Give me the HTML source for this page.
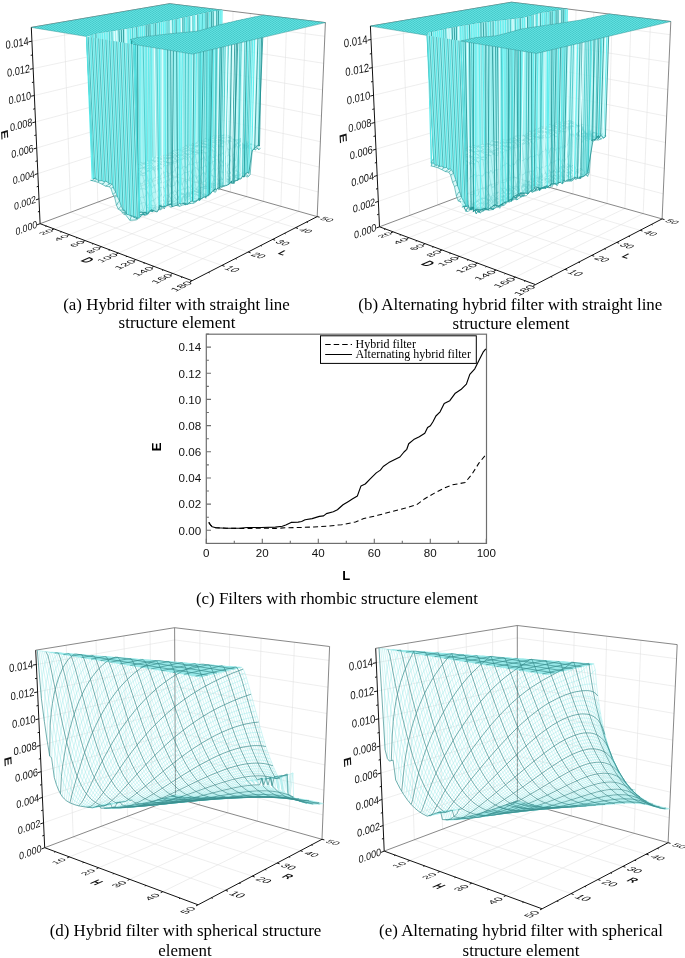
<!DOCTYPE html><html><head><meta charset="utf-8"><style>
html,body{margin:0;padding:0;background:#fff;}
svg{display:block;will-change:transform;}
.grid{fill:none;stroke:#e0e0e0;stroke-width:.55}
.edge{fill:none;stroke:#6a6a6a;stroke-width:.8}
.axis{fill:none;stroke:#111;stroke-width:1}
.tl{font-family:"Liberation Sans",sans-serif;font-size:10px;fill:#111}
.tt{font-family:"Liberation Sans",sans-serif;font-size:10px;font-weight:bold;fill:#111}
.pf{fill:#7fe6e6;fill-opacity:.85}
.ml{fill:none;stroke:#9ae9e9;stroke-width:.45}
.md{fill:none;stroke:#3a8e8e;stroke-width:.7}
.pl{fill:url(#plt);stroke:#3a9a9a;stroke-width:.5}
.wf{fill:#a4f2f2}
.wf2{fill:#a8f3f3;fill-opacity:.7}
.wl0{fill:none;stroke:#5feeee;stroke-width:1.1}
.wl1{fill:none;stroke:#38c2c2;stroke-width:.8}
.wl2{fill:none;stroke:#1c9191;stroke-width:.8}
.wl3{fill:none;stroke:#eaffff;stroke-width:1}
.w0f{fill:#a6f1f1}
.w0a{fill:none;stroke:#27a0a0;stroke-width:.7}
.w0b{fill:none;stroke:#5ae8e8;stroke-width:1}
.vf{fill:#b8f4f4;fill-opacity:.5}
.vl{fill:none;stroke:#229b9b;stroke-width:.6}
.vb{fill:none;stroke:#1f8f8f;stroke-width:.8}
.ct{font-family:"Liberation Sans",sans-serif;font-size:11.6px;fill:#111}
.cb{font-family:"Liberation Sans",sans-serif;font-size:13px;font-weight:bold;fill:#000}
.lg{font-family:"Liberation Serif",serif;font-size:12px;fill:#000}
.cap{font-family:"Liberation Serif",serif;font-size:16.9px;fill:#000}
</style></head><body><svg width="685" height="958" viewBox="0 0 685 958"><defs><pattern id="plt" width="3" height="2" patternUnits="userSpaceOnUse"><rect width="3" height="2" fill="#55d9d9"/><path d="M0 .5h1.5M1.5 1.5h1.5" stroke="#3fc4c4" stroke-width=".7"/><path d="M1.5 .5h1.5M0 1.5h1.5" stroke="#6fe6e6" stroke-width=".5"/></pattern></defs><path class="grid" d="M39 198.8L170.2 153.1M170.2 153.1L318.3 192M37.9 173.6L170.1 131M170.1 131L319.3 167.1M36.7 148L170 108.6M170 108.6L320.4 141.7M35.5 121.9L170 85.9M170 85.9L321.4 116M34.4 95.5L169.9 62.8M169.9 62.8L322.5 89.9M33.1 68.6L169.8 39.4M169.8 39.4L323.7 63.3M31.9 41.2L169.7 15.7M169.7 15.7L324.8 36.3M70.8 212.2L64 21.8M70.8 212.2L222 265.4M97.8 202.1L92.8 16.9M97.8 202.1L248.2 252M123.3 192.5L119.9 12.2M123.3 192.5L272.7 239.4M147.5 183.5L145.5 7.9M147.5 183.5L295.6 227.7M184.1 178.9L184.1 5.5M54.1 228.9L184.1 178.9M199.1 183.1L199.9 7.4M69.4 234.6L199.1 183.1M214.5 187.5L216.2 9.4M85.2 240.6L214.5 187.5M230.4 192L233 11.4M101.5 246.7L230.4 192M246.8 196.6L250.4 13.5M118.4 253L246.8 196.6M263.6 201.4L268.2 15.7M135.8 259.6L263.6 201.4M280.9 206.3L286.7 17.9M153.9 266.4L280.9 206.3M298.8 211.4L305.7 20.3M172.7 273.4L298.8 211.4"/><path class="edge" d="M31.3 27.4L169.6 3.7L325.4 22.6M170.3 175L169.6 3.7M317.2 216.6L325.4 22.6M40.1 223.7L170.3 175L317.2 216.6"/><path class="pl" d="M31.3 27.4L169.6 3.7L222.1 10.1L220.3 10.4L218.5 10.7L216.8 11L215 11.3L213.2 11.6L211.4 11.9L209.6 12.2L207.8 12.5L206 12.9L204.2 13.2L202.6 13.5L201 13.9L199.4 14.2L197.8 14.6L196.2 14.9L194.5 15.3L192.9 15.6L191.3 16L189.6 16.3L188 16.7L186.3 17L184.6 17.4L182.9 17.8L181.3 18.1L179.6 18.5L177.9 18.9L176.1 19.2L174.4 19.6L172.6 20L170.8 20.3L168.9 20.7L167 21.1L165.2 21.4L163.3 21.8L161.4 22.2L159.5 22.5L157.6 22.9L155.7 23.3L153.8 23.7L151.9 24L149.9 24.4L148.1 24.8L146.2 25.2L144.3 25.6L142.4 26L140.5 26.4L138.6 26.8L136.7 27.2L134.7 27.6L132.5 28L130.3 28.3L128 28.7L125.8 29.1L123.5 29.4L121.3 29.8L119 30.2L116.6 30.6L114.2 30.9L111.8 31.3L109.4 31.7L107 32L104.6 32.4L102.2 32.8L100.1 33.2L98 33.6L95.9 34.1L93.7 34.5L92 35L90.4 35.5L88.7 36.1L86.5 36.5Z"/><path class="wf" d="M86.5 36.5L88.7 36.1L90.4 35.5L92 35L93.7 34.5L95.9 34.1L98 33.6L100.1 33.2L102.2 32.8L104.6 32.4L107 32L109.4 31.7L111.8 31.3L114.2 30.9L116.6 30.6L119 30.2L121.3 29.8L123.5 29.4L125.8 29.1L128 28.7L130.3 28.3L132.5 28L134.7 27.6L136.7 27.2L138.6 26.8L140.5 26.4L142.4 26L144.3 25.6L146.2 25.2L148.1 24.8L149.9 24.4L151.9 24L153.8 23.7L155.7 23.3L157.6 22.9L159.5 22.5L161.4 22.2L163.3 21.8L165.2 21.4L167 21.1L168.9 20.7L170.8 20.3L172.6 20L174.4 19.6L176.1 19.2L177.9 18.9L179.6 18.5L181.3 18.1L182.9 17.8L184.6 17.4L186.3 17L188 16.7L189.6 16.3L191.3 16L192.9 15.6L194.5 15.3L196.2 14.9L197.8 14.6L199.4 14.2L201 13.9L202.6 13.5L204.2 13.2L206 12.9L207.8 12.5L209.6 12.2L211.4 11.9L213.2 11.6L215 11.3L216.8 11L218.5 10.7L220.3 10.4L222.1 10.1L220.7 135.4L218.5 134L217.5 135.7L216.1 137.9L215.6 135.3L213.3 137.2L211.7 138.2L211.9 137.7L207.2 140.4L206.2 140.4L202.1 140.2L199.9 141.4L201.5 141L199.5 143L198.6 142.6L196 142.7L197.3 143.7L194.2 143.6L192.9 145L188.7 145.2L189.4 146.7L187.2 146.5L185.3 146.5L183.4 147.5L183.2 149.4L181.9 149.3L178.8 149.8L177.3 151L176.4 152.5L174.6 152.2L173.5 152.7L170 155L167.7 154L164.9 154.6L165.8 156.8L163.1 156.6L160.6 155.7L161 156L156.4 156.1L155.5 159.4L153.5 160.7L152.8 157.7L151 160.1L147.7 161L146.9 161.9L143.6 163L143.5 164.9L140.2 167.5L140 163.3L137.9 163.8L134.8 166.1L134.7 166.4L130.6 167.3L128.5 168.7L124.6 169.3L124.8 169L123.4 169.1L121.1 170.6L118.7 171.3L115.9 172.6L110.6 172.7L109.9 172.9L108.5 173.1L106.6 173.7L103.8 174.3L102.5 175.8L98.5 176.1L98.1 175.6L96.8 179.2L94 178.7L93.8 177.6L92.2 179.1Z"/><path class="wl0" d="M86.5 36.5l5.7 142.6M90.4 35.5l3.7 143.1M93.7 34.5l4.4 141.1M98 33.6l4.5 142.2M100.1 33.2l3.8 141.1M102.2 32.8l4.5 140.9M104.6 32.4l3.9 140.7M107 32l2.9 140.9M128 28.7l2.6 138.6M130.3 28.3l4.4 138.1M134.7 27.6l3.2 136.2M138.6 26.8l1.6 140.7M140.5 26.4l3 138.5M142.4 26l1.2 137.1M144.3 25.6l2.5 136.3M151.9 24l1.6 136.6M157.6 22.9l3.3 133.1M161.4 22.2l1.7 134.5M163.3 21.8l2.5 135M165.2 21.4l-.2 133.2M174.4 19.6l2 132.9M177.9 18.9l1 130.9M179.6 18.5l2.3 130.8M186.3 17l.9 129.4M194.5 15.3l2.8 128.5M199.4 14.2l.1 128.7M201 13.9l.5 127.1M204.2 13.2l-2.1 127M209.6 12.2l2.3 125.5M220.3 10.4l-1.8 123.6M222.1 10.1l-1.4 125.3"/><path class="wl1" d="M92 35l4.8 144.2M109.4 31.7l1.2 141.1M111.8 31.3l4.1 141.3M132.5 28l2.3 138.1M153.8 23.7l1.7 135.7M159.5 22.5l1.1 133.2M167 21.1l.7 132.9M168.9 20.7l1.1 134.3M172.6 20l2 132.2M184.6 17.4l.7 129.1M188 16.7l1.4 130.1M189.6 16.3l-.9 128.9M192.9 15.6l1.3 128M202.6 13.5l-2.6 127.9"/><path class="wl2" d="M95.9 34.1l2.6 142.1M119 30.2l4.5 138.9M121.3 29.8l3.6 139.1M123.5 29.4l1.1 139.9M136.7 27.2l3.4 136.2M146.2 25.2l1.5 135.8M148.1 24.8l2.9 135.3M149.9 24.4l2.9 133.2M155.7 23.3l.7 132.9M176.1 19.2l1.2 131.7M182.9 17.8l.5 129.8M197.8 14.6l.9 128M206 12.9l.2 127.5M207.8 12.5l-.6 127.9M211.4 11.9l.3 126.3M213.2 11.6l.1 125.6M216.8 11l-.6 126.9M218.5 10.7l-1 125"/><path class="wl3" d="M88.7 36.1l5.1 141.5M114.2 30.9l4.5 140.4M116.6 30.6l4.5 140.1M125.8 29.1l2.7 139.6M170.8 20.3l2.8 132.4M181.3 18.1l1.9 131.3M191.3 16l1.7 129M196.2 14.9l-.2 127.8M215 11.3l.7 124"/><path class="vf" d="M90.6 180.3L92.8 180.3L94.3 178.2L95.9 178.1L97.5 175.5L99.5 175.9L101.5 174.7L103.6 174.7L105.6 173.8L107.9 174.3L110.2 172.1L112.5 170.3L114.8 171.9L117.1 171.5L119.4 170.4L121.7 170.1L123.8 169.7L126 168.2L128.2 168L130.3 165.6L132.5 166.4L134.6 165.4L136.7 164.1L138.6 164.7L140.4 162.2L142.2 163.7L144.1 163.1L145.9 162L147.7 161L149.5 161.7L151.3 159.6L153.1 160.6L155 156.8L156.8 157.7L158.6 157.6L160.5 157.2L162.3 156L164.1 155.2L165.9 155.4L167.7 154.6L169.5 153.2L171.3 152.9L173 150.9L174.8 150L176.4 150.5L178.1 149.4L179.7 150.5L181.3 147.9L183 148L184.6 146.8L186.2 145.1L187.8 148.2L189.4 145.1L191 145.8L192.5 143.6L194.1 144.8L195.7 143.4L197.2 142.1L198.8 141.1L200.3 141L201.9 141.2L203.4 140.4L205.1 138.4L206.9 138.7L208.6 139.8L210.4 136.9L212.1 136.7L213.8 135.8L215.5 136.4L217.3 134.7L218.9 136L220.7 133.9L224.5 134L222.9 135.5L221.2 136.2L219.5 137.6L217.8 136.6L216.1 138.4L214.4 138.3L212.7 138.6L210.9 139.9L209.2 140.2L207.5 141L205.9 141.3L204.4 141.2L202.8 143.3L201.2 142.4L199.7 142.9L198.1 145.6L196.5 145.4L194.9 146.9L193.3 145.6L191.6 149.2L190 148.6L188.4 147.1L186.8 148.5L185.1 148.6L183.5 149.6L181.8 152.4L180.1 149.5L178.5 152.6L176.7 153.3L174.9 154.7L173.1 153.3L171.4 155.5L169.6 155.1L167.7 155.8L165.9 158.3L164.1 157.4L162.3 158.2L160.5 158.7L158.6 158.4L156.7 159.2L154.9 161.3L153.1 160.6L151.3 160.8L149.5 162.7L147.6 163.5L145.8 164.9L143.9 163.7L142.1 165.4L140.2 164.5L138.1 166.6L136 166.9L133.9 168.8L131.8 167.7L129.6 168.9L127.5 171.3L125.4 172.1L123.1 170L120.9 172.6L118.7 174.4L116.4 171.1L114.2 173.2L111.9 174.2L109.7 176.6L107.6 175.3L105.6 175.4L103.5 177.2L101.5 177.8L99.8 179.1L98 178L96.4 179.2L94.3 181.2ZM94.3 181.2L96.4 179.2L98 178L99.8 179.1L101.5 177.8L103.5 177.2L105.6 175.4L107.6 175.3L109.7 176.6L111.9 174.2L114.2 173.2L116.4 171.1L118.7 174.4L120.9 172.6L123.1 170L125.4 172.1L127.5 171.3L129.6 168.9L131.8 167.7L133.9 168.8L136 166.9L138.1 166.6L140.2 164.5L142.1 165.4L143.9 163.7L145.8 164.9L147.6 163.5L149.5 162.7L151.3 160.8L153.1 160.6L154.9 161.3L156.7 159.2L158.6 158.4L160.5 158.7L162.3 158.2L164.1 157.4L165.9 158.3L167.7 155.8L169.6 155.1L171.4 155.5L173.1 153.3L174.9 154.7L176.7 153.3L178.5 152.6L180.1 149.5L181.8 152.4L183.5 149.6L185.1 148.6L186.8 148.5L188.4 147.1L190 148.6L191.6 149.2L193.3 145.6L194.9 146.9L196.5 145.4L198.1 145.6L199.7 142.9L201.2 142.4L202.8 143.3L204.4 141.2L205.9 141.3L207.5 141L209.2 140.2L210.9 139.9L212.7 138.6L214.4 138.3L216.1 138.4L217.8 136.6L219.5 137.6L221.2 136.2L222.9 135.5L224.5 134L228.4 137.6L226.8 134.8L225.1 138.7L223.5 137.9L221.8 138.3L220.1 141.1L218.4 139.1L216.7 140.5L215 140.5L213.3 141L211.6 140.8L210 142.3L208.5 144.2L206.9 144.4L205.3 144.4L203.7 143.6L202.1 144.5L200.4 146.2L198.8 144.2L197.2 147L195.5 147L193.9 148.1L192.2 149.5L190.6 150.5L188.9 149.9L187.2 150.9L185.6 151.6L183.9 151.8L182.2 152.8L180.4 155.2L178.6 154.4L176.8 155.9L175 155.2L173.2 156.1L171.4 157.1L169.6 157.8L167.8 158.2L166 158.6L164.1 160L162.3 159.5L160.4 159.2L158.6 161.5L156.7 160.4L154.9 161.5L153.1 163.6L151.2 162.4L149.3 164.8L147.5 165.9L145.6 167.2L143.7 167.6L141.6 167.7L139.6 168.7L137.5 168.2L135.4 167.6L133.3 169.5L131.2 171.1L129.1 172.3L126.9 172.1L124.7 172.2L122.5 172.4L120.4 173.4L118.2 175.9L116 176.5L113.7 177.8L111.7 178.5L109.6 177.9L107.6 177.8L105.5 179.6L103.7 179.7L101.9 180L100.1 179.1L98 182.3ZM98 182.3L100.1 179.1L101.9 180L103.7 179.7L105.5 179.6L107.6 177.8L109.6 177.9L111.7 178.5L113.7 177.8L116 176.5L118.2 175.9L120.4 173.4L122.5 172.4L124.7 172.2L126.9 172.1L129.1 172.3L131.2 171.1L133.3 169.5L135.4 167.6L137.5 168.2L139.6 168.7L141.6 167.7L143.7 167.6L145.6 167.2L147.5 165.9L149.3 164.8L151.2 162.4L153.1 163.6L154.9 161.5L156.7 160.4L158.6 161.5L160.4 159.2L162.3 159.5L164.1 160L166 158.6L167.8 158.2L169.6 157.8L171.4 157.1L173.2 156.1L175 155.2L176.8 155.9L178.6 154.4L180.4 155.2L182.2 152.8L183.9 151.8L185.6 151.6L187.2 150.9L188.9 149.9L190.6 150.5L192.2 149.5L193.9 148.1L195.5 147L197.2 147L198.8 144.2L200.4 146.2L202.1 144.5L203.7 143.6L205.3 144.4L206.9 144.4L208.5 144.2L210 142.3L211.6 140.8L213.3 141L215 140.5L216.7 140.5L218.4 139.1L220.1 141.1L221.8 138.3L223.5 137.9L225.1 138.7L226.8 134.8L228.4 137.6L232.4 137.2L230.7 136.9L229.1 137.7L227.5 137.1L225.8 139.1L224.1 141.8L222.5 140.4L220.8 139.4L219.1 141.9L217.5 142.2L215.8 143.4L214.2 142.5L212.6 143L211 143.8L209.3 146L207.7 145.6L206.1 146.5L204.4 146.9L202.8 146.9L201.1 147.1L199.5 148L197.8 151.1L196.1 151L194.4 151.4L192.7 152.6L191 150.9L189.3 152.6L187.6 154.5L185.9 153.6L184.1 153.6L182.3 155.4L180.5 155.2L178.8 157.6L176.9 156.3L175.1 157.9L173.3 157.6L171.5 158L169.6 158L167.8 160L166 162.5L164.1 161.6L162.2 161.9L160.4 163.8L158.5 164.5L156.7 165.9L154.8 167.4L152.9 167.5L151 165.3L149.1 167.3L147.2 168.9L145.2 166.4L143.2 167.9L141.2 171.8L139.1 170.2L137 170.5L135 173.3L132.9 172.1L130.8 173.3L128.6 173.4L126.5 175.2L124.4 176.6L122.2 177.8L120 175.3L117.9 178.5L115.8 179.9L113.7 178.9L111.6 179L109.6 179.4L107.7 181.6L105.7 180.1L103.9 183.4L101.7 184ZM101.7 184L103.9 183.4L105.7 180.1L107.7 181.6L109.6 179.4L111.6 179L113.7 178.9L115.8 179.9L117.9 178.5L120 175.3L122.2 177.8L124.4 176.6L126.5 175.2L128.6 173.4L130.8 173.3L132.9 172.1L135 173.3L137 170.5L139.1 170.2L141.2 171.8L143.2 167.9L145.2 166.4L147.2 168.9L149.1 167.3L151 165.3L152.9 167.5L154.8 167.4L156.7 165.9L158.5 164.5L160.4 163.8L162.2 161.9L164.1 161.6L166 162.5L167.8 160L169.6 158L171.5 158L173.3 157.6L175.1 157.9L176.9 156.3L178.8 157.6L180.5 155.2L182.3 155.4L184.1 153.6L185.9 153.6L187.6 154.5L189.3 152.6L191 150.9L192.7 152.6L194.4 151.4L196.1 151L197.8 151.1L199.5 148L201.1 147.1L202.8 146.9L204.4 146.9L206.1 146.5L207.7 145.6L209.3 146L211 143.8L212.6 143L214.2 142.5L215.8 143.4L217.5 142.2L219.1 141.9L220.8 139.4L222.5 140.4L224.1 141.8L225.8 139.1L227.5 137.1L229.1 137.7L230.7 136.9L232.4 137.2L236.3 139.8L234.7 140.1L233.1 139.9L231.5 138.8L229.9 140.4L228.2 140.4L226.6 141.2L224.9 142L223.3 142.1L221.6 143.6L220 144.3L218.3 145.3L216.7 144.1L215.1 146.1L213.4 148.1L211.8 145.2L210.1 147.8L208.5 148.3L206.8 146.9L205.1 146.7L203.4 150.3L201.7 150.1L200 152L198.3 152.5L196.6 152.8L194.9 152.3L193.1 152L191.4 153.9L189.6 154.3L187.9 154.9L186.1 156.6L184.3 156.1L182.5 157.5L180.7 159.7L178.9 158.9L177.1 161L175.2 158L173.4 161.4L171.5 163L169.7 162.5L167.8 162.9L165.9 161.7L164.1 163.9L162.2 164.5L160.3 163.7L158.4 165.6L156.5 167.9L154.6 169.3L152.7 168L150.8 167.8L148.8 170.4L146.8 171L144.8 172.8L142.8 173.4L140.8 173L138.7 173.7L136.7 177.3L134.6 174.6L132.5 176.6L130.5 179.1L128.4 177.8L126.2 176.7L124.1 179.1L122 179.3L119.9 178.8L117.9 180.8L115.7 180.1L113.7 181L111.6 181.9L109.6 183.7L107.6 185.2L105.5 186.1ZM105.5 186.1L107.6 185.2L109.6 183.7L111.6 181.9L113.7 181L115.7 180.1L117.9 180.8L119.9 178.8L122 179.3L124.1 179.1L126.2 176.7L128.4 177.8L130.5 179.1L132.5 176.6L134.6 174.6L136.7 177.3L138.7 173.7L140.8 173L142.8 173.4L144.8 172.8L146.8 171L148.8 170.4L150.8 167.8L152.7 168L154.6 169.3L156.5 167.9L158.4 165.6L160.3 163.7L162.2 164.5L164.1 163.9L165.9 161.7L167.8 162.9L169.7 162.5L171.5 163L173.4 161.4L175.2 158L177.1 161L178.9 158.9L180.7 159.7L182.5 157.5L184.3 156.1L186.1 156.6L187.9 154.9L189.6 154.3L191.4 153.9L193.1 152L194.9 152.3L196.6 152.8L198.3 152.5L200 152L201.7 150.1L203.4 150.3L205.1 146.7L206.8 146.9L208.5 148.3L210.1 147.8L211.8 145.2L213.4 148.1L215.1 146.1L216.7 144.1L218.3 145.3L220 144.3L221.6 143.6L223.3 142.1L224.9 142L226.6 141.2L228.2 140.4L229.9 140.4L231.5 138.8L233.1 139.9L234.7 140.1L236.3 139.8L240.3 139.1L238.7 139.4L237.1 141.3L235.5 140.7L233.9 141.9L232.3 141.7L230.7 141L229.1 141.5L227.5 144.8L225.9 142.3L224.2 147.1L222.5 146.3L220.9 146.6L219.2 146.4L217.6 147.8L215.9 149.8L214.2 152L212.5 149.7L210.8 150.3L209.1 150.9L207.4 152.6L205.7 152.9L203.9 152.9L202.2 152.3L200.5 153.8L198.7 153.1L197 154.3L195.2 154.3L193.4 157.1L191.6 159.4L189.9 156.4L188.1 158.4L186.3 159.4L184.5 157.8L182.6 159.6L180.8 159.1L179 162.4L177.1 161.4L175.3 163.5L173.4 162.6L171.6 164.8L169.7 163.7L167.8 165.8L165.9 165.7L164 165.8L162.1 168.8L160.2 168.5L158.2 168.2L156.3 171.7L154.4 170.2L152.4 169.6L150.4 171.4L148.5 170.3L146.5 172.9L144.5 175.9L142.5 175.2L140.5 174.9L138.5 178.1L136.5 176.9L134.5 179.7L132.4 177L130.3 179.3L128.3 181.1L126.2 180.9L124.1 181.5L122 182.2L119.9 183.2L117.8 183.2L115.6 182.8L113.5 182.4L111.4 184.9L109.2 186.8ZM109.2 186.8L111.4 184.9L113.5 182.4L115.6 182.8L117.8 183.2L119.9 183.2L122 182.2L124.1 181.5L126.2 180.9L128.3 181.1L130.3 179.3L132.4 177L134.5 179.7L136.5 176.9L138.5 178.1L140.5 174.9L142.5 175.2L144.5 175.9L146.5 172.9L148.5 170.3L150.4 171.4L152.4 169.6L154.4 170.2L156.3 171.7L158.2 168.2L160.2 168.5L162.1 168.8L164 165.8L165.9 165.7L167.8 165.8L169.7 163.7L171.6 164.8L173.4 162.6L175.3 163.5L177.1 161.4L179 162.4L180.8 159.1L182.6 159.6L184.5 157.8L186.3 159.4L188.1 158.4L189.9 156.4L191.6 159.4L193.4 157.1L195.2 154.3L197 154.3L198.7 153.1L200.5 153.8L202.2 152.3L203.9 152.9L205.7 152.9L207.4 152.6L209.1 150.9L210.8 150.3L212.5 149.7L214.2 152L215.9 149.8L217.6 147.8L219.2 146.4L220.9 146.6L222.5 146.3L224.2 147.1L225.9 142.3L227.5 144.8L229.1 141.5L230.7 141L232.3 141.7L233.9 141.9L235.5 140.7L237.1 141.3L238.7 139.4L240.3 139.1L241.9 144.3L240.4 140.6L238.8 143.7L237.2 142.6L235.5 147.1L233.9 146.8L232.3 149.7L230.7 148.1L229.1 150.3L227.5 148.2L225.8 151.5L224.1 155L222.5 152.7L220.8 156.3L219.2 154.1L217.5 156.9L215.8 154.9L214.1 157.7L212.4 157.2L210.8 155.2L209 155.8L207.3 160.8L205.6 160.1L203.9 156.6L202.1 159.5L200.4 159.3L198.6 162.5L196.9 163.1L195.1 162.2L193.3 163.8L191.5 164.6L189.8 164.1L188 164.9L186.1 168.1L184.3 166.1L182.5 167.7L180.7 168.8L178.8 167.9L177 167.2L175.1 169.1L173.3 172.5L171.4 171.8L169.5 174L167.6 172.4L165.7 171.3L163.8 173.1L161.9 173.1L160 177.2L158.1 177L156.1 177.9L154.2 177.9L152.3 181.2L150.2 178L148.3 181.6L146.3 180L144.3 180.5L142.3 183.9L140.3 183.7L138.3 183L136.2 184.3L134.2 182.8L132.1 184.1L130.1 184.8L128 188.9L126 189.1L123.9 189.8L121.8 189.5L119.6 186.1L117.5 188.4L115.2 184.9L113.1 187L111 188.5ZM111 188.5L113.1 187L115.2 184.9L117.5 188.4L119.6 186.1L121.8 189.5L123.9 189.8L126 189.1L128 188.9L130.1 184.8L132.1 184.1L134.2 182.8L136.2 184.3L138.3 183L140.3 183.7L142.3 183.9L144.3 180.5L146.3 180L148.3 181.6L150.2 178L152.3 181.2L154.2 177.9L156.1 177.9L158.1 177L160 177.2L161.9 173.1L163.8 173.1L165.7 171.3L167.6 172.4L169.5 174L171.4 171.8L173.3 172.5L175.1 169.1L177 167.2L178.8 167.9L180.7 168.8L182.5 167.7L184.3 166.1L186.1 168.1L188 164.9L189.8 164.1L191.5 164.6L193.3 163.8L195.1 162.2L196.9 163.1L198.6 162.5L200.4 159.3L202.1 159.5L203.9 156.6L205.6 160.1L207.3 160.8L209 155.8L210.8 155.2L212.4 157.2L214.1 157.7L215.8 154.9L217.5 156.9L219.2 154.1L220.8 156.3L222.5 152.7L224.1 155L225.8 151.5L227.5 148.2L229.1 150.3L230.7 148.1L232.3 149.7L233.9 146.8L235.5 147.1L237.2 142.6L238.8 143.7L240.4 140.6L241.9 144.3L243.6 143.4L242 143.5L240.5 138.2L238.8 145.2L237.3 142.8L235.7 143.8L233.9 154.7L232.3 155L230.7 156.7L229.1 154.7L227.4 155.9L225.8 156.8L224.1 159.3L222.4 162.5L220.8 159.8L219.1 162.7L217.5 159.2L215.8 159.6L214.1 161.4L212.4 161.8L210.7 163.8L209 162.2L207.2 166.8L205.5 165.4L203.8 166.6L202 168.4L200.3 167.1L198.5 170.7L196.8 168L195 167.5L193.2 169.5L191.4 173L189.6 171.3L187.8 172.2L186 172.6L184.2 172.3L182.4 174.8L180.6 175.4L178.7 174L176.9 177L175 178.1L173.1 176.8L171.3 178.7L169.4 179.6L167.5 181L165.6 180.8L163.7 182.9L161.8 182.4L159.8 182.9L157.9 183.1L156 185.1L154 185.1L152.1 187.9L150 183.6L148.1 186.4L146.1 189.8L144.1 188.6L142.1 189L140.1 188.8L138.1 194.1L136.1 196.3L134 192.8L131.9 194.6L129.9 194.4L127.7 192.8L125.7 198L123.6 196.2L121.4 194.6L119.2 189.5L117.1 189.9L115 193L112.8 194.3ZM112.8 194.3L115 193L117.1 189.9L119.2 189.5L121.4 194.6L123.6 196.2L125.7 198L127.7 192.8L129.9 194.4L131.9 194.6L134 192.8L136.1 196.3L138.1 194.1L140.1 188.8L142.1 189L144.1 188.6L146.1 189.8L148.1 186.4L150 183.6L152.1 187.9L154 185.1L156 185.1L157.9 183.1L159.8 182.9L161.8 182.4L163.7 182.9L165.6 180.8L167.5 181L169.4 179.6L171.3 178.7L173.1 176.8L175 178.1L176.9 177L178.7 174L180.6 175.4L182.4 174.8L184.2 172.3L186 172.6L187.8 172.2L189.6 171.3L191.4 173L193.2 169.5L195 167.5L196.8 168L198.5 170.7L200.3 167.1L202 168.4L203.8 166.6L205.5 165.4L207.2 166.8L209 162.2L210.7 163.8L212.4 161.8L214.1 161.4L215.8 159.6L217.5 159.2L219.1 162.7L220.8 159.8L222.4 162.5L224.1 159.3L225.8 156.8L227.4 155.9L229.1 154.7L230.7 156.7L232.3 155L233.9 154.7L235.7 143.8L237.3 142.8L238.8 145.2L240.5 138.2L242 143.5L243.6 143.4L245.2 144.4L243.7 145.1L242.1 145L240.5 144.9L238.9 146L237.3 147.3L235.5 160.7L233.9 159.5L232.3 162.4L230.7 160L229 164.1L227.3 166.1L225.7 163.1L224.1 166L222.4 165.8L220.8 164.8L219.1 169.4L217.4 168L215.7 170.8L214 168L212.3 170.1L210.6 172.4L208.9 171.7L207.2 169.1L205.4 174.7L203.7 171.8L202 174L200.2 177.1L198.5 175.5L196.7 178.8L194.9 174.9L193.1 176L191.3 179.4L189.5 177.8L187.7 181.3L185.9 181.9L184.1 179.7L182.3 185.1L180.4 182.2L178.6 182.7L176.7 180.2L174.9 185.2L173 185.7L171.1 186.8L169.2 186L167.3 183.7L165.4 189.3L163.5 187.4L161.6 187.4L159.6 187.4L157.7 191.4L155.8 192L153.8 192.2L151.9 193.7L149.9 196.4L147.9 192.5L145.9 194.9L143.9 197.8L141.9 196.8L139.9 197.9L137.8 198.4L135.8 201.3L133.8 202L131.7 203.4L129.6 199.6L127.5 199L125.4 200.1L123.2 196.3L121.1 198.5L118.9 195.8L116.8 196.2L114.6 197.3ZM114.6 197.3L116.8 196.2L118.9 195.8L121.1 198.5L123.2 196.3L125.4 200.1L127.5 199L129.6 199.6L131.7 203.4L133.8 202L135.8 201.3L137.8 198.4L139.9 197.9L141.9 196.8L143.9 197.8L145.9 194.9L147.9 192.5L149.9 196.4L151.9 193.7L153.8 192.2L155.8 192L157.7 191.4L159.6 187.4L161.6 187.4L163.5 187.4L165.4 189.3L167.3 183.7L169.2 186L171.1 186.8L173 185.7L174.9 185.2L176.7 180.2L178.6 182.7L180.4 182.2L182.3 185.1L184.1 179.7L185.9 181.9L187.7 181.3L189.5 177.8L191.3 179.4L193.1 176L194.9 174.9L196.7 178.8L198.5 175.5L200.2 177.1L202 174L203.7 171.8L205.4 174.7L207.2 169.1L208.9 171.7L210.6 172.4L212.3 170.1L214 168L215.7 170.8L217.4 168L219.1 169.4L220.8 164.8L222.4 165.8L224.1 166L225.7 163.1L227.3 166.1L229 164.1L230.7 160L232.3 162.4L233.9 159.5L235.5 160.7L237.3 147.3L238.9 146L240.5 144.9L242.1 145L243.7 145.1L245.2 144.4L247 141L245.3 145.9L243.7 148.7L242.2 144.2L240.6 146L239 145.3L237.1 166.8L235.5 167.3L233.8 168.9L232.2 169.1L230.6 173.3L229 170.8L227.3 171.5L225.7 171.9L224 172.8L222.4 172L220.7 172.1L219.1 170.8L217.3 176.4L215.6 176.8L214 176.6L212.3 175.4L210.6 175.8L208.8 177.8L207.1 177.5L205.4 181.2L203.6 181.5L201.9 182.9L200.1 178.1L198.4 181.9L196.6 182L194.8 182.3L193 183.1L191.2 186.8L189.4 188L187.6 185.6L185.8 189.2L184 188.7L182.1 189.2L180.3 190.9L178.5 190.2L176.6 192.9L174.7 190.4L172.9 193.5L171 192.3L169.1 195.3L167.2 195.5L165.3 194L163.4 197.9L161.4 193.9L159.5 197.7L157.5 197.3L155.6 198.2L153.6 200.9L151.7 200.3L149.7 203L147.7 206L145.7 203.3L143.7 202.6L141.6 203.3L139.6 204.4L137.6 205.6L135.5 205.9L133.5 207.9L131.5 211.4L129.3 208.3L127.2 204.9L125.1 207.3L122.9 200.9L120.7 200.4L118.6 201.7L116.5 205.3ZM116.5 205.3L118.6 201.7L120.7 200.4L122.9 200.9L125.1 207.3L127.2 204.9L129.3 208.3L131.5 211.4L133.5 207.9L135.5 205.9L137.6 205.6L139.6 204.4L141.6 203.3L143.7 202.6L145.7 203.3L147.7 206L149.7 203L151.7 200.3L153.6 200.9L155.6 198.2L157.5 197.3L159.5 197.7L161.4 193.9L163.4 197.9L165.3 194L167.2 195.5L169.1 195.3L171 192.3L172.9 193.5L174.7 190.4L176.6 192.9L178.5 190.2L180.3 190.9L182.1 189.2L184 188.7L185.8 189.2L187.6 185.6L189.4 188L191.2 186.8L193 183.1L194.8 182.3L196.6 182L198.4 181.9L200.1 178.1L201.9 182.9L203.6 181.5L205.4 181.2L207.1 177.5L208.8 177.8L210.6 175.8L212.3 175.4L214 176.6L215.6 176.8L217.3 176.4L219.1 170.8L220.7 172.1L222.4 172L224 172.8L225.7 171.9L227.3 171.5L229 170.8L230.6 173.3L232.2 169.1L233.8 168.9L235.5 167.3L237.1 166.8L239 145.3L240.6 146L242.2 144.2L243.7 148.7L245.3 145.9L247 141L248.7 141.6L247.1 145.4L245.5 146.4L243.9 144.8L242.3 146.1L240.7 149.1L238.7 171.1L237.1 171.6L235.5 170.4L233.9 173.6L232.2 174.5L230.6 172.8L229 174.1L227.4 172.6L225.7 174.1L224 176.5L222.3 179.9L220.7 176.7L219 181.2L217.3 178.7L215.6 179.9L213.9 179.5L212.2 182.4L210.5 185.6L208.8 181.7L207 183.4L205.3 185.7L203.6 186.6L201.8 187.7L200 187.9L198.3 185.7L196.5 189.8L194.7 187.7L192.9 188.5L191.1 189.6L189.3 195.4L187.5 191.7L185.7 196.1L183.9 193.5L182 194.4L180.2 195.3L178.3 197.4L176.4 193.6L174.6 195.5L172.7 196.7L170.8 198.6L168.9 195.7L167 201L165.1 201.5L163.2 199.7L161.2 201L159.3 201.3L157.3 203.5L155.4 205.5L153.4 205.6L151.4 205.3L149.5 206.9L147.5 207.8L145.4 204.1L143.5 211L141.4 209.5L139.4 211.4L137.4 211.7L135.3 215.3L133.3 215.6L131.2 215.9L129.1 213.1L126.8 207.4L124.7 208.1L122.5 204.2L120.4 206.8L118.3 209.3ZM118.3 209.3L120.4 206.8L122.5 204.2L124.7 208.1L126.8 207.4L129.1 213.1L131.2 215.9L133.3 215.6L135.3 215.3L137.4 211.7L139.4 211.4L141.4 209.5L143.5 211L145.4 204.1L147.5 207.8L149.5 206.9L151.4 205.3L153.4 205.6L155.4 205.5L157.3 203.5L159.3 201.3L161.2 201L163.2 199.7L165.1 201.5L167 201L168.9 195.7L170.8 198.6L172.7 196.7L174.6 195.5L176.4 193.6L178.3 197.4L180.2 195.3L182 194.4L183.9 193.5L185.7 196.1L187.5 191.7L189.3 195.4L191.1 189.6L192.9 188.5L194.7 187.7L196.5 189.8L198.3 185.7L200 187.9L201.8 187.7L203.6 186.6L205.3 185.7L207 183.4L208.8 181.7L210.5 185.6L212.2 182.4L213.9 179.5L215.6 179.9L217.3 178.7L219 181.2L220.7 176.7L222.3 179.9L224 176.5L225.7 174.1L227.4 172.6L229 174.1L230.6 172.8L232.2 174.5L233.9 173.6L235.5 170.4L237.1 171.6L238.7 171.1L240.7 149.1L242.3 146.1L243.9 144.8L245.5 146.4L247.1 145.4L248.7 141.6L250.3 144.4L248.7 146L247.2 142.9L245.6 145.8L244 146.5L242.4 147.9L240.4 171.9L238.8 172.8L237.2 172.9L235.5 176L233.9 175.4L232.3 175.2L230.6 179L229 177.5L227.4 175.7L225.7 178L224.1 177.8L222.4 179.7L220.7 179.3L219 181.1L217.3 183.5L215.6 182.6L213.9 183.8L212.2 183.2L210.5 184.5L208.8 183.9L207 187.2L205.3 186.8L203.5 187L201.8 187.2L200 188.3L198.2 190.5L196.4 188.8L194.6 190.9L192.8 191.1L191 193.8L189.2 193.6L187.4 191.9L185.6 195.4L183.7 194L181.9 192.9L180 196.4L178.2 198L176.3 199.9L174.4 197.1L172.5 201.5L170.6 198.3L168.7 201.9L166.8 201.1L164.9 203.1L163 204.5L161 205.6L159.1 204.2L157.1 206.9L155.2 207.2L153.2 208.3L151.2 211.5L149.2 208.7L147.2 210.5L145.2 212.5L143.2 212.3L141.1 211.3L139.1 214.2L137.1 216L134.9 212.2L132.9 215.8L130.7 210.7L128.7 211.8L126.5 210.7L124.4 210.7L122.2 210.1L120.1 210.1ZM120.1 210.1L122.2 210.1L124.4 210.7L126.5 210.7L128.7 211.8L130.7 210.7L132.9 215.8L134.9 212.2L137.1 216L139.1 214.2L141.1 211.3L143.2 212.3L145.2 212.5L147.2 210.5L149.2 208.7L151.2 211.5L153.2 208.3L155.2 207.2L157.1 206.9L159.1 204.2L161 205.6L163 204.5L164.9 203.1L166.8 201.1L168.7 201.9L170.6 198.3L172.5 201.5L174.4 197.1L176.3 199.9L178.2 198L180 196.4L181.9 192.9L183.7 194L185.6 195.4L187.4 191.9L189.2 193.6L191 193.8L192.8 191.1L194.6 190.9L196.4 188.8L198.2 190.5L200 188.3L201.8 187.2L203.5 187L205.3 186.8L207 187.2L208.8 183.9L210.5 184.5L212.2 183.2L213.9 183.8L215.6 182.6L217.3 183.5L219 181.1L220.7 179.3L222.4 179.7L224.1 177.8L225.7 178L227.4 175.7L229 177.5L230.6 179L232.3 175.2L233.9 175.4L235.5 176L237.2 172.9L238.8 172.8L240.4 171.9L242.4 147.9L244 146.5L245.6 145.8L247.2 142.9L248.7 146L250.3 144.4L252 144.1L250.5 144.1L248.9 146.4L247.3 146.1L245.7 148.9L244.2 144.9L242.1 172.4L240.4 174.5L238.8 176.5L237.2 175.3L235.6 175.1L234 177.4L232.3 178.4L230.7 178.9L229.1 178.2L227.4 180.1L225.7 180.5L224.1 179.9L222.4 183.2L220.7 184.3L219 182.6L217.3 184.5L215.6 184.7L213.9 183.2L212.2 186.8L210.4 188.8L208.7 188.9L207 186.6L205.2 185.9L203.5 188.1L201.7 190.1L199.9 190.2L198.1 192.2L196.4 192.8L194.6 193.9L192.8 193.2L191 191L189.1 196.7L187.3 195.7L185.5 201.1L183.6 195.7L181.8 200.9L179.9 194.6L178 197.5L176.2 200.6L174.3 201L172.4 203.1L170.5 200.7L168.6 201.8L166.6 204.9L164.7 207.1L162.8 203.1L160.8 209.2L158.9 207.7L156.9 206.6L154.9 206.7L153 210.5L150.9 207.1L148.9 210.7L146.9 211.5L144.9 214.4L142.9 212.9L140.9 215.5L138.8 217.5L136.8 217.1L134.7 216.8L132.5 213.9L130.5 216.1L128.2 207.9L126.2 213.7L124.1 214.8L121.9 212ZM121.9 212L124.1 214.8L126.2 213.7L128.2 207.9L130.5 216.1L132.5 213.9L134.7 216.8L136.8 217.1L138.8 217.5L140.9 215.5L142.9 212.9L144.9 214.4L146.9 211.5L148.9 210.7L150.9 207.1L153 210.5L154.9 206.7L156.9 206.6L158.9 207.7L160.8 209.2L162.8 203.1L164.7 207.1L166.6 204.9L168.6 201.8L170.5 200.7L172.4 203.1L174.3 201L176.2 200.6L178 197.5L179.9 194.6L181.8 200.9L183.6 195.7L185.5 201.1L187.3 195.7L189.1 196.7L191 191L192.8 193.2L194.6 193.9L196.4 192.8L198.1 192.2L199.9 190.2L201.7 190.1L203.5 188.1L205.2 185.9L207 186.6L208.7 188.9L210.4 188.8L212.2 186.8L213.9 183.2L215.6 184.7L217.3 184.5L219 182.6L220.7 184.3L222.4 183.2L224.1 179.9L225.7 180.5L227.4 180.1L229.1 178.2L230.7 178.9L232.3 178.4L234 177.4L235.6 175.1L237.2 175.3L238.8 176.5L240.4 174.5L242.1 172.4L244.2 144.9L245.7 148.9L247.3 146.1L248.9 146.4L250.5 144.1L252 144.1L253.8 144.1L252.2 144.6L250.6 143.7L249 148.5L247.4 147.3L245.8 148.9L243.8 172.3L242.2 172.9L240.6 173.4L238.9 179.1L237.3 178.3L235.7 175.9L234 179.4L232.4 179.7L230.8 176.1L229.1 179.9L227.5 179L225.8 178.8L224.1 181.2L222.4 184.7L220.8 178.9L219 183.7L217.3 184.2L215.6 185L213.9 185.6L212.2 184.6L210.4 188L208.7 186.4L206.9 188.7L205.2 188.4L203.4 189.1L201.6 192.4L199.9 192.7L198.1 192.3L196.3 191.6L194.5 191.1L192.7 191.3L190.9 193.9L189 192.4L187.2 196.1L185.3 197.9L183.5 196L181.6 197.9L179.8 200.7L177.9 199.3L176 203.3L174.1 205L172.2 202.9L170.3 203.6L168.4 203.8L166.4 205.1L164.5 206L162.6 206.2L160.6 206.3L158.7 210.1L156.7 210.6L154.7 207L152.7 211.7L150.7 210.8L148.7 211.4L146.7 214.8L144.6 215.3L142.6 214.3L140.6 216.8L138.5 214.6L136.4 213.7L134.3 214.9L132.2 213.7L130.1 214.5L127.9 214.1L125.8 213.1L123.6 212.3ZM123.6 212.3L125.8 213.1L127.9 214.1L130.1 214.5L132.2 213.7L134.3 214.9L136.4 213.7L138.5 214.6L140.6 216.8L142.6 214.3L144.6 215.3L146.7 214.8L148.7 211.4L150.7 210.8L152.7 211.7L154.7 207L156.7 210.6L158.7 210.1L160.6 206.3L162.6 206.2L164.5 206L166.4 205.1L168.4 203.8L170.3 203.6L172.2 202.9L174.1 205L176 203.3L177.9 199.3L179.8 200.7L181.6 197.9L183.5 196L185.3 197.9L187.2 196.1L189 192.4L190.9 193.9L192.7 191.3L194.5 191.1L196.3 191.6L198.1 192.3L199.9 192.7L201.6 192.4L203.4 189.1L205.2 188.4L206.9 188.7L208.7 186.4L210.4 188L212.2 184.6L213.9 185.6L215.6 185L217.3 184.2L219 183.7L220.8 178.9L222.4 184.7L224.1 181.2L225.8 178.8L227.5 179L229.1 179.9L230.8 176.1L232.4 179.7L234 179.4L235.7 175.9L237.3 178.3L238.9 179.1L240.6 173.4L242.2 172.9L243.8 172.3L245.8 148.9L247.4 147.3L249 148.5L250.6 143.7L252.2 144.6L253.8 144.1L257.2 145.6L255.6 145.7L253.9 147.9L252.3 148.6L250.7 147.2L249.1 145.4L247 171.9L245.4 174.2L243.8 173.2L242.2 176.5L240.6 175.6L239 174.5L237.4 179.6L235.8 177L234.1 178.9L232.5 180.4L230.8 182.8L229.2 179.8L227.6 182.6L226 181L224.4 185.6L222.8 182.8L221.2 184.9L219.5 185L217.9 186.9L216.3 186.5L214.6 184.9L212.9 188.2L211.3 187.1L209.7 187.8L208.1 192.2L206.5 195.3L204.9 193.7L203.3 195L201.7 196.9L200.1 192.2L198.5 196.1L196.8 194.5L195.1 196.2L193.5 198L191.8 197.7L189.9 198.5L187.6 200L185.3 204.8L183 201.8L180.7 201.4L178.4 201.8L176 203.7L173.6 203.8L171.2 204.6L168.8 204.3L166.5 202.4L164.3 209L162 206.2L159.7 206.1L157.4 207.5L155.1 208.7L152.8 211.2L150.5 211.4L148.2 213.4L145.8 211.2L143.5 214.1L141.3 214.4L139.4 215L137.4 215.7L135.4 216.4L133.6 215L133.2 213.3L132.7 212.2L132.3 212L131.8 214.6L129.9 220.4ZM129.9 220.4L131.8 214.6L132.3 212L132.7 212.2L133.2 213.3L133.6 215L135.4 216.4L137.4 215.7L139.4 215L141.3 214.4L143.5 214.1L145.8 211.2L148.2 213.4L150.5 211.4L152.8 211.2L155.1 208.7L157.4 207.5L159.7 206.1L162 206.2L164.3 209L166.5 202.4L168.8 204.3L171.2 204.6L173.6 203.8L176 203.7L178.4 201.8L180.7 201.4L183 201.8L185.3 204.8L187.6 200L189.9 198.5L191.8 197.7L193.5 198L195.1 196.2L196.8 194.5L198.5 196.1L200.1 192.2L201.7 196.9L203.3 195L204.9 193.7L206.5 195.3L208.1 192.2L209.7 187.8L211.3 187.1L212.9 188.2L214.6 184.9L216.3 186.5L217.9 186.9L219.5 185L221.2 184.9L222.8 182.8L224.4 185.6L226 181L227.6 182.6L229.2 179.8L230.8 182.8L232.5 180.4L234.1 178.9L235.8 177L237.4 179.6L239 174.5L240.6 175.6L242.2 176.5L243.8 173.2L245.4 174.2L247 171.9L249.1 145.4L250.7 147.2L252.3 148.6L253.9 147.9L255.6 145.7L257.2 145.6L260.6 147.9L258.9 149.8L257.3 147.9L255.6 149.9L254 148.5L252.3 150.9L250.2 174.9L248.6 176.3L247 177.1L245.5 175.8L243.9 177L242.4 176.3L240.7 178.1L239.1 178.8L237.5 180L235.9 180.1L234.3 182.4L232.7 182.8L231.2 183.2L229.7 182.7L228.1 183.9L226.6 184.8L225 185.9L223.5 186.4L221.9 187.3L220.4 188.3L218.8 189.6L217.2 188.3L215.6 192.2L214.2 191.9L212.9 188.8L211.5 192.9L210.1 194.3L208.6 195.8L207.3 194.3L205.8 198.2L204.4 194.4L202.8 197.9L201.3 198.3L199.8 200.4L198.3 198.5L196.4 201.5L193.7 203.3L190.9 203.4L188.2 202.8L185.5 204.3L182.7 205.1L179.8 206.3L177 205.6L174.1 203.9L171.2 207.5L168.5 205.2L166 205.6L163.4 207.3L160.8 209.7L158.2 209.4L155.6 210.4L153 210.8L150.3 210.1L147.7 214.1L145.1 214.4L142.4 214.8L140.1 214.5L138.2 214.4L136.3 215.4L134.5 216.1L133 213.9L134.2 217.8L135.4 212.6L136.7 215.4L138 218.8L136.1 220Z"/><path class="vl" d="M90.6 180.3l2.1 0l1.6-2.2l1.5-0l1.7-2.7l2 .4l2-1.2l2 .1l2-.9l2.4 .5l2.3-2.2l2.2-1.8l2.4 1.5l2.3-.3l2.3-1.1l2.2-.3l2.2-.4l2.2-1.5l2.1-.2l2.2-2.5l2.1 .9l2.1-1l2.1-1.3l1.9 .6l1.8-2.5l1.9 1.4l1.8-.5l1.8-1.1l1.9-1l1.8 .6l1.7-2l1.9 .9l1.8-3.7l1.9 .8l1.8-.1l1.8-.4l1.8-1.1l1.9-.8l1.8 .1l1.8-.7l1.7-1.4l1.8-.3l1.8-2.1l1.7-.8l1.7 .5l1.6-1.1l1.7 1.1l1.6-2.6l1.6 0l1.6-1.1l1.6-1.7l1.6 3.1l1.6-3.1l1.6 .7l1.6-2.3l1.6 1.2l1.5-1.4l1.6-1.2l1.5-1.1l1.6-.1l1.5 .3l1.6-.9l1.7-1.9l1.7 .3l1.8 1.1l1.7-3l1.8-.1l1.7-1l1.7 .6l1.7-1.6l1.7 1.2l1.7-2M94.3 181.2l2.1-2l1.6-1.3l1.8 1.2l1.7-1.3l2.1-.6l2-1.8l2-.1l2.1 1.3l2.2-2.4l2.3-1l2.2-2.1l2.3 3.3l2.2-1.8l2.2-2.6l2.3 2.1l2.1-.8l2.1-2.5l2.2-1.1l2.1 1.1l2.1-2l2.1-.2l2.1-2.1l1.9 .9l1.8-1.7l1.9 1.2l1.8-1.4l1.9-.8l1.8-2l1.8-.1l1.8 .7l1.9-2.1l1.8-.8l1.9 .3l1.8-.6l1.8-.7l1.9 .9l1.8-2.6l1.8-.6l1.8 .4l1.7-2.2l1.8 1.4l1.8-1.4l1.8-.7l1.6-3.1l1.7 2.9l1.7-2.8l1.6-1l1.7-.1l1.6-1.4l1.6 1.5l1.6 .6l1.7-3.6l1.6 1.3l1.6-1.5l1.6 .2l1.6-2.7l1.5-.5l1.6 .9l1.6-2.1l1.5 .1l1.6-.3l1.7-.8l1.7-.3l1.8-1.3l1.7-.3l1.7 .1l1.7-1.8l1.7 .9l1.7-1.3l1.7-.7l1.7-1.5M98 182.3l2.1-3.2l1.8 .8l1.8-.2l1.9-.1l2-1.8l2.1 .1l2 .6l2.1-.8l2.2-1.3l2.2-.5l2.2-2.6l2.2-.9l2.2-.2l2.2-.1l2.1 .1l2.1-1.1l2.1-1.6l2.1-2l2.1 .6l2.1 .6l2.1-1l2-.1l1.9-.4l1.9-1.3l1.8-1.1l1.9-2.4l1.9 1.1l1.8-2l1.8-1.1l1.9 1.1l1.8-2.3l1.9 .3l1.8 .5l1.9-1.4l1.8-.4l1.8-.4l1.8-.7l1.9-1l1.8-.9l1.7 .7l1.8-1.6l1.8 .9l1.8-2.4l1.7-1l1.7-.2l1.6-.8l1.7-.9l1.7 .6l1.7-1l1.6-1.4l1.7-1.1l1.6-.1l1.6-2.7l1.7 2l1.6-1.7l1.6-.9l1.6 .8l1.6 0l1.6-.2l1.6-1.9l1.5-1.5l1.7 .2l1.7-.5l1.7-0l1.7-1.5l1.7 2l1.7-2.8l1.7-.3l1.6 .8l1.7-3.9l1.6 2.8M101.7 184l2.1-.6l1.9-3.4l1.9 1.6l1.9-2.2l2.1-.4l2.1-.2l2.1 1.1l2-1.5l2.2-3.1l2.2 2.4l2.1-1.2l2.2-1.4l2.1-1.7l2.1-.1l2.2-1.2l2.1 1.2l2-2.8l2.1-.3l2 1.6l2-4l2.1-1.4l2 2.5l1.9-1.6l1.9-2.1l1.9 2.3l1.9-.2l1.9-1.4l1.8-1.4l1.9-.7l1.8-1.9l1.9-.3l1.9 .8l1.8-2.5l1.8-1.9l1.9-0l1.8-.5l1.8 .4l1.8-1.7l1.8 1.4l1.8-2.4l1.8 .2l1.8-1.9l1.8 .1l1.7 .9l1.7-1.9l1.7-1.7l1.7 1.7l1.7-1.2l1.7-.5l1.7 .1l1.7-3l1.6-1l1.7-.1l1.6-.1l1.7-.3l1.6-.9l1.6 .3l1.6-2.1l1.7-.8l1.6-.5l1.6 .8l1.6-1.1l1.7-.4l1.7-2.4l1.7 1l1.6 1.4l1.7-2.8l1.7-1.9l1.6 .5l1.6-.7l1.6 .2M105.5 186.1l2.1-1l2-1.4l2-1.8l2.1-.9l2.1-.9l2.1 .7l2-2l2.1 .5l2.2-.2l2-2.4l2.2 1.1l2.1 1.2l2.1-2.4l2-2l2.1 2.7l2-3.6l2.1-.8l2 .5l2-.7l2-1.7l2-.6l2-2.6l1.9 .2l2 1.3l1.9-1.4l1.8-2.3l1.9-1.9l1.9 .8l1.9-.6l1.9-2.2l1.8 1.2l1.9-.4l1.9 .5l1.8-1.6l1.8-3.4l1.9 3l1.8-2.1l1.8 .8l1.8-2.2l1.8-1.5l1.8 .5l1.8-1.6l1.8-.6l1.7-.4l1.8-1.9l1.7 .3l1.7 .5l1.7-.3l1.7-.5l1.7-1.9l1.7 .2l1.7-3.7l1.7 .3l1.7 1.4l1.6-.5l1.7-2.6l1.6 2.9l1.7-2l1.6-2l1.7 1.2l1.6-1l1.6-.7l1.7-1.6l1.7-0l1.6-.9l1.6-.7l1.7-0l1.6-1.6l1.6 1.1l1.6 .1l1.6-.2M109.2 186.8l2.1-1.9l2.1-2.5l2.2 .3l2.1 .4l2.2 .1l2.1-1l2.1-.7l2-.6l2.1 .2l2.1-1.8l2-2.4l2.1 2.7l2-2.8l2.1 1.3l2-3.2l2 .3l2 .6l1.9-3l2-2.5l2 1.1l2-1.8l1.9 .6l2 1.4l1.9-3.4l1.9 .2l2 .4l1.8-3l1.9-.2l1.9 .2l1.9-2.1l1.9 1.1l1.9-2.3l1.8 1l1.9-2.2l1.8 1l1.9-3.3l1.8 .6l1.8-1.8l1.8 1.6l1.8-1l1.8-2l1.8 3l1.8-2.4l1.8-2.7l1.7-.1l1.8-1.1l1.7 .6l1.8-1.5l1.7 .7l1.7-0l1.7-.3l1.8-1.8l1.7-.6l1.7-.5l1.6 2.2l1.7-2.1l1.7-2l1.7-1.4l1.6 .2l1.7-.3l1.6 .8l1.7-4.8l1.6 2.4l1.7-3.3l1.6-.4l1.6 .6l1.6 .3l1.6-1.3l1.6 .7l1.6-2l1.6-.3M111 188.5l2.1-1.5l2.1-2.2l2.3 3.6l2.1-2.3l2.2 3.4l2.1 .3l2.1-.7l2-.2l2.1-4.1l2-.7l2.1-1.3l2 1.4l2.1-1.2l2 .7l2 .2l2-3.5l2-.4l2 1.6l1.9-3.6l2.1 3.2l1.9-3.4l1.9 .1l2-.9l1.9 .2l1.9-4.1l1.9-.1l1.9-1.7l1.9 1l1.9 1.7l1.9-2.2l1.9 .6l1.8-3.3l1.9-2l1.8 .8l1.9 .8l1.8-1l1.8-1.6l1.8 2l1.9-3.3l1.8-.7l1.7 .5l1.8-.8l1.8-1.6l1.8 .9l1.7-.7l1.8-3.2l1.7 .3l1.8-3l1.7 3.6l1.7 .6l1.7-4.9l1.8-.7l1.6 2.1l1.7 .5l1.7-2.9l1.7 2.1l1.7-2.8l1.6 2.2l1.7-3.6l1.6 2.3l1.7-3.5l1.7-3.4l1.6 2.2l1.6-2.2l1.6 1.6l1.6-3l1.6 .4l1.7-4.5l1.6 1.1l1.6-3.1l1.5 3.6M112.8 194.3l2.1-1.3l2.1-3.1l2.2-.5l2.2 5.1l2.1 1.6l2.2 1.9l2-5.3l2.1 1.7l2.1 .2l2-1.8l2.1 3.5l2-2.2l2-5.3l2 .1l2.1-.3l2 1.2l1.9-3.4l2-2.8l2 4.3l2-2.8l1.9-0l1.9-2.1l2-.1l1.9-.5l1.9 .5l1.9-2.2l1.9 .3l1.9-1.5l1.9-.8l1.9-1.9l1.9 1.3l1.8-1.1l1.9-3l1.8 1.4l1.8-.6l1.9-2.5l1.8 .2l1.8-.4l1.8-.8l1.8 1.6l1.8-3.4l1.8-2l1.7 .5l1.8 2.7l1.8-3.6l1.7 1.2l1.7-1.7l1.8-1.2l1.7 1.4l1.7-4.6l1.7 1.5l1.7-2l1.7-.4l1.7-1.7l1.7-.4l1.7 3.5l1.7-3l1.6 2.8l1.7-3.3l1.6-2.4l1.7-.9l1.6-1.2l1.6 1.9l1.6-1.7l1.7-.2l1.7-10.9l1.6-1.1l1.6 2.4l1.7-6.9l1.5 5.2l1.5-0M114.6 197.3l2.1-1.1l2.2-.4l2.2 2.8l2.1-2.3l2.2 3.8l2-1.1l2.1 .6l2.2 3.8l2-1.3l2.1-.8l2-2.9l2-.5l2-1.1l2.1 1l2-2.8l1.9-2.5l2.1 3.9l1.9-2.7l2-1.5l1.9-.1l2-.7l1.9-4l1.9 .1l2-.1l1.9 2l1.9-5.7l1.9 2.3l1.9 .8l1.9-1.1l1.8-.5l1.9-4.9l1.9 2.4l1.8-.5l1.8 2.9l1.9-5.4l1.8 2.2l1.8-.6l1.8-3.5l1.8 1.7l1.8-3.5l1.8-1.1l1.7 3.9l1.8-3.3l1.8 1.6l1.7-3.1l1.8-2.2l1.7 3l1.8-5.7l1.7 2.7l1.7 .7l1.7-2.4l1.7-2.1l1.7 2.8l1.7-2.8l1.6 1.5l1.7-4.7l1.7 1l1.6 .3l1.7-2.9l1.6 2.9l1.7-2l1.6-4.1l1.6 2.4l1.7-2.9l1.6 1.2l1.8-13.4l1.6-1.3l1.6-1.1l1.6 .2l1.5 0l1.6-.6M116.5 205.3l2.1-3.6l2.1-1.3l2.2 .5l2.2 6.4l2.1-2.5l2.1 3.5l2.2 3l2-3.4l2-2l2.1-.3l2-1.2l2-1.1l2-.8l2.1 .8l2 2.7l2-3l1.9-2.7l2 .6l2-2.7l1.9-1l2 .5l1.9-3.8l1.9 4l1.9-3.9l2 1.5l1.9-.2l1.8-3l1.9 1.2l1.9-3.1l1.9 2.5l1.8-2.7l1.9 .7l1.8-1.7l1.9-.5l1.8 .5l1.8-3.6l1.8 2.3l1.8-1.1l1.8-3.7l1.8-.9l1.8-.2l1.7-.1l1.8-3.8l1.7 4.8l1.8-1.4l1.7-.3l1.8-3.7l1.7 .3l1.7-2l1.7-.4l1.7 1.2l1.7 .2l1.7-.4l1.7-5.6l1.7 1.2l1.7-0l1.6 .8l1.7-.9l1.6-.5l1.6-.6l1.6 2.5l1.7-4.2l1.6-.2l1.6-1.6l1.6-.6l2-21.5l1.6 .8l1.6-1.8l1.5 4.5l1.6-2.8l1.7-4.9M118.3 209.3l2.1-2.5l2.1-2.5l2.2 3.9l2.1-.8l2.2 5.7l2.2 2.9l2-.4l2.1-.2l2-3.6l2.1-.4l2-1.9l2 1.5l2-6.8l2 3.6l2-.9l2-1.6l2 .4l2-.2l1.9-2l1.9-2.1l2-.4l1.9-1.2l2 1.7l1.9-.4l1.9-5.4l1.9 3l1.9-2l1.8-1.2l1.9-1.8l1.9 3.8l1.8-2.2l1.9-.8l1.8-1l1.8 2.7l1.9-4.5l1.8 3.8l1.8-5.9l1.8-1.1l1.8-.8l1.8 2.2l1.8-4.2l1.7 2.2l1.8-.1l1.7-1.1l1.8-1l1.7-2.3l1.7-1.7l1.7 3.9l1.8-3.1l1.7-3l1.7 .4l1.7-1.1l1.6 2.4l1.8-4.5l1.6 3.3l1.7-3.4l1.7-2.5l1.6-1.5l1.6 1.5l1.7-1.2l1.6 1.6l1.6-.8l1.7-3.2l1.6 1.1l1.6-.4l1.9-22l1.7-3l1.6-1.4l1.5 1.6l1.6-1l1.7-3.8M120.1 210.1l2.2-0l2.1 .6l2.1-0l2.2 1.1l2.1-1.1l2.1 5l2.1-3.6l2.1 3.9l2-1.9l2-2.8l2.1 1l2 .2l2-2l2-1.8l2 2.8l2-3.2l2-1.1l1.9-.3l2-2.7l2 1.4l1.9-1.1l1.9-1.5l1.9-1.9l2 .8l1.8-3.6l2 3.2l1.8-4.4l1.9 2.8l1.9-1.9l1.8-1.6l1.9-3.5l1.8 1.1l1.9 1.4l1.8-3.5l1.8 1.7l1.8 .2l1.9-2.7l1.8-.2l1.7-2.1l1.8 1.7l1.8-2.2l1.8-1.1l1.7-.2l1.8-.2l1.7 .4l1.8-3.3l1.7 .5l1.7-1.2l1.7 .6l1.7-1.2l1.7 .9l1.7-2.4l1.7-1.8l1.7 .4l1.7-1.9l1.6 .2l1.7-2.3l1.6 1.7l1.6 1.6l1.7-3.8l1.6 .2l1.6 .6l1.7-3.1l1.6-.1l1.6-.9l2-24l1.6-1.4l1.6-.7l1.6-3l1.6 3.2l1.5-1.6M121.9 212l2.2 2.8l2.1-1.1l2-5.8l2.3 8.2l2.1-2.2l2.1 2.9l2.1 .2l2.1 .5l2-2l2-2.6l2.1 1.5l2-2.9l2-.8l2-3.7l2 3.4l1.9-3.7l2-.2l2 1.2l2 1.5l1.9-6.1l2 4l1.9-2.2l1.9-3.1l1.9-1.1l1.9 2.4l1.9-2.1l1.9-.4l1.9-3.1l1.8-2.9l1.9 6.3l1.9-5.2l1.8 5.4l1.8-5.5l1.9 1.1l1.8-5.7l1.8 2.2l1.8 .7l1.8-1.1l1.8-.6l1.8-2l1.7-.1l1.8-2.1l1.8-2.1l1.7 .7l1.7 2.3l1.8-.1l1.7-2.1l1.7-3.5l1.7 1.5l1.7-.2l1.8-1.9l1.6 1.7l1.7-1.1l1.7-3.3l1.7 .6l1.6-.4l1.7-1.9l1.6 .7l1.7-.5l1.6-1l1.7-2.3l1.6 .2l1.5 1.2l1.7-2l1.6-2.1l2.1-27.5l1.5 4l1.6-2.8l1.6 .3l1.6-2.3l1.6 0M123.6 212.3l2.2 .8l2.1 1l2.2 .4l2.1-.8l2.1 1.2l2.1-1.2l2 .9l2.1 2.2l2.1-2.5l2 1l2.1-.5l2-3.4l2-.6l2 .9l1.9-4.7l2.1 3.6l1.9-.5l2-3.8l1.9-.1l2-.2l1.9-.9l2-1.3l1.9-.2l1.9-.7l1.9 2.1l1.9-1.7l1.9-4l1.9 1.4l1.8-2.8l1.9-1.9l1.8 1.9l1.9-1.8l1.8-3.7l1.8 1.5l1.9-2.6l1.8-.2l1.8 .5l1.8 .7l1.7 .4l1.8-.3l1.8-3.3l1.8-.7l1.7 .3l1.8-2.3l1.7 1.6l1.8-3.4l1.7 1l1.7-.6l1.7-.8l1.7-.5l1.8-4.8l1.6 5.8l1.7-3.5l1.7-2.4l1.6 .2l1.7 .9l1.7-3.8l1.6 3.6l1.6-.3l1.7-3.5l1.6 2.4l1.6 .8l1.7-5.7l1.6-.5l1.6-.6l2-23.3l1.6-1.7l1.6 1.2l1.6-4.8l1.6 .9l1.5-.5M129.9 220.4l1.9-5.7l.4-2.7l.5 .2l.5 1.1l.4 1.8l1.8 1.4l2-.8l2-.6l1.9-.7l2.2-.3l2.3-2.9l2.4 2.2l2.3-2l2.3-.2l2.3-2.5l2.3-1.2l2.3-1.3l2.3 0l2.3 2.8l2.2-6.6l2.3 1.9l2.4 .3l2.4-.8l2.4-.1l2.4-1.9l2.3-.4l2.3 .5l2.3 3l2.3-4.9l2.3-1.4l1.9-.9l1.7 .3l1.6-1.8l1.7-1.7l1.7 1.7l1.6-4l1.6 4.8l1.6-2l1.6-1.3l1.6 1.7l1.6-3.1l1.6-4.4l1.6-.8l1.6 1.1l1.7-3.3l1.6 1.6l1.7 .5l1.6-1.9l1.7-.2l1.6-2.1l1.6 2.8l1.6-4.6l1.6 1.6l1.6-2.8l1.6 3.1l1.7-2.5l1.6-1.4l1.7-2l1.5 2.6l1.7-5.1l1.6 1.1l1.6 .9l1.6-3.3l1.6 1l1.6-2.2l2.1-26.6l1.6 1.8l1.6 1.4l1.6-.7l1.7-2.2l1.6-.1M136.1 220l1.9-1.1l-1.3-3.5l-1.3-2.7l-1.2 5.1l-1.3-3.9l1.5 2.2l1.9-.7l1.9-.9l1.8-0l2.4 .3l2.7-.4l2.6-.2l2.6-4.1l2.6 .8l2.7-.5l2.6-1l2.6 .3l2.5-2.4l2.6-1.7l2.6-.4l2.7 2.3l2.9-3.6l2.8 1.7l2.9 .7l2.8-1.2l2.9-.7l2.7-1.5l2.7 .5l2.7-0l2.7-1.8l2-3l1.5 1.8l1.5-2.1l1.5-.4l1.5-3.5l1.5 3.8l1.4-3.9l1.4 1.6l1.4-1.6l1.4-1.3l1.4-4.2l1.4 3.1l1.4 .3l1.6-3.9l1.5 1.4l1.6-1.4l1.6-1l1.6-.9l1.5-.4l1.6-1.2l1.5-.9l1.5-1.2l1.5 .5l1.5-.4l1.6-.4l1.7-2.3l1.6-.1l1.6-1.2l1.6-.7l1.6-1.8l1.6 .8l1.6-1.2l1.5 1.2l1.6-.8l1.5-1.4l2.1-23.9l1.8-2.5l1.6 1.4l1.7-1.9l1.6 1.8l1.6-1.9M90.6 180.3l3.7 .9l3.6 1.1l3.8 1.7l3.7 2.1l3.8 .7l1.8 1.7l1.8 5.8l1.8 2.9l1.9 8.1l1.8 3.9l1.7 .9l1.8 1.9l1.8 .3l6.3 8l6.2-.4M94.3 178.2l3.7-.2l3.9 2l3.8 .1l3.9 3.7l3.9-1.4l1.8 2.5l1.8 5l1.8 5.9l1.8 4.6l1.8 3.9l1.9 6.5l1.8 3l1.7 .3l4.4-2.1l4.4 3.4M97.5 175.5l4 2.3l4 1.9l4.1-.3l4.1 1.6l4.1 2.2l1.8 2.9l1.9 8.5l1.7 1.7l1.9 11.1l1.8-0l1.8 4.4l1.8 4.3l1.7-2.3l1-.5l1.1 4.5M101.5 174.7l4 .8l4.1 2.4l4.1 1l4.1 1.9l4.2 1.5l1.8 7.6l1.9 8.1l1.7 1l1.9 9.3l1.9 7.7l1.7-.2l1.7 1l1.7-3l-.9 2.7l-1-.4M105.6 173.8l4.1 2.8l4.1 1.1l4.1 .7l4.1 .9l4.2 1.6l1.9 8l1.8 5.5l1.8 8.9l1.8 4.6l1.9 7.4l1.7 .6l1.8 1.6l1.7-.7l-1.2-1.8l-1.2-.6M110.2 172.1l4 1.1l4 2.7l4 1.8l4-1l4.1 2.6l1.8 4.8l1.9 8.7l1.8 8.5l1.8 4.3l1.8 5.8l1.7-.1l1.8 1.6l1.7 2.4l-1.1-1.2l-1.1 .7M114.8 171.9l3.9 2.6l3.8-2.1l4 2.8l4 3.9l3.9 .6l1.8 4.6l1.9 9.8l1.7 3.8l1.8 5.4l1.8 7.7l1.8 1.5l1.7-1l1.7-0l-.4 2l-.5 .7M119.4 170.4l3.7-.5l3.8 2.2l3.9 1.2l3.8 1.3l3.9 3.5l1.8 5.6l1.8 5.2l1.8 8.9l1.8 5.5l1.8 4.4l1.7 1l1.7-1.7l1.8 4.6l.1-.4l.2-.4M123.8 169.7l3.7 1.6l3.7-.2l3.7 2.2l3.8 .4l3.8 1.5l1.7 5.3l1.9 9.3l1.7 2.7l1.8 10.5l1.8 2.2l1.7 3.1l1.8-1.6l1.7 3.9l.8-3.1l.7 1.8M128.2 168l3.6-.3l3.6-.1l3.7 2.6l3.7 3.2l3.7-.5l1.8 8.7l1.8 2l1.8 10.1l1.8 7.2l1.7 4.6l1.8 1.4l1.7 .8l1.7-1.4l1.4-.1l1.4 1.1M132.5 166.4l3.5 .5l3.6 1.8l3.6-.8l3.6 3.1l3.7 .4l1.8 9.8l1.7 3.9l1.8 6.9l1.8 5.2l1.7 4.1l1.8 4.3l1.7-2.5l1.7 2.9l2-3.6l2.1 2.8M136.7 164.1l3.5 .4l3.5 3.1l3.5 1.3l3.6-1.1l3.6 2.4l1.7 7.7l1.8 5.1l1.7 4.3l1.8 6.6l1.8 5.8l1.7 3.3l1.8 1.8l1.7-1l2.8 .8l2.9-.7M140.4 162.2l3.5 1.4l3.6 2.2l3.5-.6l3.7 4.1l3.6-1.1l1.7 9l1.8 5.2l1.7 5l1.8 6.5l1.7 7.1l1.8 .9l1.7-1.3l1.7 2.3l3.8 .8l3.8 2.6M144.1 163.1l3.5 .4l3.6-1.1l3.6 4.9l3.7-1.8l3.6 3.3l1.8 4.2l1.7 7.7l1.7 2.9l1.8 11.7l1.7 3.3l1.8 2.9l1.7-.5l1.7 2.3l4.8-2l4.7 3M147.7 161l3.6-.3l3.6 .8l3.7 3l3.6-0l3.7 1.1l1.7 6.7l1.8 7.2l1.7 7.3l1.8 6.7l1.7 2l1.7 4.4l1.7-2.4l1.8 3.2l5.5 4.1l5.7-1.5M151.3 159.6l3.6 1.7l3.7 .2l3.7 .4l3.6-.2l3.8 2l1.7 8.1l1.7 5l1.8 8.4l1.7 7.7l1.7 4.5l1.7-1l1.8 4.5l1.7-4.9l6.4 2.5l6.5 3M155 156.8l3.6 1.6l3.7 1.1l3.7 3l3.7 0l3.8 .1l1.7 6.5l1.7 7.9l1.7 5.6l1.7 8.3l1.8 3.5l1.7-.4l1.7 7l1.7-5l6.3 2l6.4 2.4M158.6 157.6l3.6 .6l3.7 .5l3.7-.7l3.7 3.4l3.8-0l1.7 6.6l1.7 7.5l1.7 9.6l1.7 3.7l1.7 7.4l1.8-4.3l1.7 4.9l1.7-2.9l6 .6l6 3.4M162.3 156l3.7 2.3l3.6-.5l3.7-.2l3.8 3.4l3.7-2l1.7 8.7l1.7 4.6l1.7 9.6l1.7 3.7l1.7 9.8l1.7-1.6l1.8-.6l1.7-2.1l5.7 1.1l5.6 6M165.9 155.4l3.7-.3l3.6 1.1l3.8 .1l3.7 3.4l3.8-1.9l1.6 10.3l1.7 4.1l1.7 5.6l1.7 9l1.7 1.7l1.7 2.5l1.8 1.8l1.7-.5l5.2 2.7l5.3 .9M169.5 153.2l3.7 0l3.7 2.6l3.7-.6l3.7 .8l3.8 2.4l1.7 5.7l1.7 8.8l1.7 3.1l1.6 6.2l1.7 7.6l1.7 .7l1.8-.3l1.7 2.2l4.8 2.9l5-2.4M173 150.9l3.7 2.4l3.7 2l3.7-1.7l3.8 1.4l3.7 4.4l1.7 4.4l1.7 3.7l1.7 11.4l1.6 3l1.7 6l1.7-.7l1.8 .9l1.7 .4l4.5-.6l4.5 4.1M176.4 150.5l3.7-1l3.7 2.3l3.8 2.7l3.8-.6l3.8 .4l1.6 8.8l1.7 7.6l1.7 6.4l1.6 5.8l1.7 3.7l1.7 .2l1.7-.2l1.8-.2l4.2 1.8l4.3 .1M179.7 150.5l3.7-.9l3.8 1.2l3.8 .1l3.9 1.4l3.8 .8l1.7 6.1l1.6 9.1l1.7 3.5l1.6 9.4l1.7 2.2l1.7 .5l1.7 4.9l1.8-4.2l4 1.9l4.1 1.8M183 148l3.8 .6l3.8 2l3.9 .8l3.8 1.2l4-.3l1.6 4.3l1.7 8.9l1.6 3.6l1.7 8.8l1.6 7.7l1.7-2.4l1.8 0l1.7 1.8l3.9 .1l3.9 1.4M186.2 145.1l3.8 3.5l3.9-.5l3.9 3l3.9-1l4 2.8l1.6 7.9l1.7 1.4l1.6 10.2l1.7 3l1.7 4.1l1.6 3.1l1.7 1.9l1.7-.8l3.8-.9l3.8 2M189.4 145.1l3.9 .5l3.9 1.3l4 .1l3.9-.4l4 4.2l1.7 4.3l1.6 6.6l1.7 6.3l1.6 8.8l1.6 1.9l1.7 2.3l1.7 3.3l1.7 .3l3.7-3.7l3.6 1.8M192.5 143.6l3.9 1.9l4 .7l4 .7l4 1.4l4.1 1.5l1.6 8l1.6 1.9l1.7 8.3l1.6 2.8l1.7 5.9l1.6 3l1.7 .3l1.8-1.1l3.4 .9l3.4 3M195.7 143.4l4-.5l4 .8l4 2l4.1-.4l4.1 4.6l1.6 7l1.6 5.9l1.7 2l1.6 7.2l1.6 4.6l1.7 1.4l1.7 2.1l1.7-.2l3.4 .5l3.5-.3M198.8 141.1l4 2.3l4.1 1.1l4.1-.7l4.1 2.3l4.1 .3l1.6 10l1.6 6.1l1.7 3.6l1.6 5.8l1.7 .7l1.6 4.9l1.7 1.5l1.7 .8l3.4-2.8l3.4 1.8M201.9 141.2l4.1 .1l4.1 1l4.1 .2l4.2 2.8l4.2 1l1.5 8.7l1.7 1.8l1.6 9.3l1.6 4.7l1.7 2l1.6 2.4l1.7 2.2l1.7-1.5l3.4-1.5l3.3 1.9M205.1 138.4l4.1 1.8l4.1 .8l4.1 1.1l4.2 1.5l4.2-1.3l1.6 5.8l1.6 6.6l1.7 5.3l1.5 9l1.6 4.6l1.7 2.4l1.7-.8l1.6 3.8l3.4-2.5l3.3-.7M208.6 139.8l4.1-1.2l4 1.9l4.1-1.1l4.1 2.6l4.2-.5l1.6 6.6l1.6 6.9l1.6 4.5l1.6 7.8l1.6 4.3l1.7 1.2l1.6 1.7l1.8-1.5l3.2 1.2l3.2 2.1M212.1 136.7l4 1.7l4 2.6l4 .8l4.1-1.4l4.1 1.2l1.6 5.1l1.8-2.9l1.6 3.4l1.7-2l1.7 3.9l1.7-1.2l1.8-3l1.6 4l3.3-3.6l3.2 5.6M215.5 136.4l3.9 1.2l4 .3l4-.8l4.1 1.7l4 1.9l1.7 2l1.6 2.5l1.7-.3l1.7-.7l1.7 .6l1.7 1l1.7 .3l1.6 2.4l3.4 .1l3.3 1.3M218.9 136l3.9-.5l4-.7l3.9 2.1l3.9 3.2l4.1-.7l1.6 1.2l1.7 2.9l1.6 1.6l1.7 .8l1.7-.5l1.7 .7l1.7-2l1.7 .5l3.4 1.1l3.4 4.1"/><path class="wf2" d="M133.5 44.3L135.5 43.8L134.2 42.7L132.8 41.7L131.5 40.6L130.2 39.6L131.8 39.1L133.7 38.6L135.7 38.1L137.6 37.6L140.2 37.2L143 36.9L145.8 36.6L148.5 36.2L151.3 35.9L154.1 35.6L156.8 35.3L159.6 34.9L162.3 34.6L165 34.3L167.7 34L170.6 33.7L173.6 33.4L176.6 33.1L179.6 32.8L182.6 32.6L185.6 32.3L188.5 32L191.3 31.7L194.2 31.5L197 31.2L199.1 30.8L200.7 30.3L202.3 29.9L203.9 29.4L205.4 29L207 28.5L208.5 28.1L210 27.6L211.4 27.2L212.9 26.7L214.4 26.3L215.8 25.9L217.3 25.4L218.9 25L220.6 24.6L222.2 24.2L223.9 23.8L225.5 23.4L227.1 23L228.8 22.6L230.4 22.3L232 21.9L233.6 21.5L235.2 21.1L236.8 20.7L238.5 20.4L240.2 20L241.9 19.6L243.6 19.3L245.2 18.9L246.9 18.6L248.5 18.2L250.2 17.9L251.8 17.5L253.4 17.1L255.1 16.8L256.9 16.5L258.6 16.1L260.3 15.8L262 15.5L263.7 15.2L258.3 146L259.5 146L258.6 144.9L254.7 148.4L252.7 149.8L252 150.8L248.8 173.3L247.2 172.4L245.7 173.9L244.5 174.8L244.2 176.7L242.6 176.2L240.9 179L237.9 179L238.1 180.3L233.2 181.5L234.2 183.3L231.8 183.1L231.6 180.9L229 184.3L225.7 185.9L225.4 185.3L224.3 185.8L223.1 185.8L220.6 186.5L219.5 188.1L218 188.1L216.8 189.2L213.9 190.4L215.4 188.5L210.2 193.5L209.4 194L208.9 194.7L208.3 194.6L207.4 196.1L205.9 196.3L203.2 197.6L200.6 199.2L199.3 200.2L199.2 198.1L199 199.5L193.5 202.3L192.4 200.8L190.6 201.6L187.4 204.4L184.9 203.2L180.4 204.3L179.7 203.1L177.8 205L172 206.7L171.5 203.8L168 205.1L165.6 206.4L162.4 206.5L159.4 205.4L159.1 208.2L157.1 212.1L151.1 209.7L149.4 211.4L146.6 214.2L146.5 212.6L139.5 212.2L137.9 213.9L136.2 216.6L135.4 216.9L133.3 216.7L133 214L135.1 212.7L134.8 215L136.4 217.3L139.1 217.1L135.9 218.8Z"/><path class="wl0" d="M134.2 42.7l2.3 174.6M132.8 41.7l2 173.4M130.2 39.6l2.8 174.4M133.7 38.6l1.6 178.3M135.7 38.1l.5 178.5M140.2 37.2l-.7 175M145.8 36.6l.9 177.6M148.5 36.2l.9 175.2M151.3 35.9l-.3 173.8M159.6 34.9l-.1 170.5M165 34.3l.6 172.1M179.6 32.8l.1 170.2M182.6 32.6l-2.2 171.7M191.3 31.7l-.8 169.9M197 31.2l-3.6 171.1M202.3 29.9l-3 170.3M208.5 28.1l-1.1 168M214.4 26.3l-4.1 167.2M248.5 18.2l-4 156.6M253.4 17.1l-4.7 156.2M255.1 16.8l-3.1 134"/><path class="wl1" d="M133.5 44.3l2.4 174.5M135.5 43.8l3.6 173.3M143 36.9l3.5 175.7M156.8 35.3l2.3 172.9M185.6 32.3l-.7 170.9M188.5 32l-1.1 172.4M199.1 30.8l-0 168.7M200.7 30.3l-1.5 167.7M205.4 29l-2.3 168.6M207 28.5l-1.1 167.8M210 27.6l-1.7 166.9M211.4 27.2l-2.5 167.6M215.8 25.9l-.4 162.7M217.3 25.4l-3.4 164.9M223.9 23.8l-3.3 162.6M225.5 23.4l-2.4 162.4M228.8 22.6l-3.3 162.6M240.2 20l-2.1 160.3M241.9 19.6l-4 159.3M245.2 18.9l-2.6 157.3M250.2 17.9l-4.4 156.1M251.8 17.5l-4.6 154.9M260.3 15.8l-1.7 129.1"/><path class="wl2" d="M131.5 40.6l3.6 172.1M131.8 39.1l1.5 177.6M137.6 37.6l.3 176.3M167.7 34l.3 171.2M170.6 33.7l.9 170.1M173.6 33.4l-1.6 173.3M176.6 33.1l1.1 171.8M194.2 31.5l-1.7 169.4M203.9 29.4l-3.3 169.8M212.9 26.7l-3.5 167.2M220.6 24.6l-2.6 163.5M222.2 24.2l-2.7 163.9M232 21.9l-2.9 162.4M235.2 21.1l-3.4 162M236.8 20.7l-2.7 162.6M238.5 20.4l-5.4 161.1M246.9 18.6l-2.7 158.1M258.6 16.1l-3.9 132.2M262 15.5l-2.5 130.5M263.7 15.2l-5.4 130.8"/><path class="wl3" d="M154.1 35.6l3.1 176.5M162.3 34.6l.1 171.9M218.9 25l-2.2 164.2M227.1 23l-2.9 162.8M230.4 22.3l-4.6 163.6M233.6 21.5l-2 159.4M243.6 19.3l-2.6 159.7M256.9 16.5l-4.1 133.3"/><path class="vb" d="M135.9 218.8l3.2-1.7l-2.7 .1l-1.6-2.2l.2-2.3l-2.1 1.3l.4 2.7l2.1 .1l.7-.2l1.8-2.7l1.6-1.7l6.9 .3l.2 1.6l2.8-2.7l1.6-1.7l6.1 2.3l2-3.9l.3-2.7l2.9 1l3.3-.1l2.4-1.2l3.4-1.4l.6 3l5.7-1.8l2-1.8l.7 1.1l4.5-1.1l2.5 1.2l3.2-2.7l1.8-.8l1 1.4l5.6-2.7l.1-1.5l.1 2.2l1.4-1l2.6-1.7l2.7-1.2l1.5-.2l.9-1.6l.6 .2l.5-.7l.8-.5l5.2-5l-1.6 1.8l2.9-1.1l1.3-1.1l1.5-0l1.1-1.7l2.5-.6l1.2-0l1.1-.5l.3 .5l3.3-1.5l2.6-3.4l.1 2.2l2.5 .2l-1.1-1.9l4.9-1.2l-.1-1.3l3 .1l1.7-2.9l1.5 .6l.4-1.9l1.2-.9l1.5-1.6l1.6 1l3.2-22.5l.7-1l2-1.4l3.9-3.5l.9 1.1l-1.2-0"/><path class="w0f" d="M86.5 36.5L86.5 36.5L88.2 36.8L90 37.1L91.7 37.4L93.4 37.7L95.2 38L97 38.2L98.7 38.5L100.5 38.8L102.3 39.1L104.1 39.4L105.9 39.7L107.6 40L109.5 40.3L111.3 40.6L113.1 40.9L114.9 41.2L116.7 41.5L118.6 41.8L120.4 42.1L122.3 42.4L124.1 42.7L126 43L127.9 43.4L129.7 43.7L131.6 44L133.5 44.3L133.5 44.3L139.1 217.6L139.1 218.1L137.3 217.7L135.5 216.7L133.7 216.7L132 215.7L130.2 215.4L128.4 214.7L126.7 214.3L124.8 210.2L123.1 209.9L121.3 206.4L119.5 201L117.7 197.3L115.8 192.5L114.1 189.2L112.2 184.1L110.5 183.8L108.8 183.4L107.1 181.6L105.4 181.2L103.7 181.6L102 180.6L100.3 180.7L98.7 180.9L97 179.4L95.3 178L93.6 178.6L93.7 179Z"/><path class="w0a" d="M86.5 36.5l7.2 142.5M88.2 36.8l7 141.2M91.7 37.4l7 143.6M95.2 38l6.8 142.6M98.7 38.5l6.6 142.7M102.3 39.1l6.5 144.3M105.9 39.7l6.4 144.3M109.5 40.3l6.4 152.2M113.1 40.9l6.4 160.1M116.7 41.5l6.4 168.3M120.4 42.1l6.2 172.2M124.1 42.7l6.1 172.6M127.9 43.4l5.9 173.3M131.6 44l5.7 173.7M133.5 44.3l5.6 173.3"/><path class="w0b" d="M86.5 36.5l7.1 142.1M90 37.1l7 142.4M93.4 37.7l6.9 143M97 38.2l6.7 143.4M100.5 38.8l6.6 142.8M104.1 39.4l6.5 144.4M107.6 40l6.4 149.2M111.3 40.6l6.4 156.7M114.9 41.2l6.4 165.1M118.6 41.8l6.3 168.4M122.3 42.4l6.1 172.2M126 43l6 172.6M129.7 43.7l5.8 173M133.5 44.3l5.6 173.8"/><path class="vl" d="M93.7 179l-0-.4l1.6-.6l1.7 1.5l1.7 1.5l1.7-.3l1.6-.1l1.7 1.1l1.7-.5l1.7 .4l1.8 1.9l1.7 .4l1.7 .2l1.8 5.1l1.8 3.3l1.8 4.8l1.8 3.7l1.8 5.4l1.8 3.5l1.8 .3l1.8 4.1l1.8 .4l1.7 .7l1.8 .3l1.8 1l1.8 0l1.8 1.1l1.8 .4l-.1-.6"/><path class="pl" d="M133.5 44.3L135.5 43.8L134.2 42.7L132.8 41.7L131.5 40.6L130.2 39.6L131.8 39.1L133.7 38.6L135.7 38.1L137.6 37.6L140.2 37.2L143 36.9L145.8 36.6L148.5 36.2L151.3 35.9L154.1 35.6L156.8 35.3L159.6 34.9L162.3 34.6L165 34.3L167.7 34L170.6 33.7L173.6 33.4L176.6 33.1L179.6 32.8L182.6 32.6L185.6 32.3L188.5 32L191.3 31.7L194.2 31.5L197 31.2L199.1 30.8L200.7 30.3L202.3 29.9L203.9 29.4L205.4 29L207 28.5L208.5 28.1L210 27.6L211.4 27.2L212.9 26.7L214.4 26.3L215.8 25.9L217.3 25.4L218.9 25L220.6 24.6L222.2 24.2L223.9 23.8L225.5 23.4L227.1 23L228.8 22.6L230.4 22.3L232 21.9L233.6 21.5L235.2 21.1L236.8 20.7L238.5 20.4L240.2 20L241.9 19.6L243.6 19.3L245.2 18.9L246.9 18.6L248.5 18.2L250.2 17.9L251.8 17.5L253.4 17.1L255.1 16.8L256.9 16.5L258.6 16.1L260.3 15.8L262 15.5L263.7 15.2L325.4 22.6L192.7 54.1Z"/><path class="axis" d="M31.3 27.4L40.1 223.7L192.1 280.7L317.2 216.6M40.1 223.7L37 224.8M39 198.8L35.9 199.9M37.9 173.6L34.7 174.6M36.7 148L33.5 148.9M35.5 121.9L32.3 122.8M34.4 95.5L31.1 96.2M33.1 68.6L29.8 69.3M31.9 41.2L28.6 41.8M39.6 211.3L37.9 211.9M38.4 186.3L36.7 186.8M37.3 160.8L35.5 161.4M36.1 135L34.4 135.5M35 108.7L33.2 109.2M33.8 82.1L31.9 82.5M32.5 55L30.7 55.3M54.1 228.9L52 229.7M69.4 234.6L67.3 235.5M85.2 240.6L83.1 241.4M101.5 246.7L99.4 247.6M118.4 253L116.3 254M135.8 259.6L133.8 260.6M153.9 266.4L151.9 267.4M172.7 273.4L170.6 274.5M192.1 280.7L190 281.8M46.6 226.1L45.5 226.5M61.7 231.7L60.5 232.2M77.2 237.6L76.1 238M93.3 243.6L92.1 244.1M109.9 249.9L108.7 250.3M127 256.3L125.9 256.8M144.8 263L143.7 263.5M163.2 269.9L162.1 270.4M182.3 277.1L181.2 277.6M222 265.4L224.5 266.3M248.2 252L250.6 252.8M272.7 239.4L275.1 240.2M295.6 227.7L298 228.4M317.2 216.6L319.6 217.2M208.3 272.4L209.6 272.9M235.3 258.6L236.7 259M260.6 245.6L261.9 246M284.3 233.4L285.6 233.8M306.6 222L307.9 222.4"/><text class="tl" text-anchor="end" transform="matrix(0.865 -0.324 0.047 1.026 37.16 224.77)" y="2.6">0.000</text><text class="tl" text-anchor="end" transform="matrix(0.873 -0.304 0.048 1.042 36.01 199.86)" y="2.6">0.002</text><text class="tl" text-anchor="end" transform="matrix(0.881 -0.284 0.049 1.058 34.85 174.56)" y="2.6">0.004</text><text class="tl" text-anchor="end" transform="matrix(0.889 -0.263 0.050 1.075 33.67 148.86)" y="2.6">0.006</text><text class="tl" text-anchor="end" transform="matrix(0.898 -0.241 0.050 1.093 32.46 122.74)" y="2.6">0.008</text><text class="tl" text-anchor="end" transform="matrix(0.906 -0.218 0.051 1.110 31.24 96.20)" y="2.6">0.010</text><text class="tl" text-anchor="end" transform="matrix(0.914 -0.195 0.052 1.128 30.00 69.23)" y="2.6">0.012</text><text class="tl" text-anchor="end" transform="matrix(0.923 -0.171 0.053 1.147 28.74 41.82)" y="2.6">0.014</text><text class="tl" text-anchor="end" transform="matrix(1.073 -0.413 0.677 0.255 52.02 229.70)" y="3.5">20</text><text class="tl" text-anchor="end" transform="matrix(1.073 -0.426 0.699 0.264 67.30 235.47)" y="3.5">40</text><text class="tl" text-anchor="end" transform="matrix(1.073 -0.440 0.722 0.273 83.10 241.43)" y="3.5">60</text><text class="tl" text-anchor="end" transform="matrix(1.072 -0.455 0.747 0.282 99.42 247.59)" y="3.5">80</text><text class="tl" text-anchor="end" transform="matrix(1.070 -0.470 0.773 0.292 116.30 253.96)" y="3.5">100</text><text class="tl" text-anchor="end" transform="matrix(1.067 -0.486 0.800 0.302 133.77 260.55)" y="3.5">120</text><text class="tl" text-anchor="end" transform="matrix(1.064 -0.503 0.828 0.313 151.86 267.38)" y="3.5">140</text><text class="tl" text-anchor="end" transform="matrix(1.060 -0.521 0.859 0.324 170.60 274.45)" y="3.5">160</text><text class="tl" text-anchor="end" transform="matrix(1.054 -0.540 0.891 0.336 190.04 281.78)" y="3.5">180</text><text class="tl" text-anchor="start" transform="matrix(0.988 0.347 -0.945 0.490 226.93 267.12)" y="3.5">10</text><text class="tl" text-anchor="start" transform="matrix(0.978 0.324 -0.884 0.458 253.04 253.59)" y="3.5">20</text><text class="tl" text-anchor="start" transform="matrix(0.967 0.303 -0.828 0.429 277.47 240.94)" y="3.5">30</text><text class="tl" text-anchor="start" transform="matrix(0.955 0.284 -0.777 0.402 300.39 229.07)" y="3.5">40</text><text class="tl" text-anchor="start" transform="matrix(0.943 0.267 -0.731 0.379 321.92 217.92)" y="3.5">50</text><path class="grid" d="M378.3 201.4L512 154.5M512 154.5L663.2 193.8M377.2 175.5L512 131.9M512 131.9L664.3 168.4M376 149.2L511.9 108.9M511.9 108.9L665.5 142.5M374.8 122.5L511.8 85.6M511.8 85.6L666.6 116.2M373.5 95.3L511.7 62M511.7 62L667.8 89.5M372.3 67.6L511.7 38.1M511.7 38.1L669 62.3M371 39.5L511.6 13.7M511.6 13.7L670.2 34.7M409.8 215.4L402.9 20.6M409.8 215.4L564.9 269.3M437.6 204.9L432.6 15.6M437.6 204.9L591.7 255.4M463.9 195L460.5 10.8M463.9 195L616.7 242.4M488.7 185.7L486.8 6.4M488.7 185.7L640.1 230.3M525.5 180.6L525.6 3.9M393.1 231.9L525.5 180.6M540.9 184.9L541.9 5.8M408.9 237.7L540.9 184.9M556.7 189.4L558.7 7.9M425.2 243.7L556.7 189.4M573 193.9L576 10M442.1 250L573 193.9M589.8 198.6L593.8 12.2M459.5 256.4L589.8 198.6M607.1 203.5L612.2 14.4M477.5 263.1L607.1 203.5M624.9 208.5L631.1 16.7M496.1 270L624.9 208.5M643.2 213.6L650.6 19.1M515.5 277.1L643.2 213.6"/><path class="edge" d="M370.4 26.1L511.5 2.2L670.8 21.5M512.1 176.9L511.5 2.2M662.1 218.9L670.8 21.5M379.5 226.8L512.1 176.9L662.1 218.9"/><path class="pl" d="M370.4 26.1L511.5 2.2L567.3 8.9L565.5 9.2L563.8 9.5L561.9 9.8L559.9 10.1L558 10.4L556.1 10.7L554.1 11L552.2 11.3L550.2 11.6L548.3 11.9L546.3 12.2L544.3 12.5L542.3 12.8L540.3 13.2L538.9 13.5L537.5 13.9L536.1 14.3L534.7 14.7L533.3 15.1L531.8 15.5L530.4 15.9L529 16.3L527.5 16.7L526.1 17.1L524.6 17.5L522.6 17.9L520.2 18.1L517.8 18.4L515.3 18.7L512.9 19L510.4 19.3L507.9 19.6L505.5 19.9L503 20.2L500.5 20.4L498 20.7L495.5 21L493.1 21.3L490.6 21.7L488.2 22L485.8 22.3L483.3 22.6L480.9 22.9L478.4 23.2L476 23.6L473.8 23.9L471.6 24.3L469.4 24.7L467.2 25L464.9 25.4L462.7 25.8L460.6 26.2L458.5 26.6L456.4 27L454.3 27.4L452.1 27.8L450 28.2L447.8 28.6L445.6 29L443.6 29.4L441.6 29.9L439.6 30.3L437.6 30.8L435.6 31.2L433.6 31.7L431.5 32.1L429.5 32.6L427.8 33.1L427.8 33.9L427.9 34.7L427.1 35.4Z"/><path class="wf" d="M427.1 35.4L427.9 34.7L427.8 33.9L427.8 33.1L429.5 32.6L431.5 32.1L433.6 31.7L435.6 31.2L437.6 30.8L439.6 30.3L441.6 29.9L443.6 29.4L445.6 29L447.8 28.6L450 28.2L452.1 27.8L454.3 27.4L456.4 27L458.5 26.6L460.6 26.2L462.7 25.8L464.9 25.4L467.2 25L469.4 24.7L471.6 24.3L473.8 23.9L476 23.6L478.4 23.2L480.9 22.9L483.3 22.6L485.8 22.3L488.2 22L490.6 21.7L493.1 21.3L495.5 21L498 20.7L500.5 20.4L503 20.2L505.5 19.9L507.9 19.6L510.4 19.3L512.9 19L515.3 18.7L517.8 18.4L520.2 18.1L522.6 17.9L524.6 17.5L526.1 17.1L527.5 16.7L529 16.3L530.4 15.9L531.8 15.5L533.3 15.1L534.7 14.7L536.1 14.3L537.5 13.9L538.9 13.5L540.3 13.2L542.3 12.8L544.3 12.5L546.3 12.2L548.3 11.9L550.2 11.6L552.2 11.3L554.1 11L556.1 10.7L558 10.4L559.9 10.1L561.9 9.8L563.8 9.5L565.5 9.2L567.3 8.9L565.8 121.6L563.6 120.2L562.7 121.9L561.1 124.1L560.5 121.5L558.1 123.3L556.3 124.3L556.4 123.7L551.5 126.5L550.4 126.4L546 126.1L543.5 127.2L544.8 126.7L542.4 128.6L541.1 128.1L538.6 128.2L540.2 129.4L537.3 129.2L536.3 130.7L532.2 130.9L533.2 132.5L531.2 132.3L529.5 132.4L527.8 133.4L527.8 135.3L526.8 135.3L523.4 135.7L521.2 136.7L519.6 138.1L517.2 137.5L515.6 138L511.3 140.1L508.5 138.9L505.1 139.4L505.4 141.5L502.1 141.1L499 139.9L498.8 140.1L493.7 140.1L492.3 143.2L489.8 144.4L488.7 141.2L486.3 143.5L482.3 144.3L481 145L477.2 146L476.9 147.8L473.2 150.3L472.8 146L470.4 146.4L467.3 148.7L467.2 149L463.2 149.9L461.2 151.3L457.4 151.9L457.8 151.6L456.6 151.7L454.4 153.4L452.2 154L449.6 155.4L444.5 155.5L444.3 155.9L443.3 156.2L441.9 156.9L439.1 157.5L437.9 159.2L433.9 159.7L433.6 159.4L432.4 163.3L431.2 163.3L432.7 162.7L432.5 164.7Z"/><path class="wl0" d="M427.1 35.4l5.4 129.2M427.8 33.9l3.4 129.4M429.5 32.6l4.2 126.8M433.6 31.7l4.3 127.5M435.6 31.2l3.5 126.3M437.6 30.8l4.3 126.1M439.6 30.3l3.7 125.9M441.6 29.9l2.7 126M460.6 26.2l2.6 123.7M462.7 25.8l4.5 123.2M467.2 25l3.2 121.3M471.6 24.3l1.6 126M473.8 23.9l3.1 123.9M476 23.6l1.2 122.4M478.4 23.2l2.6 121.8M488.2 22l1.6 122.4M495.5 21l3.3 119M500.5 20.4l1.7 120.6M503 20.2l2.4 121.3M505.5 19.9l-.4 119.5M517.8 18.4l1.8 119.6M522.6 17.9l.7 117.8M524.6 17.5l2.2 117.8M530.4 15.9l.7 116.4M537.5 13.9l2.8 115.4M542.3 12.8l.1 115.8M544.3 12.5l.5 114.2M548.3 11.9l-2.2 114.1M554.1 11l2.3 112.7M565.5 9.2l-1.9 111M567.3 8.9l-1.4 112.7"/><path class="wl1" d="M427.8 33.1l4.6 130.2M443.6 29.4l1 126.1M445.6 29l4 126.4M464.9 25.4l2.3 123.3M490.6 21.7l1.7 121.6M498 20.7l1 119.2M507.9 19.6l.6 119.3M510.4 19.3l.9 120.8M515.3 18.7l1.8 118.8M529 16.3l.5 116M531.8 15.5l1.3 117M533.3 15.1l-1.1 115.8M536.1 14.3l1.2 114.9M546.3 12.2l-2.8 115"/><path class="wl2" d="M431.5 32.1l2.3 127.6M452.1 27.8l4.4 123.9M454.3 27.4l3.5 124.2M456.4 27l1 125M469.4 24.7l3.4 121.3M480.9 22.9l1.5 121.4M483.3 22.6l3 120.9M485.8 22.3l2.9 118.9M493.1 21.3l.7 118.7M520.2 18.1l1 118.6M527.5 16.7l.3 116.7M540.3 13.2l.8 115M550.2 11.6l.1 114.8M552.2 11.3l-.7 115.1M556.1 10.7l.2 113.6M558 10.4l.1 112.9M561.9 9.8l-.7 114.3M563.8 9.5l-1.1 112.4"/><path class="wl3" d="M427.9 34.7l4.8 128M447.8 28.6l4.4 125.5M450 28.2l4.4 125.2M458.5 26.6l2.7 124.7M512.9 19l2.7 119M526.1 17.1l1.8 118.2M534.7 14.7l1.6 116M538.9 13.5l-.2 114.7M559.9 10.1l.6 111.3"/><path class="vf" d="M430.8 165.9L431.6 165.5L431.5 162.9L431.4 162.2L433 159.3L435 159.4L436.9 158L438.9 157.9L440.8 157L442.7 157.4L444.6 155.1L446.5 153.1L448.5 154.7L450.6 154.3L452.7 153.1L454.7 152.8L456.8 152.4L458.8 150.8L460.9 150.6L462.9 148.1L464.9 148.9L467 148L469.2 146.7L471.3 147.4L473.5 145L475.6 146.5L477.7 146.1L480 145.1L482.4 144.3L484.7 145.1L487.1 143.2L489.4 144.3L491.8 140.6L494.1 141.6L496.4 141.7L498.8 141.5L501.2 140.5L503.7 139.8L506.1 140.2L508.4 139.6L510.8 138.3L513.2 138.2L515.6 136.2L517.9 135.5L520.3 136.2L522.6 135.3L524.6 136.5L526 133.9L527.4 133.8L528.7 132.6L530.1 130.8L531.5 134.1L532.9 130.8L534.2 131.5L535.6 129.2L536.9 130.4L538.3 128.9L539.7 127.6L541.6 126.7L543.6 126.7L545.5 127.1L547.4 126.3L549.3 124.4L551.2 124.8L553 125.9L554.9 122.9L556.8 122.8L558.7 121.9L560.5 122.6L562.4 121L564.1 122.3L565.8 120.2L569.1 120L567.4 121.6L565.8 122.2L563.9 123.6L562.2 122.5L560.3 124.4L558.5 124.2L556.7 124.5L554.8 125.8L553 126L551.1 126.7L549.2 127L547.4 126.8L545.5 128.9L543.6 127.9L542.1 128.3L540.7 131.2L539.3 131L537.9 132.5L536.4 131.2L535 134.9L533.5 134.3L532.1 132.7L530.6 134.2L529.2 134.3L527.7 135.4L525.8 138.1L523.5 135L521.3 138L519 138.6L516.8 139.9L514.5 138.3L512.2 140.4L509.9 139.8L507.6 140.4L505.3 142.8L503 141.8L500.7 142.4L498.5 142.8L496.2 142.4L494 143.1L491.7 145.1L489.4 144.3L487.1 144.2L484.9 146.1L482.7 146.8L480.6 148.1L478.5 146.7L476.4 148.4L474.2 147.4L472.1 149.6L470 149.7L468 151.7L466 150.6L463.9 151.8L461.9 154.3L459.9 155.1L457.7 152.9L455.7 155.6L453.7 157.6L451.6 154.2L449.7 156.4L447.7 157.5L445.8 160L443.8 158.7L441.8 158.9L439.8 160.9L437.8 161.8L436.1 163.4L435.7 162.7L435.4 164.3L434.4 166.7ZM434.4 166.7L435.4 164.3L435.7 162.7L436.1 163.4L437.8 161.8L439.8 160.9L441.8 158.9L443.8 158.7L445.8 160L447.7 157.5L449.7 156.4L451.6 154.2L453.7 157.6L455.7 155.6L457.7 152.9L459.9 155.1L461.9 154.3L463.9 151.8L466 150.6L468 151.7L470 149.7L472.1 149.6L474.2 147.4L476.4 148.4L478.5 146.7L480.6 148.1L482.7 146.8L484.9 146.1L487.1 144.2L489.4 144.3L491.7 145.1L494 143.1L496.2 142.4L498.5 142.8L500.7 142.4L503 141.8L505.3 142.8L507.6 140.4L509.9 139.8L512.2 140.4L514.5 138.3L516.8 139.9L519 138.6L521.3 138L523.5 135L525.8 138.1L527.7 135.4L529.2 134.3L530.6 134.2L532.1 132.7L533.5 134.3L535 134.9L536.4 131.2L537.9 132.5L539.3 131L540.7 131.2L542.1 128.3L543.6 127.9L545.5 128.9L547.4 126.8L549.2 127L551.1 126.7L553 126L554.8 125.8L556.7 124.5L558.5 124.2L560.3 124.4L562.2 122.5L563.9 123.6L565.8 122.2L567.4 121.6L569.1 120L572.5 123.5L570.9 120.6L569.1 124.6L567.4 123.7L565.6 124.1L563.8 126.9L562.1 124.8L560.3 126.2L558.5 126.2L556.7 126.7L554.9 126.4L553 127.8L551.2 129.7L549.4 129.9L547.5 129.8L546 129L544.5 129.9L543 131.6L541.5 129.6L540 132.4L538.5 132.4L537 133.6L535.4 135L533.9 136L532.4 135.4L530.8 136.4L528.9 137.1L526.8 137.2L524.7 138.1L522.5 140.4L520.4 139.4L518.2 140.9L516 140L513.8 140.9L511.7 141.8L509.5 142.4L507.3 142.6L505.1 142.9L502.9 144.2L500.7 143.6L498.6 143.2L496.4 145.4L494.2 144.2L492 145.2L489.8 147.2L487.6 145.9L485.6 148.3L483.5 149.3L481.5 150.6L479.4 150.9L477.3 151L475.2 152L473.2 151.4L471.1 150.7L469.1 152.8L467.1 154.3L465 155.6L462.9 155.4L460.8 155.5L458.8 155.7L456.7 156.7L454.8 159.4L452.8 160L450.8 161.3L448.8 162.1L446.8 161.6L444.7 161.7L442.7 163.9L440.9 164.2L440.1 164.9L439.2 164.3L438 167.8ZM438 167.8L439.2 164.3L440.1 164.9L440.9 164.2L442.7 163.9L444.7 161.7L446.8 161.6L448.8 162.1L450.8 161.3L452.8 160L454.8 159.4L456.7 156.7L458.8 155.7L460.8 155.5L462.9 155.4L465 155.6L467.1 154.3L469.1 152.8L471.1 150.7L473.2 151.4L475.2 152L477.3 151L479.4 150.9L481.5 150.6L483.5 149.3L485.6 148.3L487.6 145.9L489.8 147.2L492 145.2L494.2 144.2L496.4 145.4L498.6 143.2L500.7 143.6L502.9 144.2L505.1 142.9L507.3 142.6L509.5 142.4L511.7 141.8L513.8 140.9L516 140L518.2 140.9L520.4 139.4L522.5 140.4L524.7 138.1L526.8 137.2L528.9 137.1L530.8 136.4L532.4 135.4L533.9 136L535.4 135L537 133.6L538.5 132.4L540 132.4L541.5 129.6L543 131.6L544.5 129.9L546 129L547.5 129.8L549.4 129.9L551.2 129.7L553 127.8L554.9 126.4L556.7 126.7L558.5 126.2L560.3 126.2L562.1 124.8L563.8 126.9L565.6 124.1L567.4 123.7L569.1 124.6L570.9 120.6L572.5 123.5L575.9 122.9L574.2 122.6L572.6 123.3L570.9 122.7L569.1 124.7L567.4 127.5L565.7 126L563.9 124.9L562.2 127.4L560.4 127.7L558.6 128.8L556.9 127.9L555.1 128.4L553.3 129.1L551.5 131.3L549.9 130.9L548.4 131.8L546.8 132.1L545.2 132.2L543.6 132.3L542 133.3L540.4 136.4L538.8 136.3L537.2 136.7L535.6 138L534 136.2L532.1 137.9L530.1 139.7L528.1 138.7L526 138.6L524 140.4L521.9 140.1L519.9 142.4L517.8 141L515.7 142.6L513.6 142.1L511.5 142.5L509.4 142.4L507.4 144.3L505.3 146.8L503.2 145.8L501.1 146.1L499 147.9L496.9 148.5L494.8 149.9L492.7 151.3L490.7 151.4L488.6 149L486.6 151L484.5 152.6L482.4 150L480.4 151.4L478.4 155.5L476.3 153.8L474.3 154.1L472.3 157L470.2 155.7L468.2 156.9L466.1 157L464 158.8L462 160.2L460 161.5L457.9 158.9L455.9 162.2L453.8 163.7L451.8 162.7L449.7 163.1L447.6 163.8L445.7 166.3L444.4 165.1L443.2 168.7L441.6 169.5ZM441.6 169.5L443.2 168.7L444.4 165.1L445.7 166.3L447.6 163.8L449.7 163.1L451.8 162.7L453.8 163.7L455.9 162.2L457.9 158.9L460 161.5L462 160.2L464 158.8L466.1 157L468.2 156.9L470.2 155.7L472.3 157L474.3 154.1L476.3 153.8L478.4 155.5L480.4 151.4L482.4 150L484.5 152.6L486.6 151L488.6 149L490.7 151.4L492.7 151.3L494.8 149.9L496.9 148.5L499 147.9L501.1 146.1L503.2 145.8L505.3 146.8L507.4 144.3L509.4 142.4L511.5 142.5L513.6 142.1L515.7 142.6L517.8 141L519.9 142.4L521.9 140.1L524 140.4L526 138.6L528.1 138.7L530.1 139.7L532.1 137.9L534 136.2L535.6 138L537.2 136.7L538.8 136.3L540.4 136.4L542 133.3L543.6 132.3L545.2 132.2L546.8 132.1L548.4 131.8L549.9 130.9L551.5 131.3L553.3 129.1L555.1 128.4L556.9 127.9L558.6 128.8L560.4 127.7L562.2 127.4L563.9 124.9L565.7 126L567.4 127.5L569.1 124.7L570.9 122.7L572.6 123.3L574.2 122.6L575.9 122.9L579.3 125.4L577.6 125.6L576 125.5L574.4 124.2L572.7 125.8L571 125.8L569.3 126.6L567.6 127.4L565.9 127.4L564.2 129L562.5 129.7L560.7 130.7L559 129.4L557.2 131.3L555.5 133.3L553.9 130.3L552.2 133L550.6 133.5L548.9 132L547.3 131.7L545.6 135.4L543.9 135.2L542.2 137.2L540.5 137.6L538.8 137.9L537.1 137.4L535.3 137L533.4 138.9L531.5 139.2L529.5 139.8L527.6 141.4L525.7 140.9L523.7 142.2L521.8 144.4L519.8 143.6L517.8 145.7L515.8 142.5L513.8 146L511.9 147.5L509.9 147L507.9 147.3L505.8 146L503.8 148.2L501.8 148.8L499.8 147.8L497.8 149.7L495.8 152.1L493.8 153.5L491.8 152.1L489.7 151.8L487.7 154.4L485.7 155L483.7 156.8L481.6 157.4L479.6 156.9L477.6 157.6L475.5 161.3L473.4 158.5L471.4 160.5L469.3 163.1L467.2 161.8L465.1 160.6L463.1 163L461 163.3L458.9 162.6L456.8 164.8L454.7 164.4L452.6 165.6L450.5 166.9L448.8 169L447.1 170.5L445.2 171.5ZM445.2 171.5L447.1 170.5L448.8 169L450.5 166.9L452.6 165.6L454.7 164.4L456.8 164.8L458.9 162.6L461 163.3L463.1 163L465.1 160.6L467.2 161.8L469.3 163.1L471.4 160.5L473.4 158.5L475.5 161.3L477.6 157.6L479.6 156.9L481.6 157.4L483.7 156.8L485.7 155L487.7 154.4L489.7 151.8L491.8 152.1L493.8 153.5L495.8 152.1L497.8 149.7L499.8 147.8L501.8 148.8L503.8 148.2L505.8 146L507.9 147.3L509.9 147L511.9 147.5L513.8 146L515.8 142.5L517.8 145.7L519.8 143.6L521.8 144.4L523.7 142.2L525.7 140.9L527.6 141.4L529.5 139.8L531.5 139.2L533.4 138.9L535.3 137L537.1 137.4L538.8 137.9L540.5 137.6L542.2 137.2L543.9 135.2L545.6 135.4L547.3 131.7L548.9 132L550.6 133.5L552.2 133L553.9 130.3L555.5 133.3L557.2 131.3L559 129.4L560.7 130.7L562.5 129.7L564.2 129L565.9 127.4L567.6 127.4L569.3 126.6L571 125.8L572.7 125.8L574.4 124.2L576 125.5L577.6 125.6L579.3 125.4L582.7 124.4L581.1 124.7L579.5 126.7L577.9 125.9L576.2 127.2L574.6 126.9L573 126.2L571.3 126.7L569.6 130L568 127.5L566.3 132.4L564.6 131.5L562.9 131.8L561.2 131.5L559.5 132.9L557.8 135L556.1 137.1L554.4 134.8L552.6 135.3L550.9 135.9L549.1 137.7L547.4 137.9L545.6 137.9L543.9 137.2L542.1 138.7L540.3 138L538.5 139.1L536.7 139.1L534.9 141.9L533.1 144.3L531.3 141.2L529.4 143.2L527.6 144.2L525.7 142.5L523.9 144.3L522 143.7L520.1 147L518.3 146L516.4 148.2L514.5 147.2L512.6 149.4L510.6 148.2L508.7 150.4L506.8 150.2L504.8 150.3L502.9 153.4L500.9 152.9L499 152.6L497 156.2L495 154.6L493 153.9L491 155.8L489 154.6L486.9 157.2L484.9 160.3L482.9 159.5L480.8 159.2L478.8 162.4L476.7 161.1L474.6 163.9L472.5 161.1L470.4 163.5L468.3 165.3L466.2 165L464 165.6L461.9 166.5L459.8 167.8L457.6 168L455.4 167.9L453.2 167.7L451 170.2L448.8 172.2ZM448.8 172.2L451 170.2L453.2 167.7L455.4 167.9L457.6 168L459.8 167.8L461.9 166.5L464 165.6L466.2 165L468.3 165.3L470.4 163.5L472.5 161.1L474.6 163.9L476.7 161.1L478.8 162.4L480.8 159.2L482.9 159.5L484.9 160.3L486.9 157.2L489 154.6L491 155.8L493 153.9L495 154.6L497 156.2L499 152.6L500.9 152.9L502.9 153.4L504.8 150.3L506.8 150.2L508.7 150.4L510.6 148.2L512.6 149.4L514.5 147.2L516.4 148.2L518.3 146L520.1 147L522 143.7L523.9 144.3L525.7 142.5L527.6 144.2L529.4 143.2L531.3 141.2L533.1 144.3L534.9 141.9L536.7 139.1L538.5 139.1L540.3 138L542.1 138.7L543.9 137.2L545.6 137.9L547.4 137.9L549.1 137.7L550.9 135.9L552.6 135.3L554.4 134.8L556.1 137.1L557.8 135L559.5 132.9L561.2 131.5L562.9 131.8L564.6 131.5L566.3 132.4L568 127.5L569.6 130L571.3 126.7L573 126.2L574.6 126.9L576.2 127.2L577.9 125.9L579.5 126.7L581.1 124.7L582.7 124.4L584.3 132.8L582.7 129L581.1 132.2L579.5 131L577.8 135.6L576.2 135.2L574.5 135.4L572.9 133.8L571.3 136L569.6 133.7L567.8 143.8L566.1 147.4L564.5 145L562.8 148.7L561.1 146.4L559.4 149.3L557.7 147.2L556 150.1L554.2 149.5L552.5 147.4L550.8 148.1L549 153.1L547.3 152.4L545.5 148.7L543.8 151.8L542 151.5L540.2 154.7L538.4 155.4L536.6 154.4L534.8 156L533 156.9L531.2 156.3L529.3 157.1L527.5 160.4L525.6 158.3L523.8 159.9L521.9 161L520 160.1L518.2 159.3L516.3 161.3L514.4 164.7L512.5 164L510.5 166.3L508.6 164.5L506.7 163.4L504.7 165.2L502.8 165.2L500.8 169.4L498.9 169.2L496.9 170.1L494.9 170L492.9 173.4L490.9 170.2L488.9 173.8L486.8 172.2L484.8 172.6L482.8 176.1L480.7 175.8L478.6 175.1L476.6 176.4L474.5 174.8L472.4 176.2L470.3 176.9L468.2 181.1L466.1 181.2L464 182.5L461.8 180.9L459.5 176.1L457.3 177.2L455 172L452.9 173.6L450.7 175.1ZM450.7 175.1L452.9 173.6L455 172L457.3 177.2L459.5 176.1L461.8 180.9L464 182.5L466.1 181.2L468.2 181.1L470.3 176.9L472.4 176.2L474.5 174.8L476.6 176.4L478.6 175.1L480.7 175.8L482.8 176.1L484.8 172.6L486.8 172.2L488.9 173.8L490.9 170.2L492.9 173.4L494.9 170L496.9 170.1L498.9 169.2L500.8 169.4L502.8 165.2L504.7 165.2L506.7 163.4L508.6 164.5L510.5 166.3L512.5 164L514.4 164.7L516.3 161.3L518.2 159.3L520 160.1L521.9 161L523.8 159.9L525.6 158.3L527.5 160.4L529.3 157.1L531.2 156.3L533 156.9L534.8 156L536.6 154.4L538.4 155.4L540.2 154.7L542 151.5L543.8 151.8L545.5 148.7L547.3 152.4L549 153.1L550.8 148.1L552.5 147.4L554.2 149.5L556 150.1L557.7 147.2L559.4 149.3L561.1 146.4L562.8 148.7L564.5 145L566.1 147.4L567.8 143.8L569.6 133.7L571.3 136L572.9 133.8L574.5 135.4L576.2 135.2L577.8 135.6L579.5 131L581.1 132.2L582.7 129L584.3 132.8L586 131.9L584.4 131.9L582.9 126.5L581.2 133.6L579.6 131.1L578 132.2L576.3 134.6L574.7 134.9L573 136.6L571.4 134.5L569.4 155.3L567.7 156.2L566 158.7L564.3 162L562.7 159.2L561 162.3L559.3 158.7L557.6 159.1L555.9 160.8L554.1 161.2L552.4 163.3L550.7 161.7L548.9 166.4L547.2 164.9L545.4 166.2L543.6 168L541.9 166.7L540.1 170.4L538.3 167.6L536.5 167L534.7 169.1L532.9 172.6L531 170.9L529.2 171.8L527.4 172.2L525.5 171.9L523.7 174.5L521.8 175.1L519.9 173.7L518 176.7L516.2 177.9L514.3 176.5L512.3 178.5L510.4 179.3L508.5 180.8L506.6 180.6L504.6 182.8L502.7 182.3L500.7 182.7L498.7 182.9L496.8 185L494.8 185L492.8 187.8L490.8 183.4L488.8 186.3L486.8 189.8L484.7 188.5L482.7 188.9L480.6 188.7L478.6 194.1L476.5 196.4L474.4 192.8L472.3 194.6L470.2 194.4L468.1 192.7L466 198.9L463.8 194.3L461.5 189.8L459.2 181.8L457 178.8L454.8 180.9L452.6 182.3ZM452.6 182.3L454.8 180.9L457 178.8L459.2 181.8L461.5 189.8L463.8 194.3L466 198.9L468.1 192.7L470.2 194.4L472.3 194.6L474.4 192.8L476.5 196.4L478.6 194.1L480.6 188.7L482.7 188.9L484.7 188.5L486.8 189.8L488.8 186.3L490.8 183.4L492.8 187.8L494.8 185L496.8 185L498.7 182.9L500.7 182.7L502.7 182.3L504.6 182.8L506.6 180.6L508.5 180.8L510.4 179.3L512.3 178.5L514.3 176.5L516.2 177.9L518 176.7L519.9 173.7L521.8 175.1L523.7 174.5L525.5 171.9L527.4 172.2L529.2 171.8L531 170.9L532.9 172.6L534.7 169.1L536.5 167L538.3 167.6L540.1 170.4L541.9 166.7L543.6 168L545.4 166.2L547.2 164.9L548.9 166.4L550.7 161.7L552.4 163.3L554.1 161.2L555.9 160.8L557.6 159.1L559.3 158.7L561 162.3L562.7 159.2L564.3 162L566 158.7L567.7 156.2L569.4 155.3L571.4 134.5L573 136.6L574.7 134.9L576.3 134.6L578 132.2L579.6 131.1L581.2 133.6L582.9 126.5L584.4 131.9L586 131.9L587.7 132.9L586.1 133.6L584.5 133.5L582.9 133.3L581.3 134.4L579.6 135.7L578 134.9L576.4 133.6L574.7 136.5L573.1 134L571 164.5L569.3 166.5L567.7 163.5L566 166.5L564.3 166.2L562.7 165.2L560.9 170L559.2 168.4L557.5 171.3L555.8 168.5L554.1 170.6L552.3 173L550.6 172.3L548.9 169.6L547.1 175.3L545.3 172.4L543.6 174.6L541.8 177.8L540 176.1L538.2 179.5L536.4 175.5L534.6 176.6L532.8 180.1L530.9 178.4L529.1 182L527.3 182.6L525.4 180.3L523.6 185.9L521.7 182.9L519.8 183.4L517.9 180.9L516 186L514.1 186.5L512.2 187.7L510.3 186.8L508.4 184.4L506.4 190.2L504.5 188.3L502.5 188.3L500.6 188.2L498.6 192.3L496.6 193L494.6 193.1L492.6 194.6L490.6 197.4L488.6 193.5L486.6 195.9L484.5 198.9L482.5 197.8L480.4 199L478.4 199.4L476.3 202.4L474.2 203.2L472.1 204.5L470 200.7L467.8 201.2L465.7 199.7L463.4 193L461.2 192.6L458.9 186.2L456.7 185.4L454.5 186.5ZM454.5 186.5L456.7 185.4L458.9 186.2L461.2 192.6L463.4 193L465.7 199.7L467.8 201.2L470 200.7L472.1 204.5L474.2 203.2L476.3 202.4L478.4 199.4L480.4 199L482.5 197.8L484.5 198.9L486.6 195.9L488.6 193.5L490.6 197.4L492.6 194.6L494.6 193.1L496.6 193L498.6 192.3L500.6 188.2L502.5 188.3L504.5 188.3L506.4 190.2L508.4 184.4L510.3 186.8L512.2 187.7L514.1 186.5L516 186L517.9 180.9L519.8 183.4L521.7 182.9L523.6 185.9L525.4 180.3L527.3 182.6L529.1 182L530.9 178.4L532.8 180.1L534.6 176.6L536.4 175.5L538.2 179.5L540 176.1L541.8 177.8L543.6 174.6L545.3 172.4L547.1 175.3L548.9 169.6L550.6 172.3L552.3 173L554.1 170.6L555.8 168.5L557.5 171.3L559.2 168.4L560.9 170L562.7 165.2L564.3 166.2L566 166.5L567.7 163.5L569.3 166.5L571 164.5L573.1 134L574.7 136.5L576.4 133.6L578 134.9L579.6 135.7L581.3 134.4L582.9 133.3L584.5 133.5L586.1 133.6L587.7 132.9L589.5 129.4L587.9 134.4L586.2 137.3L584.7 132.6L583 134.4L581.4 133.6L579.8 135.2L578.1 135.7L576.5 137.3L574.8 137.4L572.7 168.8L571.1 166.1L569.4 166.8L567.7 167.2L566 168.1L564.4 167.3L562.7 167.4L561 166L559.2 171.8L557.5 172.2L555.8 171.9L554.1 170.7L552.4 171.2L550.6 173.2L548.8 172.9L547.1 176.6L545.3 176.9L543.5 178.4L541.8 173.4L540 177.2L538.2 177.4L536.3 177.6L534.5 178.4L532.7 182.2L530.9 183.4L529 181L527.2 184.6L525.3 184.1L523.4 184.6L521.6 186.4L519.7 185.6L517.8 188.4L515.9 185.7L514 189L512.1 187.7L510.1 190.7L508.2 191L506.3 189.4L504.3 193.4L502.3 189.3L500.4 193.2L498.4 192.7L496.4 193.6L494.4 196.4L492.4 195.8L490.4 198.5L488.4 201.5L486.3 198.8L484.3 198L482.2 198.7L480.1 199.9L478.1 201.1L476 201.4L473.9 203.4L471.8 206.9L469.7 205.3L467.5 200.7L465.3 202.2L463 194.4L460.8 191.9L458.6 192.2L456.5 195.9ZM456.5 195.9L458.6 192.2L460.8 191.9L463 194.4L465.3 202.2L467.5 200.7L469.7 205.3L471.8 206.9L473.9 203.4L476 201.4L478.1 201.1L480.1 199.9L482.2 198.7L484.3 198L486.3 198.8L488.4 201.5L490.4 198.5L492.4 195.8L494.4 196.4L496.4 193.6L498.4 192.7L500.4 193.2L502.3 189.3L504.3 193.4L506.3 189.4L508.2 191L510.1 190.7L512.1 187.7L514 189L515.9 185.7L517.8 188.4L519.7 185.6L521.6 186.4L523.4 184.6L525.3 184.1L527.2 184.6L529 181L530.9 183.4L532.7 182.2L534.5 178.4L536.3 177.6L538.2 177.4L540 177.2L541.8 173.4L543.5 178.4L545.3 176.9L547.1 176.6L548.8 172.9L550.6 173.2L552.4 171.2L554.1 170.7L555.8 171.9L557.5 172.2L559.2 171.8L561 166L562.7 167.4L564.4 167.3L566 168.1L567.7 167.2L569.4 166.8L571.1 166.1L572.7 168.8L574.8 137.4L576.5 137.3L578.1 135.7L579.8 135.2L581.4 133.6L583 134.4L584.7 132.6L586.2 137.3L587.9 134.4L589.5 129.4L591.3 130L589.6 133.8L588 134.9L586.4 133.2L584.8 134.5L583.1 137.6L581.5 136.1L579.9 136.5L578.3 135.2L576.6 138.5L574.4 167L572.8 165.3L571.1 166.6L569.5 165L567.8 166.5L566.1 169L564.4 172.5L562.7 169.2L561 173.8L559.3 171.2L557.6 172.4L555.8 171.9L554.1 175L552.3 178.2L550.6 174.1L548.8 175.9L547 178.2L545.3 179.1L543.5 180.2L541.7 180.4L539.9 178.1L538.1 182.3L536.3 180.1L534.5 180.9L532.6 182L530.8 188L528.9 184.1L527.1 188.7L525.2 185.9L523.3 186.9L521.5 187.7L519.6 189.9L517.7 186L515.8 187.9L513.8 189.1L511.9 191.1L510 188L508 193.5L506.1 193.9L504.1 192.1L502.1 193.4L500.2 193.7L498.2 195.9L496.2 197.9L494.2 198L492.2 197.6L490.1 199.3L488.1 200.2L486 196.4L484 203.4L481.9 201.9L479.9 203.8L477.8 204.1L475.7 207.8L473.6 208.1L471.5 209.9L469.3 207L467.1 201L464.9 201.7L462.7 196.7L460.5 198.6L458.4 201.1ZM458.4 201.1L460.5 198.6L462.7 196.7L464.9 201.7L467.1 201L469.3 207L471.5 209.9L473.6 208.1L475.7 207.8L477.8 204.1L479.9 203.8L481.9 201.9L484 203.4L486 196.4L488.1 200.2L490.1 199.3L492.2 197.6L494.2 198L496.2 197.9L498.2 195.9L500.2 193.7L502.1 193.4L504.1 192.1L506.1 193.9L508 193.5L510 188L511.9 191.1L513.8 189.1L515.8 187.9L517.7 186L519.6 189.9L521.5 187.7L523.3 186.9L525.2 185.9L527.1 188.7L528.9 184.1L530.8 188L532.6 182L534.5 180.9L536.3 180.1L538.1 182.3L539.9 178.1L541.7 180.4L543.5 180.2L545.3 179.1L547 178.2L548.8 175.9L550.6 174.1L552.3 178.2L554.1 175L555.8 171.9L557.6 172.4L559.3 171.2L561 173.8L562.7 169.2L564.4 172.5L566.1 169L567.8 166.5L569.5 165L571.1 166.6L572.8 165.3L574.4 167L576.6 138.5L578.3 135.2L579.9 136.5L581.5 136.1L583.1 137.6L584.8 134.5L586.4 133.2L588 134.9L589.6 133.8L591.3 130L593 132.9L591.3 134.5L589.8 131.2L588.2 134.2L586.5 134.8L584.9 136.3L583.3 135.6L581.6 136.5L580 136.5L578.3 139.7L576.2 167.4L574.5 167.2L572.8 171.1L571.2 169.5L569.5 167.6L567.8 170L566.2 169.8L564.4 171.7L562.7 171.3L561 173L559.3 175.5L557.6 174.5L555.8 175.8L554.1 175.1L552.3 176.4L550.6 175.8L548.8 179.1L547 178.7L545.3 179L543.5 179.1L541.7 180.2L539.8 182.4L538 180.7L536.2 182.8L534.4 183L532.5 185.7L530.7 185.5L528.8 183.7L527 187.3L525.1 185.9L523.2 184.7L521.3 188.2L519.4 189.9L517.5 191.8L515.6 188.9L513.7 193.4L511.8 190.1L509.8 193.8L507.9 192.9L505.9 194.9L503.9 196.4L502 197.5L500 196L498 198.8L496 199.1L494 200.1L492 203.4L489.9 200.5L487.9 202.3L485.8 204.3L483.7 204.1L481.7 203.1L479.6 206L477.5 207.8L475.3 203.9L473.3 208.9L471.1 203.7L468.9 204.8L466.8 203.7L464.6 202.8L462.4 201.5L460.2 201.5ZM460.2 201.5L462.4 201.5L464.6 202.8L466.8 203.7L468.9 204.8L471.1 203.7L473.3 208.9L475.3 203.9L477.5 207.8L479.6 206L481.7 203.1L483.7 204.1L485.8 204.3L487.9 202.3L489.9 200.5L492 203.4L494 200.1L496 199.1L498 198.8L500 196L502 197.5L503.9 196.4L505.9 194.9L507.9 192.9L509.8 193.8L511.8 190.1L513.7 193.4L515.6 188.9L517.5 191.8L519.4 189.9L521.3 188.2L523.2 184.7L525.1 185.9L527 187.3L528.8 183.7L530.7 185.5L532.5 185.7L534.4 183L536.2 182.8L538 180.7L539.8 182.4L541.7 180.2L543.5 179.1L545.3 179L547 178.7L548.8 179.1L550.6 175.8L552.3 176.4L554.1 175.1L555.8 175.8L557.6 174.5L559.3 175.5L561 173L562.7 171.3L564.4 171.7L566.2 169.8L567.8 170L569.5 167.6L571.2 169.5L572.8 171.1L574.5 167.2L576.2 167.4L578.3 139.7L580 136.5L581.6 136.5L583.3 135.6L584.9 136.3L586.5 134.8L588.2 134.2L589.8 131.2L591.3 134.5L593 132.9L594.7 132.5L593.1 132.5L591.5 134.8L589.9 134.4L588.2 137.4L586.7 133.2L585 135.7L583.4 137.8L581.7 139.8L580.1 138.4L577.9 167.4L576.2 169.7L574.6 170.7L572.9 171.2L571.3 170.4L569.6 172.3L567.9 172.8L566.2 172.1L564.4 175.5L562.7 176.6L561 174.8L559.3 176.8L557.6 176.9L555.9 175.4L554.1 179L552.3 181.1L550.5 181.2L548.8 178.7L547 178.1L545.2 180.2L543.4 182.3L541.6 182.4L539.8 184.4L538 185L536.1 186.1L534.3 185.4L532.5 183.1L530.6 188.9L528.8 187.8L526.9 193.4L525 187.8L523.1 193.2L521.2 186.6L519.3 189.6L517.4 192.8L515.5 193.2L513.6 195.3L511.6 192.8L509.7 193.9L507.7 197L505.7 199.3L503.7 195.2L501.8 201.4L499.8 199.9L497.8 198.6L495.7 198.8L493.7 202.6L491.7 199.1L489.7 202.8L487.6 203.2L485.6 207.4L483.5 204.5L481.4 208.2L479.4 211L477.2 209.7L475.1 210.7L472.9 206.8L470.8 209.5L468.5 201.1L466.4 206.5L464.3 207L462 204.1ZM462 204.1L464.3 207L466.4 206.5L468.5 201.1L470.8 209.5L472.9 206.8L475.1 210.7L477.2 209.7L479.4 211L481.4 208.2L483.5 204.5L485.6 207.4L487.6 203.2L489.7 202.8L491.7 199.1L493.7 202.6L495.7 198.8L497.8 198.6L499.8 199.9L501.8 201.4L503.7 195.2L505.7 199.3L507.7 197L509.7 193.9L511.6 192.8L513.6 195.3L515.5 193.2L517.4 192.8L519.3 189.6L521.2 186.6L523.1 193.2L525 187.8L526.9 193.4L528.8 187.8L530.6 188.9L532.5 183.1L534.3 185.4L536.1 186.1L538 185L539.8 184.4L541.6 182.4L543.4 182.3L545.2 180.2L547 178.1L548.8 178.7L550.5 181.2L552.3 181.1L554.1 179L555.9 175.4L557.6 176.9L559.3 176.8L561 174.8L562.7 176.6L564.4 175.5L566.2 172.1L567.9 172.8L569.6 172.3L571.3 170.4L572.9 171.2L574.6 170.7L576.2 169.7L577.9 167.4L580.1 138.4L581.7 139.8L583.4 137.8L585 135.7L586.7 133.2L588.2 137.4L589.9 134.4L591.5 134.8L593.1 132.5L594.7 132.5L596.5 132.5L594.9 133L593.3 132L591.6 136.9L590 135.7L588.4 137.3L586.8 136L585.2 136.5L583.5 136.9L581.8 142.7L579.6 171.7L578 169.2L576.3 172.8L574.6 173.1L573 169.3L571.3 173.2L569.6 172.3L568 172.1L566.2 174.5L564.5 178.1L562.8 172.2L561.1 177L559.3 177.5L557.6 178.3L555.8 178.9L554.1 177.8L552.3 181.3L550.6 179.7L548.8 182.1L547 181.7L545.2 182.4L543.4 185.8L541.6 186L539.8 185.6L537.9 184.9L536.1 184.3L534.3 184.5L532.4 187.2L530.5 185.6L528.7 189.3L526.8 191.2L524.9 189.2L523 191.2L521.1 194L519.2 192.6L517.3 196.6L515.3 198.4L513.4 196.2L511.5 196.9L509.5 197.1L507.5 198.4L505.6 199.3L503.6 199.5L501.6 199.5L499.6 203.5L497.6 203.9L495.5 200.2L493.5 205.7L491.5 203.7L489.4 204.2L487.4 209.2L485.3 209.5L483.2 207.4L481.1 210.1L479 207.8L476.9 207.9L474.8 209.1L472.6 208L470.4 208L468.2 207L466.1 206.2L463.9 206ZM463.9 206L466.1 206.2L468.2 207L470.4 208L472.6 208L474.8 209.1L476.9 207.9L479 207.8L481.1 210.1L483.2 207.4L485.3 209.5L487.4 209.2L489.4 204.2L491.5 203.7L493.5 205.7L495.5 200.2L497.6 203.9L499.6 203.5L501.6 199.5L503.6 199.5L505.6 199.3L507.5 198.4L509.5 197.1L511.5 196.9L513.4 196.2L515.3 198.4L517.3 196.6L519.2 192.6L521.1 194L523 191.2L524.9 189.2L526.8 191.2L528.7 189.3L530.5 185.6L532.4 187.2L534.3 184.5L536.1 184.3L537.9 184.9L539.8 185.6L541.6 186L543.4 185.8L545.2 182.4L547 181.7L548.8 182.1L550.6 179.7L552.3 181.3L554.1 177.8L555.8 178.9L557.6 178.3L559.3 177.5L561.1 177L562.8 172.2L564.5 178.1L566.2 174.5L568 172.1L569.6 172.3L571.3 173.2L573 169.3L574.6 173.1L576.3 172.8L578 169.2L579.6 171.7L581.8 142.7L583.5 136.9L585.2 136.5L586.8 136L588.4 137.3L590 135.7L591.6 136.9L593.3 132L594.9 133L596.5 132.5L598.2 133.6L596.7 133.7L595 135.9L593.4 136.6L591.8 135.1L590.3 133.2L588.6 135.7L586.9 138L585.3 136.8L583.6 140.2L581.4 169.5L579.8 168.2L578 173.5L576.4 170.8L574.7 172.8L573.1 174.2L571.3 176.7L569.7 173.6L568 176.4L566.3 174.7L564.5 179.4L562.8 176.5L561.1 178.6L559.4 178.7L557.6 180.6L555.9 180.1L554.1 178.4L552.3 181.8L550.6 180.6L548.8 181.3L547 185.7L545.1 188.8L543.3 187L541.5 188.3L539.7 190.2L537.9 185.3L536 189.2L534.2 187.5L532.3 189.5L530.5 190.9L528.6 190.9L526.7 191.7L524.8 193L522.9 196.4L521 194.9L519.1 194.9L517.1 195.6L515.2 197.2L513.3 197.6L511.3 198.6L509.3 198.3L507.3 196.4L505.4 203.2L503.4 200.3L501.4 200.2L499.4 200.7L497.3 202.2L495.3 205.8L493.3 205.7L491.3 208.5L489.1 204.3L487.1 208.5L485 208.7L482.9 209.4L480.8 210L478.7 211.9L476.6 210.6L474.4 208.8L472.2 207.4L470 206.1L467.9 207.3L465.8 211.3ZM465.8 211.3L467.9 207.3L470 206.1L472.2 207.4L474.4 208.8L476.6 210.6L478.7 211.9L480.8 210L482.9 209.4L485 208.7L487.1 208.5L489.1 204.3L491.3 208.5L493.3 205.7L495.3 205.8L497.3 202.2L499.4 200.7L501.4 200.2L503.4 200.3L505.4 203.2L507.3 196.4L509.3 198.3L511.3 198.6L513.3 197.6L515.2 197.2L517.1 195.6L519.1 194.9L521 194.9L522.9 196.4L524.8 193L526.7 191.7L528.6 190.9L530.5 190.9L532.3 189.5L534.2 187.5L536 189.2L537.9 185.3L539.7 190.2L541.5 188.3L543.3 187L545.1 188.8L547 185.7L548.8 181.3L550.6 180.6L552.3 181.8L554.1 178.4L555.9 180.1L557.6 180.6L559.4 178.7L561.1 178.6L562.8 176.5L564.5 179.4L566.3 174.7L568 176.4L569.7 173.6L571.3 176.7L573.1 174.2L574.7 172.8L576.4 170.8L578 173.5L579.8 168.2L581.4 169.5L583.6 140.2L585.3 136.8L586.9 138L588.6 135.7L590.3 133.2L591.8 135.1L593.4 136.6L595 135.9L596.7 133.7L598.2 133.6L600 136.2L598.3 138.9L596.8 135.5L595.1 138.3L593.6 135.7L591.9 139.3L590.3 138.4L588.6 140.3L587 141.1L585.4 138.5L583.2 170.7L581.5 169L579.9 171.5L578.2 172.2L576.5 173.8L574.8 173.4L573.1 176.8L571.4 177L569.7 177.1L568.1 175.8L566.3 177.2L564.6 178.1L562.9 179.5L561.1 179.8L559.4 180.7L557.6 181.7L555.9 183.4L554.1 180.6L552.3 186.6L550.5 185.5L548.8 179.7L546.9 185.8L545.1 187.4L543.3 188.4L541.5 186.7L539.6 190.6L537.8 186.6L536 190L534.1 190.4L532.2 192.3L530.4 190.3L528.5 193.4L526.6 195.5L524.7 195.7L522.8 195.4L520.9 197.2L518.9 198.3L517 199.8L515.1 199.3L513.1 197.9L511.1 201.8L509.2 199.7L507.2 200.3L505.2 202.2L503.2 204.8L501.2 204.6L499.2 205.9L497.1 206.1L495.1 204.5L493.1 209.5L491 209.8L488.9 210.2L486.8 209.9L484.7 209.8L482.6 210.8L480.6 212.7L478.4 210.9L476.3 213.8L474 207.4L471.9 208.5L469.8 210.4L467.6 211.5ZM467.6 211.5L469.8 210.4L471.9 208.5L474 207.4L476.3 213.8L478.4 210.9L480.6 212.7L482.6 210.8L484.7 209.8L486.8 209.9L488.9 210.2L491 209.8L493.1 209.5L495.1 204.5L497.1 206.1L499.2 205.9L501.2 204.6L503.2 204.8L505.2 202.2L507.2 200.3L509.2 199.7L511.1 201.8L513.1 197.9L515.1 199.3L517 199.8L518.9 198.3L520.9 197.2L522.8 195.4L524.7 195.7L526.6 195.5L528.5 193.4L530.4 190.3L532.2 192.3L534.1 190.4L536 190L537.8 186.6L539.6 190.6L541.5 186.7L543.3 188.4L545.1 187.4L546.9 185.8L548.8 179.7L550.5 185.5L552.3 186.6L554.1 180.6L555.9 183.4L557.6 181.7L559.4 180.7L561.1 179.8L562.9 179.5L564.6 178.1L566.3 177.2L568.1 175.8L569.7 177.1L571.4 177L573.1 176.8L574.8 173.4L576.5 173.8L578.2 172.2L579.9 171.5L581.5 169L583.2 170.7L585.4 138.5L587 141.1L588.6 140.3L590.3 138.4L591.9 139.3L593.6 135.7L595.1 138.3L596.8 135.5L598.3 138.9L600 136.2L603.1 133.2L601.5 134.6L600 133L598.3 136.5L596.7 138.1L595 139.9L593.5 136.5L591.9 134.7L590.2 136.4L588.5 138.4L586.2 171.7L584.6 172.2L582.9 175.1L581.3 173.9L579.6 176.3L577.9 177.1L576.2 179.7L574.5 178.6L572.7 175.5L570.8 180.4L568.9 180.8L567 181L565.2 181.3L563.3 180L561.4 180.4L559.5 182.4L557.5 182.8L555.6 183.9L553.6 184.2L551.7 182.8L549.7 187.9L547.7 187.5L545.7 187.4L543.7 187.3L541.7 189L539.7 189.1L537.7 190.4L535.7 190.9L533.7 191.7L531.6 189.6L529.6 191.8L527.5 192.6L525.5 192.4L523.4 193.2L521.6 196.8L519.8 195.4L518.1 197.3L516.3 197L514.5 199.2L512.8 200.2L511 198.9L509.2 200.5L507.3 201.2L505.5 201.8L503.6 201.2L501.7 204.3L499.8 208.2L497.9 205.4L496 206.8L493.4 209.5L490.8 208.7L488.2 207.2L485.7 208.6L483.1 211.2L480.5 211.1L478.3 212L476.2 209.7L474.2 208.4L472.1 208.5L470 209.7L467.9 208.5L465.7 209.5ZM465.7 209.5L467.9 208.5L470 209.7L472.1 208.5L474.2 208.4L476.2 209.7L478.3 212L480.5 211.1L483.1 211.2L485.7 208.6L488.2 207.2L490.8 208.7L493.4 209.5L496 206.8L497.9 205.4L499.8 208.2L501.7 204.3L503.6 201.2L505.5 201.8L507.3 201.2L509.2 200.5L511 198.9L512.8 200.2L514.5 199.2L516.3 197L518.1 197.3L519.8 195.4L521.6 196.8L523.4 193.2L525.5 192.4L527.5 192.6L529.6 191.8L531.6 189.6L533.7 191.7L535.7 190.9L537.7 190.4L539.7 189.1L541.7 189L543.7 187.3L545.7 187.4L547.7 187.5L549.7 187.9L551.7 182.8L553.6 184.2L555.6 183.9L557.5 182.8L559.5 182.4L561.4 180.4L563.3 180L565.2 181.3L567 181L568.9 180.8L570.8 180.4L572.7 175.5L574.5 178.6L576.2 179.7L577.9 177.1L579.6 176.3L581.3 173.9L582.9 175.1L584.6 172.2L586.2 171.7L588.5 138.4L590.2 136.4L591.9 134.7L593.5 136.5L595 139.9L596.7 138.1L598.3 136.5L600 133L601.5 134.6L603.1 133.2L606.2 135.9L604.6 136L603 137.1L601.4 139L599.8 139.4L598.2 140L596.6 138.3L594.9 140.4L593.3 140.8L591.7 139.8L589.3 172.8L587.6 176.4L586 174.4L584.4 175.6L582.7 176.9L581 176.8L579.3 178.5L577.7 177.7L575.7 175.7L573.6 179.5L571.6 181.2L569.5 181L567.5 179.5L565.5 180.6L563.4 182.8L561.3 181.6L559.2 182.2L557.1 185.5L555 183.3L552.8 184L550.7 185.1L548.5 185.5L546.3 188L544.2 187.6L542 187.9L539.8 188.7L537.6 189.5L535.4 189.6L533.2 191.2L531 189.6L528.8 192.4L526.6 190.7L524.3 192.6L522.1 193.9L520.4 192.5L518.8 195.8L517.2 195.4L515.6 197.8L514 196.8L512.4 197.2L510.8 200.6L509.2 202.2L507.5 201.5L505.7 203.8L504 205.4L502.2 205.5L500.5 206L498.7 207L496.8 207.3L493.8 208.5L490.7 208.4L487.6 208.4L484.5 208.6L481.4 207.2L478.3 208L476.1 210.1L474.1 207.7L472.1 207L470.1 207.5L468 205.3L466 206L463.9 207.9Z"/><path class="vl" d="M430.8 165.9l.7-.4l-.1-2.6l-0-.7l1.5-2.9l2 .1l2-1.4l1.9-.1l2-.9l1.9 .4l1.9-2.3l1.8-2l2.1 1.6l2.1-.4l2-1.2l2.1-.3l2-.4l2.1-1.6l2-.2l2-2.5l2.1 .8l2.1-.9l2.1-1.3l2.2 .7l2.1-2.4l2.2 1.5l2.1-.4l2.2-1l2.4-.8l2.4 .8l2.3-1.9l2.4 1.1l2.3-3.7l2.4 1l2.3 .1l2.4-.2l2.4-1l2.4-.7l2.4 .4l2.4-.6l2.4-1.3l2.4-.1l2.3-2l2.4-.7l2.3 .7l2.4-.9l1.9 1.2l1.4-2.6l1.4-.1l1.4-1.2l1.4-1.8l1.4 3.3l1.3-3.3l1.4 .7l1.4-2.3l1.3 1.2l1.3-1.5l1.5-1.3l1.9-.9l1.9 0l1.9 .4l1.9-.8l1.9-1.9l1.9 .4l1.9 1.1l1.9-3l1.9-.1l1.8-.9l1.9 .7l1.8-1.6l1.7 1.3l1.7-2.1M434.4 166.7l1-2.4l.3-1.6l.5 .7l1.7-1.6l2-.9l1.9-2l2-.3l2 1.4l1.9-2.6l2-1l1.9-2.3l2.1 3.4l2-1.9l2.1-2.7l2.1 2.2l2-.8l2-2.6l2.1-1.2l2 1.2l2-2l2.1-.2l2.1-2.1l2.2 1l2.1-1.7l2.1 1.4l2.1-1.4l2.2-.7l2.3-1.8l2.2 0l2.3 .9l2.3-2.1l2.2-.6l2.3 .4l2.2-.4l2.3-.6l2.4 1l2.3-2.5l2.3-.5l2.2 .6l2.3-2.2l2.3 1.7l2.2-1.3l2.3-.6l2.2-3l2.3 3.1l1.9-2.8l1.5-1l1.4-.1l1.5-1.5l1.5 1.5l1.4 .7l1.5-3.8l1.4 1.4l1.4-1.6l1.4 .2l1.5-2.8l1.4-.5l1.9 1.1l1.9-2.2l1.9 .3l1.8-.3l1.9-.7l1.8-.3l1.9-1.3l1.8-.2l1.8 .1l1.9-1.8l1.8 1.1l1.8-1.4l1.7-.7l1.7-1.5M438 167.8l1.2-3.5l.9 .6l.8-.7l1.9-.3l2-2.2l2-.1l2.1 .5l2-.7l2-1.4l2-.6l1.9-2.7l2-1l2.1-.2l2.1-.1l2.1 .2l2-1.2l2-1.6l2.1-2l2 .6l2 .6l2.1-1l2.1-.1l2.1-.3l2.1-1.3l2-1l2.1-2.4l2.1 1.3l2.2-2l2.2-1l2.2 1.2l2.2-2.1l2.2 .3l2.2 .6l2.1-1.2l2.2-.3l2.2-.3l2.2-.6l2.2-.9l2.2-.9l2.1 .9l2.2-1.5l2.2 1l2.1-2.3l2.1-.9l2.2-.1l1.9-.7l1.5-1l1.5 .7l1.6-1.1l1.5-1.4l1.6-1.2l1.5-0l1.5-2.8l1.5 2l1.5-1.7l1.5-.9l1.5 .8l1.8 .1l1.9-.2l1.8-1.8l1.8-1.5l1.8 .3l1.8-.5l1.8 .1l1.8-1.5l1.8 2.1l1.8-2.8l1.7-.3l1.8 .8l1.7-4l1.6 2.9M441.6 169.5l1.6-.8l1.2-3.6l1.3 1.2l1.9-2.5l2.1-.7l2.1-.3l2.1 .9l2-1.5l2-3.2l2.1 2.5l2-1.2l2-1.5l2.1-1.8l2.1-0l2-1.3l2.1 1.3l2-2.9l2.1-.3l2 1.7l2-4.1l2.1-1.4l2.1 2.6l2-1.5l2-2.1l2.1 2.4l2-.1l2.1-1.4l2.1-1.4l2.1-.6l2.1-1.8l2.1-.3l2.1 1l2.1-2.5l2.1-1.9l2.1 .1l2.1-.4l2 .5l2.1-1.6l2.1 1.4l2.1-2.3l2 .3l2.1-1.8l2 .1l2 1l2-1.8l1.9-1.7l1.6 1.8l1.6-1.2l1.7-.5l1.6 .1l1.6-3.1l1.6-1l1.6-.1l1.5-0l1.6-.4l1.6-.9l1.5 .4l1.9-2.2l1.7-.7l1.8-.4l1.8 .9l1.8-1.2l1.7-.3l1.8-2.5l1.7 1.1l1.7 1.5l1.8-2.8l1.7-2l1.7 .7l1.7-.8l1.6 .3M445.2 171.5l1.9-1l1.7-1.6l1.7-2.1l2-1.2l2.2-1.2l2.1 .4l2.1-2.2l2.1 .6l2.1-.2l2-2.5l2.1 1.2l2.1 1.3l2.1-2.5l2-2l2.1 2.8l2-3.7l2.1-.7l2 .5l2.1-.7l2-1.8l2-.6l2-2.6l2 .3l2.1 1.4l2-1.4l2-2.3l2-1.9l2 .9l2-.5l2-2.3l2.1 1.4l2-.4l1.9 .6l2-1.6l2-3.4l2 3.1l2-2.1l1.9 .9l2-2.2l2-1.4l1.9 .6l1.9-1.6l2-.6l1.9-.3l1.9-1.9l1.8 .4l1.7 .4l1.7-.2l1.7-.5l1.7-1.9l1.7 .2l1.7-3.7l1.6 .3l1.7 1.4l1.6-.5l1.7-2.6l1.6 3l1.7-2l1.8-2l1.7 1.3l1.7-1l1.8-.7l1.7-1.5l1.7-.1l1.7-.8l1.7-.7l1.7-0l1.7-1.6l1.6 1.2l1.6 .2l1.6-.2M448.8 172.2l2.2-2l2.1-2.5l2.2 .2l2.2 .1l2.2-.2l2.2-1.3l2.1-.9l2.1-.6l2.2 .3l2.1-1.8l2-2.4l2.2 2.8l2-2.8l2.1 1.3l2.1-3.2l2 .3l2.1 .7l2-3l2-2.6l2 1.2l2-1.9l2.1 .7l2 1.5l1.9-3.5l2 .3l2 .5l1.9-3.1l1.9-.1l2 .2l1.9-2.2l1.9 1.2l1.9-2.3l1.9 1.1l1.9-2.2l1.9 1l1.9-3.3l1.8 .6l1.9-1.8l1.9 1.7l1.8-1l1.8-2l1.8 3.1l1.9-2.4l1.8-2.8l1.8-0l1.8-1.2l1.8 .8l1.7-1.6l1.8 .8l1.8 0l1.7-.3l1.8-1.7l1.7-.6l1.7-.5l1.7 2.3l1.8-2.1l1.7-2.1l1.7-1.4l1.7 .3l1.7-.3l1.6 .8l1.7-4.9l1.7 2.6l1.7-3.4l1.6-.4l1.6 .7l1.7 .3l1.6-1.3l1.6 .7l1.7-1.9l1.6-.3M450.7 175.1l2.2-1.5l2.2-1.7l2.3 5.3l2.1-1.1l2.3 4.7l2.2 1.7l2.1-1.3l2.1-.1l2.1-4.3l2.1-.6l2.1-1.4l2.1 1.5l2.1-1.2l2 .7l2.1 .3l2-3.5l2.1-.5l2 1.7l2-3.7l2 3.3l2-3.4l2 .1l2-.9l2 .2l1.9-4.2l2-0l1.9-1.8l1.9 1.1l2 1.7l1.9-2.2l1.9 .7l1.9-3.5l1.9-1.9l1.9 .8l1.8 .9l1.9-1.1l1.9-1.6l1.8 2.1l1.8-3.4l1.9-.7l1.8 .6l1.8-.9l1.8-1.6l1.8 1l1.8-.7l1.8-3.2l1.8 .2l1.8-3l1.7 3.7l1.7 .7l1.8-5.1l1.8-.6l1.7 2.1l1.7 .6l1.7-3l1.7 2.2l1.7-2.9l1.7 2.3l1.7-3.7l1.6 2.4l1.8-3.6l1.8-10.1l1.6 2.3l1.7-2.3l1.6 1.7l1.6-.2l1.6 .4l1.7-4.6l1.6 1.2l1.7-3.2l1.5 3.8M452.6 182.3l2.2-1.3l2.1-2.1l2.3 2.9l2.3 8.1l2.3 4.4l2.2 4.7l2-6.2l2.2 1.7l2.1 .2l2.1-1.9l2.1 3.6l2.1-2.2l2-5.4l2 .1l2.1-.3l2 1.2l2-3.5l2-2.8l2.1 4.4l2-2.9l2 0l1.9-2.1l2-.1l2-.5l1.9 .5l2-2.2l1.9 .3l1.9-1.6l1.9-.8l1.9-1.9l1.9 1.3l1.9-1.1l1.9-3.1l1.9 1.5l1.8-.7l1.9-2.5l1.9 .2l1.8-.4l1.8-.9l1.8 1.7l1.9-3.4l1.8-2.1l1.8 .5l1.7 2.8l1.8-3.7l1.8 1.3l1.8-1.8l1.8-1.2l1.7 1.4l1.8-4.7l1.7 1.6l1.7-2l1.8-.4l1.7-1.8l1.7-.4l1.6 3.6l1.8-3.1l1.6 2.8l1.7-3.3l1.7-2.4l1.7-1l1.9-20.8l1.7 2.1l1.6-1.7l1.7-.2l1.7-2.5l1.6-1l1.6 2.5l1.7-7.1l1.5 5.4l1.6-0M454.5 186.5l2.2-1.1l2.2 .8l2.3 6.4l2.2 .4l2.3 6.7l2.1 1.6l2.2-.6l2.1 3.8l2.1-1.3l2.1-.8l2.1-2.9l2-.5l2.1-1.2l2.1 1.1l2-2.9l2-2.5l2 3.9l2-2.7l2-1.6l2-.1l2-.6l2-4.2l1.9 .1l2-0l2 2l1.9-5.9l1.9 2.5l1.9 .8l1.9-1.2l1.9-.4l1.9-5.1l1.9 2.4l1.9-.5l1.9 3l1.8-5.5l1.9 2.2l1.8-.6l1.9-3.6l1.8 1.8l1.8-3.5l1.8-1.2l1.8 4l1.8-3.3l1.8 1.6l1.8-3.2l1.8-2.2l1.7 3l1.8-5.8l1.7 2.7l1.7 .7l1.8-2.3l1.7-2.2l1.7 2.8l1.7-2.8l1.7 1.5l1.8-4.8l1.6 1l1.7 .3l1.7-2.9l1.6 3l1.7-2.1l2.1-30.5l1.6 2.6l1.7-3l1.6 1.3l1.7 .8l1.6-1.3l1.6-1.1l1.6 .2l1.6 .1l1.6-.6M456.5 195.9l2.1-3.7l2.2-.3l2.2 2.5l2.4 7.7l2.1-1.4l2.2 4.6l2.2 1.6l2-3.5l2.1-2.1l2.1-.3l2.1-1.1l2-1.2l2.1-.7l2 .8l2.1 2.7l2-3l2-2.8l2 .7l2-2.8l2-1l2 .6l2-3.9l1.9 4.1l2-4l1.9 1.6l2-.3l1.9-3l1.9 1.3l1.9-3.3l1.9 2.7l1.9-2.8l1.9 .8l1.9-1.8l1.8-.5l1.9 .5l1.8-3.6l1.9 2.4l1.8-1.2l1.9-3.8l1.8-.8l1.8-.2l1.8-.2l1.8-3.8l1.7 4.9l1.8-1.4l1.8-.3l1.8-3.8l1.7 .3l1.8-2l1.7-.4l1.7 1.2l1.7 .3l1.8-.4l1.7-5.8l1.7 1.4l1.7-.1l1.7 .8l1.6-.9l1.7-.4l1.7-.7l1.6 2.6l2.1-31.3l1.7-.1l1.7-1.6l1.6-.5l1.7-1.6l1.6 .8l1.6-1.9l1.5 4.8l1.7-2.9l1.7-5M458.4 201.1l2.2-2.5l2.1-1.9l2.3 5l2.1-.7l2.3 5.9l2.2 3l2.1-1.9l2.1-.2l2-3.7l2.1-.3l2.1-2l2.1 1.6l1.9-7l2.1 3.8l2.1-.9l2-1.7l2 .4l2-.1l2-2l2-2.2l2-.4l2-1.2l1.9 1.8l2-.4l1.9-5.5l2 3l1.9-1.9l1.9-1.2l1.9-1.9l1.9 3.9l1.9-2.2l1.9-.8l1.8-1l1.9 2.8l1.9-4.6l1.8 3.9l1.9-6l1.8-1.1l1.8-.8l1.8 2.2l1.8-4.2l1.8 2.2l1.8-.1l1.8-1.1l1.8-.9l1.8-2.4l1.7-1.7l1.7 4l1.8-3.2l1.8-3l1.7 .5l1.7-1.2l1.7 2.5l1.7-4.6l1.7 3.4l1.7-3.5l1.7-2.5l1.7-1.5l1.7 1.5l1.6-1.2l1.7 1.7l2.1-28.6l1.7-3.2l1.6 1.3l1.6-.4l1.6 1.5l1.7-3.1l1.7-1.4l1.5 1.7l1.6-1l1.7-3.9M460.2 201.5l2.2 0l2.2 1.3l2.2 .9l2.2 1.1l2.1-1.1l2.2 5.2l2.1-5.1l2.2 4l2-1.8l2.1-2.9l2.1 1l2.1 .2l2-2l2-1.8l2.1 2.9l2-3.3l2-1l2-.3l2-2.8l2 1.5l2-1.2l1.9-1.4l2-2l2 .9l1.9-3.7l1.9 3.3l1.9-4.5l2 2.9l1.9-1.9l1.9-1.7l1.9-3.5l1.8 1.2l1.9 1.4l1.9-3.6l1.8 1.8l1.9 .2l1.8-2.7l1.8-.2l1.9-2.1l1.8 1.7l1.8-2.2l1.8-1.1l1.8-.2l1.8-.2l1.7 .4l1.8-3.3l1.8 .6l1.7-1.3l1.8 .7l1.7-1.3l1.7 1l1.7-2.5l1.8-1.7l1.7 .4l1.7-1.9l1.7 .2l1.7-2.4l1.6 1.9l1.6 1.6l1.8-4l1.6 .3l2.1-27.7l1.7-3.2l1.7-0l1.6-.9l1.6 .7l1.7-1.5l1.6-.6l1.7-3l1.5 3.3l1.6-1.6M462 204.1l2.2 2.9l2.2-.5l2.1-5.4l2.3 8.5l2.1-2.8l2.2 3.9l2.1-1l2.1 1.3l2.1-2.7l2-3.8l2.2 3l2-4.3l2-.4l2.1-3.7l2 3.5l2-3.8l2-.2l2.1 1.3l2 1.5l1.9-6.2l2 4.1l2-2.3l1.9-3.1l2-1.1l1.9 2.5l2-2.1l1.9-.4l1.9-3.2l1.9-3l1.9 6.6l1.9-5.4l1.9 5.6l1.8-5.6l1.9 1.2l1.9-5.9l1.8 2.3l1.8 .7l1.9-1.1l1.8-.6l1.8-2l1.8-.1l1.8-2.1l1.8-2.1l1.8 .6l1.7 2.5l1.8-.1l1.8-2.1l1.7-3.6l1.8 1.5l1.7-.1l1.7-2l1.7 1.8l1.7-1.1l1.8-3.3l1.7 .6l1.6-.4l1.7-1.9l1.7 .7l1.7-.5l1.6-1l1.7-2.3l2.2-29l1.6 1.4l1.7-2l1.6-2.1l1.7-2.5l1.5 4.2l1.7-3l1.6 .4l1.6-2.3l1.6 0M463.9 206l2.2 .2l2.2 .8l2.2 1l2.1 0l2.2 1l2.1-1.2l2.1 0l2.2 2.3l2-2.7l2.2 2.1l2-.3l2.1-5l2-.5l2.1 2l2-5.5l2 3.7l2-.5l2-3.9l2-0l2-.2l2-.9l1.9-1.3l2-.2l1.9-.7l2 2.1l1.9-1.7l1.9-4l1.9 1.4l2-2.9l1.8-1.9l1.9 1.9l1.9-1.8l1.9-3.7l1.8 1.5l1.9-2.6l1.8-.2l1.9 .5l1.8 .7l1.8 .5l1.8-.3l1.8-3.3l1.8-.7l1.8 .3l1.8-2.3l1.8 1.6l1.7-3.5l1.8 1.1l1.7-.6l1.8-.8l1.7-.5l1.8-4.9l1.6 6l1.8-3.6l1.7-2.4l1.7 .2l1.6 .9l1.8-3.9l1.6 3.8l1.6-.3l1.8-3.6l1.5 2.5l2.2-29l1.8-5.8l1.6-.4l1.6-.5l1.6 1.3l1.7-1.6l1.6 1.2l1.7-4.9l1.5 .9l1.6-.5M465.8 211.3l2.1-4l2.2-1.2l2.2 1.3l2.2 1.4l2.1 1.8l2.2 1.3l2.1-1.9l2.1-.6l2.1-.7l2-.2l2.1-4.1l2.1 4.1l2-2.8l2.1 .1l2-3.6l2-1.5l2-.5l2 .1l2 2.9l2-6.8l2 1.9l1.9 .3l2-1l1.9-.4l2-1.6l1.9-.6l1.9-.1l1.9 1.6l1.9-3.5l1.9-1.3l1.9-.8l1.9-0l1.9-1.4l1.8-2l1.9 1.7l1.8-3.9l1.8 4.9l1.9-1.9l1.8-1.3l1.8 1.8l1.8-3.1l1.8-4.4l1.8-.7l1.8 1.2l1.8-3.4l1.7 1.7l1.7 .5l1.8-1.9l1.7-.1l1.8-2.1l1.7 2.9l1.7-4.7l1.7 1.7l1.7-2.8l1.7 3.1l1.7-2.4l1.7-1.5l1.7-2l1.6 2.7l1.7-5.2l1.6 1.2l2.2-29.3l1.7-3.4l1.7 1.2l1.6-2.3l1.7-2.5l1.6 1.9l1.5 1.5l1.7-.7l1.6-2.2l1.6-.1M467.6 211.5l2.2-1l2.1-2l2.2-1.1l2.2 6.4l2.1-2.9l2.2 1.8l2.1-1.9l2.1-1l2.1 .1l2.1 .3l2-.4l2.1-.3l2-5l2.1 1.7l2-.3l2-1.3l2 .2l2-2.6l2-1.9l2-.6l2 2.1l1.9-3.9l2 1.5l1.9 .4l2-1.5l1.9-1.1l1.9-1.8l1.9 .4l1.9-.3l1.9-2.1l1.9-3l1.9 2l1.8-2l1.9-.4l1.9-3.4l1.8 4l1.8-3.9l1.8 1.8l1.8-1.1l1.9-1.6l1.8-6.1l1.7 5.8l1.8 1.1l1.8-5.9l1.8 2.8l1.7-1.7l1.8-1.1l1.8-.9l1.7-.3l1.7-1.4l1.7-.9l1.8-1.4l1.7 1.4l1.6-.2l1.7-.2l1.8-3.3l1.6 .3l1.7-1.6l1.7-.7l1.7-2.4l1.6 1.6l2.2-32.1l1.6 2.5l1.7-.8l1.6-1.8l1.6 .8l1.7-3.6l1.6 2.6l1.6-2.8l1.5 3.4l1.7-2.7M465.7 209.5l2.1-1l2.2 1.3l2-1.3l2.1-.1l2.1 1.3l2.1 2.3l2.1-.9l2.7 .1l2.5-2.6l2.6-1.4l2.6 1.6l2.6 .7l2.5-2.6l2-1.5l1.9 2.9l1.9-4l1.9-3.1l1.8 .6l1.9-.6l1.9-.7l1.7-1.6l1.8 1.3l1.8-1l1.8-2.2l1.7 .3l1.8-1.9l1.7 1.4l1.9-3.6l2-.8l2.1 .2l2-.8l2.1-2.2l2 2.2l2.1-.9l2-.5l2-1.3l2-.1l2-1.7l2 .1l2 .1l2 .5l2-5.2l1.9 1.5l2-.4l1.9-1.1l1.9-.4l2-2l1.9-.3l1.8 1.2l1.9-.2l1.9-.3l1.9-.3l1.9-5l1.8 3.1l1.6 1.1l1.8-2.6l1.6-.8l1.7-2.4l1.7 1.2l1.7-2.9l1.6-.4l2.3-33.4l1.7-2l1.7-1.7l1.5 1.8l1.6 3.4l1.6-1.8l1.7-1.6l1.6-3.5l1.6 1.6l1.6-1.4M463.9 207.9l2.1-1.9l2-.7l2.1 2.2l2-.4l2 .6l2 2.4l2.2-2.1l3.1-.8l3.1 1.4l3.1-.2l3.1 .1l3.1 0l3.1-1.1l1.8-.3l1.8-1.1l1.8-.4l1.7-.2l1.8-1.6l1.7-2.3l1.7 .7l1.6-1.5l1.6-3.4l1.6-.5l1.6 1l1.6-2.3l1.6 .4l1.6-3.4l1.7 1.5l2.2-1.3l2.3-2l2.2 1.8l2.2-2.9l2.2 1.7l2.2-1.7l2.2-0l2.2-.8l2.2-.8l2.2-.4l2.1 .5l2.2-2.5l2.2-.4l2.1-1.2l2.2-.6l2.1 2.2l2.2-3.4l2.1-.6l2 1.3l2.1-2.3l2-1l2.1 1.4l2 .2l2-1.6l2.1-3.8l2 1.9l1.6 .8l1.7-1.6l1.7 0l1.7-1.3l1.6-1.1l1.6 1.9l1.7-3.6l2.4-33l1.6 1l1.6-.4l1.7-2.1l1.6 1.8l1.6-.6l1.6-.5l1.6-1.8l1.6-1.2l1.6-.1M430.8 165.9l3.5 .8l3.6 1.1l3.6 1.7l3.7 2l3.6 .7l1.8 2.9l2 7.2l1.8 4.2l2 9.4l1.9 5.2l1.8 .4l1.9 2.6l1.8 1.9l1.9 5.3l1.8 .2l-1.8-2l-1.9-1.6M431.5 162.9l4.2-.1l4.4 2.1l4.3 .2l4.4 3.9l4.4-1.2l1.9 4.2l1.9 6.9l1.9 7.3l1.9 5.7l1.9 4.9l1.9 6.1l1.9 3.6l1.8 .6l1.8-.9l1.8 2.3l-1.9 1.3l-2-4.5M433 159.3l4.8 2.5l4.9 2.1l4.9-.1l5 1.8l5 2.5l1.9 8.1l2.1 13.7l1.8 3.1l1.9 9.2l1.8-1.1l1.9 3.7l1.8 4.8l1.8-1.5l1.8 .7l1.9 5l-2.1-5.3l-2.1-1.4M436.9 158l4.9 .9l5 2.7l4.9 1.2l5.1 2.1l5.1 1.6l2.1 16l2 16.5l1.8 2.3l1.9 4l1.8 4.6l1.8-.9l1.8 1.7l1.8-2.8l1.8 4l1.8 .8l-2.2-.7l-2.2-1.9M440.8 157l5 3l5 1.3l5.1 .9l5.1 1.1l5.2 1.7l2 16.1l2 13.3l1.9 10.1l1.8-1.1l1.8 4.4l1.8-0l1.9 3.2l1.7-.9l1.8-.7l1.8 .4l-1.6 1.4l-1.7-4.1M444.6 155.1l5.1 1.3l5.1 3l5.1 2.1l5.2-.9l5.3 2.9l2 12.7l2 16.6l1.9 9.6l1.7-1.3l1.9 2.7l1.7-.7l1.8 1.4l1.9 5l1.8-1l1.8 1.7l-.7-3l-.6 1.2M448.5 154.7l5.1 2.9l5.1-1.9l5.3 3.1l5.3 4.3l5.3 .9l2 12.4l2 17.8l1.8 4.8l1.8-.3l1.8 4.8l1.8 .9l1.8-1.2l1.8 1l1.8 4.3l1.9 1l.3-0l.4-1M452.7 153.1l5.1-.2l5.2 2.5l5.2 1.5l5.3 1.6l5.3 3.9l2 13.4l1.9 13.1l1.9 9.9l1.8-0l1.7 1.3l1.8 .4l1.8-1.5l1.9 6.6l1.8 .2l1.8 .3l.8-.7l.8 1.6M456.8 152.4l5.1 1.9l5.2 .1l5.2 2.6l5.3 .7l5.3 1.8l1.9 13.1l2 17.2l1.8 3.7l1.8 5l1.8-.8l1.8 2.4l1.8-1.3l1.8 5.2l1.8-3.3l1.8 3.9l.5-.3l.6 1.3M460.9 150.6l5.1-0l5.1 .2l5.3 3l5.3 3.6l5.3-.2l1.9 16.6l1.9 9.7l1.9 11.2l1.8 1.7l1.7 1.5l1.8 .9l1.8 1.1l1.8-.4l1.8 .8l1.8 1.9l.3-.4l.3 2M464.9 148.9l5.1 .8l5.2 2.2l5.2-.5l5.3 3.5l5.3 .8l1.9 17.7l1.9 11.5l1.8 8l1.8-.3l1.8 1.1l1.8 3.7l1.7-2.3l1.9 4.2l1.7-2.9l1.9 3.2l-0 .8l0 1.7M469.2 146.7l5.1 .7l5.1 3.5l5.2 1.7l5.1-.8l5.3 2.8l1.9 15.5l1.9 12.8l1.8 5.3l1.7 1.1l1.8 2.8l1.8 2.8l1.8 2.1l1.8 .1l1.8 1.5l1.8-.7l-.3 2.3l-.3-3M473.5 145l5 1.8l5.1 2.5l5.1-.3l5.1 4.5l5.2-.8l1.9 16.8l1.8 12.8l1.8 6l1.8 1.1l1.8 4.1l1.8 .3l1.7-1l1.8 3.4l1.8 1l1.9 2.6l-.7-2.8l-.7 .8M477.7 146.1l4.9 .6l5-.8l5.1 5.3l5-1.5l5.2 3.7l1.8 11.8l1.8 15.3l1.8 3.9l1.8 6.3l1.8 .3l1.8 2.4l1.7-.2l1.8 3.4l1.8-1.7l1.8 2.3l-1-1.8l-1 .4M482.4 144.3l4.8-.1l4.8 1l4.9 3.3l5 .3l4.9 1.4l1.9 14.3l1.8 14.8l1.8 8.4l1.7 1.3l1.8-1.1l1.8 3.9l1.8-2.2l1.8 4.4l1.7 2.4l1.8-.7l-1.3-2.5l-1.3 .7M487.1 143.2l4.6 1.9l4.7 .4l4.7 .6l4.8-.1l4.8 2.3l1.8 15.8l1.8 12.5l1.8 9.5l1.7 2.3l1.8 1.5l1.8-1.6l1.7 4.9l1.8-3.9l1.8 2.4l1.8 1.7l-1-.8l-.9-1.9M491.8 140.6l4.5 1.8l4.5 1.2l4.5 3.2l4.6 .2l4.6 .1l1.8 14.1l1.8 15.5l1.8 6.7l1.7 2.9l1.8 .6l1.8-1.1l1.7 7.5l1.8-4l1.8 1.5l1.8 1.5l-.6-2.8l-.7 .1M496.4 141.7l4.3 .7l4.3 .5l4.4-.6l4.4 3.6l4.4 .1l1.8 14.1l1.8 15l1.7 10.7l1.8-1.7l1.7 4.6l1.8-5l1.8 5.2l1.8-1.8l1.7 .4l1.8 2.5l-.3 .9l-.2-1.4M501.2 140.5l4.1 2.4l4.1-.5l4.2-.2l4.2 3.5l4.2-2l1.7 16.3l1.8 12l1.7 10.6l1.8-1.6l1.7 7.1l1.8-2.3l1.8-.4l1.8-1.1l1.7 1l1.8 5.3l.1-1.5l0-.3M506.1 140.2l3.9-.4l3.9 1.1l3.9 .1l4 3.5l4-2l1.7 17.9l1.8 11.4l1.7 6.6l1.7 3.9l1.8-1.4l1.8 1.9l1.7 2.2l1.8 .6l1.8 2.8l1.8 .1l.4-1.2l.4 .3M510.8 138.3l3.7-.1l3.7 2.6l3.7-.7l3.7 .7l3.8 2.4l1.7 13.1l1.7 16.3l1.8 4l1.7 1l1.8 4.7l1.7 .1l1.8-0l1.7 3.3l1.8 3.1l1.8-3l.8 1.7l.8-2M515.6 136.2l3.5 2.4l3.4 1.8l3.6-1.9l3.5 1.3l3.5 4.5l1.7 11.7l1.7 11l1.7 12.5l1.8-2.3l1.7 3.1l1.8-1.2l1.8 1.1l1.7 1.5l1.8-.4l1.8 4.1l1.1-2.7l1.2 1.3M520.3 136.2l3.3-1.2l3.2 2.2l3.3 2.5l3.3-.8l3.3 .2l1.7 16.3l1.7 15l1.7 7.4l1.7 .5l1.8 .8l1.8-.4l1.7 0l1.8 1l1.7 2l1.8-1.1l1.5 3.2l1.5 1.7M524.6 136.5l3.1-1.2l3.2 1l3.1-.2l3.2 1.3l3.2 .5l1.6 13.5l1.7 16.5l1.7 4.4l1.7 4.3l1.8-.8l1.7-0l1.7 5.3l1.9-3.3l1.7 2.3l1.8 1.6l1.8 .6l1.9-.8M527.4 133.8l3.3 .4l3.2 1.8l3.3 .7l3.4 .9l3.3-.5l1.7 11.6l1.6 16.2l1.7 4.6l1.7 3.6l1.7 5l1.8-3l1.8 .2l1.7 3l1.8 .3l1.8 1.1l2.1 .3l2.2 .5M530.1 130.8l3.4 3.4l3.4-.7l3.5 2.9l3.5-1.2l3.5 2.7l1.6 15.2l1.7 8.5l1.6 11.4l1.8-2.3l1.7 1.2l1.7 2.6l1.8 2.2l1.7 .3l1.8-.5l1.8 1.6l2.4 2.9l2.5-.1M532.9 130.8l3.6 .3l3.5 1.2l3.7-0l3.6-.6l3.6 4.1l1.7 11.6l1.6 13.8l1.6 7.3l1.7 3.7l1.8-1l1.7 1.8l1.8 3.6l1.7 1.4l1.8-3.3l1.8 1l2.7 4.7l2.8-.9M535.6 129.2l3.7 1.8l3.7 .6l3.8 .5l3.8 1.4l3.8 1.3l1.6 15.3l1.6 9l1.6 9.4l1.8-2.4l1.7 3.1l1.7 2.5l1.8 .5l1.8-.1l1.7 1.5l1.7 3.4l3.1 1.6l3.2-.9M538.3 128.9l3.9-.7l3.8 .7l3.9 2l4-.6l3.9 4.6l1.6 14.3l1.6 13l1.7 3l1.7 2.1l1.7 1.7l1.8 .9l1.7 2.4l1.7 .9l1.8 1l1.8-.8l3 3.7l3.1-.3M541.6 126.7l3.9 2.2l3.8 1l4-.8l3.9 2.2l4 .2l1.5 17.2l1.6 13.3l1.7 4.5l1.7 .7l1.8-2.1l1.7 4.4l1.7 1.7l1.7 1.9l1.8-2.3l1.8 1.4l3 1.7l3.1 1.7M545.5 127.1l3.8-0l3.8 .8l3.8 .1l3.9 2.7l3.8 .8l1.6 16l1.6 8.8l1.6 10.3l1.7-.4l1.8-.8l1.7 1.8l1.7 2.5l1.7-.5l1.8-.9l1.8 .8l3 3.1l3.1 4.2M549.3 124.4l3.7 1.6l3.7 .7l3.7 1l3.8 1.3l3.8-1.5l1.7 6.2l1.7 .8l1.7-.5l1.7 3.4l1.8 1.1l1.7 1.2l1.8-1.3l1.7 4.3l1.8-2.5l1.8-1.7l3.2-.1l3.1 1.4M553 125.9l3.6-1.4l3.6 1.7l3.7-1.3l3.7 2.5l3.7-.7l1.6 7.1l1.7 1.1l1.8-1.3l1.7 2.1l1.7 .8l1.8 0l1.7 1.3l1.8-1.3l1.8 1.5l1.7 2.3l3.3-5.6l3 5.7M556.8 122.8l3.5 1.5l3.5 2.6l3.6 .5l3.6-1.6l3.6 1.1l1.6 8.3l1.8-3l1.6 3.5l1.8-2.1l1.7 3.9l1.8-1.3l1.8-3.1l1.7 4.2l1.8-4.1l1.7 6.1l3.1 .6l3.1 .1M560.5 122.6l3.4 1l3.5 .2l3.5-1.1l3.4 1.5l3.5 1.8l1.7 5.1l1.7 2.5l1.7-.3l1.8-.7l1.7 .6l1.7 1l1.8 .3l1.7 2.4l1.8-.3l1.7 1.7l3.2-1.8l3.1 2.5M564.1 122.3l3.4-.7l3.4-1l3.4 2l3.4 3.1l3.4-1l1.7 4.3l1.7 3l1.7 1.6l1.7 .8l1.7-.5l1.8 .6l1.8-2l1.7 .5l1.8 .7l1.6 5.2l3.3-4.2l3.1 1.3"/><path class="wf2" d="M460.8 41L463 40.5L465.2 40L467.3 39.5L469.4 39L471.5 38.5L473.6 38.1L475.9 37.6L479.2 37.3L482.5 37L485.7 36.8L489 36.5L492.2 36.2L495.5 35.9L497.4 35.5L499.3 35L501.2 34.5L503 34L504.9 33.6L506.7 33.1L508.5 32.6L510.2 32.1L511.9 31.7L513.6 31.2L515.3 30.7L516.9 30.2L518.6 29.8L520.3 29.3L522.1 28.9L524.4 28.5L526.8 28.2L529.1 27.8L531.4 27.4L533.8 27.1L536.1 26.7L538.4 26.4L540.7 26.1L543 25.7L545.3 25.4L547.6 25L549.8 24.7L552.1 24.4L554.4 24L556.6 23.7L558.9 23.4L561.1 23L563.3 22.7L565.5 22.4L567.6 22L569.8 21.7L571.9 21.4L574 21L576.2 20.7L578.3 20.4L580.4 20.1L582.2 19.7L583.9 19.3L585.7 19L587.4 18.6L589.1 18.2L590.9 17.9L592.6 17.5L594.3 17.2L596 16.8L597.7 16.5L599.4 16.1L601.1 15.8L602.7 15.4L604.4 15.1L606.1 14.7L607.7 14.4L609.4 14L605.3 136.9L603.3 138.3L603.2 137.4L600.7 135.4L598.3 137.6L598.8 135.7L596.5 137.2L595.7 139.2L591.6 140.3L592.7 141.6L587.6 171.7L588.2 173.1L586.6 173.5L584.8 175.7L582.9 176.5L579.1 177.2L580.9 178.3L577.4 178.3L574.4 177.1L573.2 178.4L570.4 179.7L568.5 179.5L565.7 181.3L563.9 179.7L562.3 183.7L560.2 182.3L558 182.9L556.7 184.1L553.6 183.5L552 184.1L551.1 183.9L547.2 187.7L547.3 185.7L543.8 187L538.9 188.9L541.2 188.5L535.5 186.8L534.2 188.7L532.3 190.5L531.8 189.8L527.8 193.6L526 193.3L520.6 192.8L520 193.3L520.3 194.2L518.2 193.7L518.2 194.2L513.2 196.8L511 201.3L511.9 198.9L508.5 200.4L508.7 201.5L507.6 201.9L505.2 202.1L500.6 205L503 203.6L499.2 205.6L499.5 206L496.9 205.9L495 204.5L488.1 209.6L486 209.4L485.9 208.1L480.7 209.6L475.5 209.2L473.3 211.8L473.8 207.1L471.1 207.8L469.1 208.2L468.2 205.2L467.3 205.2L461.9 207.2Z"/><path class="wl0" d="M475.9 37.6l-.4 171.6M479.2 37.3l1.5 172.2M482.5 37l3.5 171M503 34l-2.4 171M504.9 33.6l.4 168.6M513.6 31.2l-2.6 170.1M522.1 28.9l-2.1 164.5M533.8 27.1l-1.4 163.5M538.4 26.4l-2.9 160.4M547.6 25l-.3 160.7M549.8 24.7l-2.6 163M558.9 23.4l-2.1 160.7M563.3 22.7l-3 159.6M578.3 20.4l-3.9 156.7M592.6 17.5l-5 154.2M602.7 15.4l-4.4 122.2M607.7 14.4l-4.4 123.9"/><path class="wl1" d="M463 40.5l4.3 164.7M471.5 38.5l2.3 168.5M501.2 34.5l1.9 169.1M506.7 33.1l.9 168.8M510.2 32.1l-1.8 168.2M511.9 31.7l-.1 167.3M518.6 29.8l-.4 164M526.8 28.2l-.8 165.1M540.7 26.1l.5 162.5M543 25.7l-4 163.2M554.4 24l-2.4 160.1M565.5 22.4l-3.1 161.3M571.9 21.4l-3.5 158.1M574 21l-3.6 158.7M585.7 19l-2.8 157.6M587.4 18.6l-2.6 157M589.1 18.2l-2.5 155.2M590.9 17.9l-2.7 155.2M596 16.8l-4.4 123.5M597.7 16.5l-2 122.8M601.1 15.8l-2.2 119.9"/><path class="wl2" d="M465.2 40l3 165.2M469.4 39l1.7 168.7M473.6 38.1l-.3 173.8M485.7 36.8l.2 172.6M489 36.5l-.9 173.1M492.2 36.2l2.8 168.2M495.5 35.9l1.4 169.9M497.4 35.5l2.1 170.5M508.5 32.6l.2 168.9M515.3 30.7l-2.1 166.1M516.9 30.2l1.2 164M520.3 29.3l0 164.9M529.1 27.8l-1.3 165.8M531.4 27.4l.4 162.4M536.1 26.7l-1.9 161.9M552.1 24.4l-1 159.6M556.6 23.7l-3 159.8M561.1 23l-3 159.8M567.6 22l-3.7 157.7M580.4 20.1l-2.9 158.2M582.2 19.7l-1.2 158.6M594.3 17.2l-1.6 124.5M599.4 16.1l-2.8 121.1M604.4 15.1l-3.7 120.4M609.4 14l-4 122.8"/><path class="wl3" d="M460.8 41l1 166.3M467.3 39.5l1.9 168.7M499.3 35l-.1 170.6M524.4 28.5l-3.8 164.3M545.3 25.4l-1.5 161.6M569.8 21.7l-4.1 159.6M576.2 20.7l-2.9 157.7M583.9 19.3l-4.8 157.9M606.1 14.7l-2.9 122.7"/><path class="vb" d="M461.9 207.2l5.5-2.1l.8 0l1 3l2-.4l2.6-.7l-.4 4.8l2.2-2.6l5.1 .3l5.3-1.5l-0 1.3l2.1 .3l6.9-5.2l2 1.4l2.6 .1l-.4-.4l3.9-1.9l-2.5 1.4l4.6-2.9l2.4-.3l1.1-.4l-.2-1.1l3.4-1.4l-.9 2.4l2.2-4.6l5-2.5l0-.5l2.1 .5l-.3-.9l.7-.5l5.3 .4l1.9 .4l4-3.8l.5 .7l1.8-1.9l1.3-1.8l5.7 1.7l-2.2 .4l4.8-2l3.5-1.2l-0 2l3.9-3.8l.8 .2l1.7-.7l3.1 .6l1.3-1.2l2.2-.5l2.1 1.4l1.5-4.1l1.8 1.7l2.8-1.8l1.9 .2l2.8-1.3l1.3-1.3l3 1.1l3.5 0l-1.8-1l3.7-.7l2-.9l1.8-2.2l1.5-.3l-.6-1.4l5.2-30.1l-1.2-1.3l4.1-1.1l.9-2l2.3-1.6l-.5 2l2.4-2.2l2.4 2l.2 .8l2-1.4"/><path class="w0f" d="M427.1 35.4L427.6 35.5L429.4 35.8L431.2 36.1L433 36.4L434.8 36.7L436.6 37L438.4 37.3L440.2 37.6L442.1 37.9L443.9 38.2L445.8 38.5L447.6 38.8L449.5 39.1L451.4 39.4L453.2 39.7L455.1 40L457 40.3L458.9 40.6L460.8 41L460.8 41L467 206.3L467 207L465.1 203.8L463.2 200.2L461.4 197.3L459.5 190.7L457.6 185.7L455.7 179.2L453.8 173.7L451.9 170.2L450.1 168.8L448.4 169.3L446.6 167.3L444.8 167.8L443.1 167L441.3 166.2L439.6 166.5L437.8 165.1L436.1 165.4L434.4 164.1L433.9 164.1Z"/><path class="w0a" d="M427.1 35.4l6.8 128.7M429.4 35.8l6.8 129.6M433 36.4l6.6 130.1M436.6 37l6.5 130M440.2 37.6l6.3 129.7M443.9 38.2l6.2 130.6M447.6 38.8l6.2 134.9M451.4 39.4l6.2 146.3M455.1 40l6.3 157.3M458.9 40.6l6.2 163.2M460.8 41l6.1 165.4"/><path class="w0b" d="M427.6 35.5l6.8 128.6M431.2 36.1l6.7 129M434.8 36.7l6.5 129.5M438.4 37.3l6.4 130.5M442.1 37.9l6.3 131.4M445.8 38.5l6.2 131.7M449.5 39.1l6.2 140.1M453.2 39.7l6.2 151M457 40.3l6.2 159.9M460.8 41l6.2 166.1"/><path class="vl" d="M433.9 164.1l.4-0l1.8 1.3l1.7-.3l1.7 1.4l1.8-.3l1.7 .8l1.8 .8l1.7-.5l1.8 2l1.8-.5l1.8 1.4l1.8 3.5l1.9 5.5l2 6.5l1.8 5l2 6.6l1.8 2.9l1.9 3.6l1.8 3.3l0-.8"/><path class="pl" d="M460.8 41L463 40.5L465.2 40L467.3 39.5L469.4 39L471.5 38.5L473.6 38.1L475.9 37.6L479.2 37.3L482.5 37L485.7 36.8L489 36.5L492.2 36.2L495.5 35.9L497.4 35.5L499.3 35L501.2 34.5L503 34L504.9 33.6L506.7 33.1L508.5 32.6L510.2 32.1L511.9 31.7L513.6 31.2L515.3 30.7L516.9 30.2L518.6 29.8L520.3 29.3L522.1 28.9L524.4 28.5L526.8 28.2L529.1 27.8L531.4 27.4L533.8 27.1L536.1 26.7L538.4 26.4L540.7 26.1L543 25.7L545.3 25.4L547.6 25L549.8 24.7L552.1 24.4L554.4 24L556.6 23.7L558.9 23.4L561.1 23L563.3 22.7L565.5 22.4L567.6 22L569.8 21.7L571.9 21.4L574 21L576.2 20.7L578.3 20.4L580.4 20.1L582.2 19.7L583.9 19.3L585.7 19L587.4 18.6L589.1 18.2L590.9 17.9L592.6 17.5L594.3 17.2L596 16.8L597.7 16.5L599.4 16.1L601.1 15.8L602.7 15.4L604.4 15.1L606.1 14.7L607.7 14.4L609.4 14L670.8 21.5L536.5 53.4Z"/><path class="axis" d="M370.4 26.1L379.5 226.8L535.5 284.6L662.1 218.9M379.5 226.8L376.3 228M378.3 201.4L375.1 202.5M377.2 175.5L373.9 176.5M376 149.2L372.7 150.2M374.8 122.5L371.4 123.4M373.5 95.3L370.2 96.1M372.3 67.6L368.9 68.4M371 39.5L367.6 40.2M378.9 214.1L377.1 214.8M377.8 188.5L376 189.1M376.6 162.4L374.8 163M375.4 135.9L373.5 136.4M374.2 108.9L372.3 109.4M372.9 81.5L371 81.9M371.6 53.6L369.8 54M393.1 231.9L391 232.7M408.9 237.7L406.8 238.6M425.2 243.7L423.1 244.6M442.1 250L439.9 250.9M459.5 256.4L457.4 257.4M477.5 263.1L475.4 264.1M496.1 270L494 271M515.5 277.1L513.4 278.2M535.5 284.6L533.4 285.6M385.4 229L384.2 229.5M400.9 234.8L399.8 235.2M417 240.7L415.8 241.2M433.6 246.8L432.4 247.3M450.7 253.2L449.5 253.7M468.4 259.7L467.2 260.3M486.7 266.5L485.6 267.1M505.7 273.5L504.6 274.1M525.4 280.8L524.2 281.4M564.9 269.3L567.4 270.2M591.7 255.4L594.2 256.2M616.7 242.4L619.1 243.2M640.1 230.3L642.5 231M662.1 218.9L664.5 219.6M550.8 276.6L552.2 277.1M578.5 262.2L579.9 262.7M604.4 248.8L605.7 249.3M628.6 236.3L629.9 236.7M651.3 224.5L652.6 224.9"/><text class="tl" text-anchor="end" transform="matrix(0.891 -0.336 0.049 1.051 376.43 227.98)" y="2.6">0.000</text><text class="tl" text-anchor="end" transform="matrix(0.899 -0.315 0.049 1.068 375.25 202.45)" y="2.6">0.002</text><text class="tl" text-anchor="end" transform="matrix(0.908 -0.294 0.050 1.086 374.05 176.50)" y="2.6">0.004</text><text class="tl" text-anchor="end" transform="matrix(0.917 -0.271 0.051 1.104 372.83 150.12)" y="2.6">0.006</text><text class="tl" text-anchor="end" transform="matrix(0.925 -0.248 0.052 1.122 371.59 123.31)" y="2.6">0.008</text><text class="tl" text-anchor="end" transform="matrix(0.934 -0.225 0.053 1.141 370.32 96.04)" y="2.6">0.010</text><text class="tl" text-anchor="end" transform="matrix(0.943 -0.200 0.054 1.160 369.04 68.32)" y="2.6">0.012</text><text class="tl" text-anchor="end" transform="matrix(0.953 -0.175 0.055 1.180 367.73 40.12)" y="2.6">0.014</text><text class="tl" text-anchor="end" transform="matrix(1.104 -0.428 0.699 0.260 390.97 232.69)" y="3.5">20</text><text class="tl" text-anchor="end" transform="matrix(1.104 -0.441 0.722 0.268 406.76 238.56)" y="3.5">40</text><text class="tl" text-anchor="end" transform="matrix(1.102 -0.456 0.746 0.277 423.07 244.63)" y="3.5">60</text><text class="tl" text-anchor="end" transform="matrix(1.101 -0.471 0.771 0.287 439.92 250.89)" y="3.5">80</text><text class="tl" text-anchor="end" transform="matrix(1.098 -0.487 0.797 0.296 457.35 257.37)" y="3.5">100</text><text class="tl" text-anchor="end" transform="matrix(1.094 -0.503 0.825 0.307 475.38 264.07)" y="3.5">120</text><text class="tl" text-anchor="end" transform="matrix(1.090 -0.521 0.854 0.318 494.03 271.01)" y="3.5">140</text><text class="tl" text-anchor="end" transform="matrix(1.085 -0.540 0.885 0.329 513.36 278.19)" y="3.5">160</text><text class="tl" text-anchor="end" transform="matrix(1.078 -0.559 0.918 0.341 533.39 285.64)" y="3.5">180</text><text class="tl" text-anchor="start" transform="matrix(1.017 0.353 -0.967 0.507 569.97 271.05)" y="3.5">10</text><text class="tl" text-anchor="start" transform="matrix(1.005 0.329 -0.903 0.473 596.67 257.05)" y="3.5">20</text><text class="tl" text-anchor="start" transform="matrix(0.992 0.308 -0.844 0.443 621.62 243.97)" y="3.5">30</text><text class="tl" text-anchor="start" transform="matrix(0.979 0.288 -0.792 0.415 644.98 231.73)" y="3.5">40</text><text class="tl" text-anchor="start" transform="matrix(0.966 0.271 -0.744 0.390 666.90 220.24)" y="3.5">50</text><path class="grid" d="M43.6 822.8L175.4 776.5M175.4 776.5L322.9 814.9M42.4 797.4L175.3 754.5M175.3 754.5L323.9 790.1M41.2 771.7L175.2 732.2M175.2 732.2L324.9 764.9M40.1 745.5L175.1 709.6M175.1 709.6L325.9 739.4M38.8 718.9L174.9 686.7M174.9 686.7L327 713.5M37.6 691.9L174.8 663.4M174.8 663.4L328 687.2M36.4 664.5L174.7 639.9M174.7 639.9L329.1 660.4M73.2 837L66.2 645.3M73.2 837L225.5 890.3M101.2 826.3L96 640.4M101.2 826.3L252.2 876.1M127.5 816.4L123.9 635.9M127.5 816.4L277.1 863M152.2 807L150 631.6M152.2 807L300.3 850.7M199.6 804.9L199.9 630.7M69.4 856.9L199.6 804.9M227.8 812.9L229.7 634.3M98.6 867.8L227.8 812.9M257.5 821.2L261.1 638.2M129.7 879.4L257.5 821.2M288.9 830L294.4 642.2M162.8 891.7L288.9 830"/><path class="edge" d="M35.7 650.2L174.6 627.7L329.6 646.5M175.5 798.2L174.6 627.7M322 839.3L329.6 646.5M44.7 847.7L175.5 798.2L322 839.3"/><path class="pf" d="M37.3 650.3L39.7 650.7L42.1 651.1L44.4 651.5L46.8 651.9L49.2 652.3L51.7 652.7L54.1 653L56.5 653.4L59 653.8L61.4 654.3L63.9 654.7L66.4 655.1L68.9 655.5L71.4 655.9L74 656.3L76.5 656.7L79.1 657.1L81.6 657.6L84.2 658L86.8 658.4L89.4 658.8L92.1 659.3L94.7 659.7L97.4 660.1L100 660.6L102.7 661L105.4 661.4L108.1 661.9L110.9 662.3L113.6 662.8L116.4 663.2L119.1 663.7L121.9 664.1L124.7 664.6L127.5 665.1L130.4 665.5L133.2 666L136.1 666.5L139 666.9L141.9 667.4L144.8 667.9L147.7 668.4L150.7 668.8L153.6 669.3L156.6 669.8L159.6 670.3L162.6 670.8L165.6 671.3L168.7 671.8L171.8 672.3L174.9 672.8L178 673.3L181.1 673.8L184.2 674.3L187.4 674.9L190.5 675.4L193.7 675.9L197 676.4L200.2 676.9L241.9 667.2L238.1 666.9L234.2 666.6L230.4 666.3L226.5 666L222.7 665.7L218.9 665.4L215.1 665.1L211.3 664.8L207.6 664.5L203.8 664.2L200.1 663.9L196.3 663.6L192.6 663.3L188.9 663L185.2 662.7L181.6 662.4L177.9 662.1L174.3 661.8L170.6 661.5L167 661.2L163.4 661L159.8 660.7L156.2 660.4L152.6 660.1L149.1 659.8L145.5 659.5L142 659.2L138.5 659L135 658.7L131.5 658.4L128 658.1L124.5 657.8L121 657.6L117.6 657.3L114.1 657L110.7 656.7L107.3 656.5L103.9 656.2L100.5 655.9L97.1 655.7L93.8 655.4L90.4 655.1L87.1 654.9L83.7 654.6L80.4 654.3L77.1 654.1L73.8 653.8L70.5 653.5L67.2 653.3L64 653L60.7 652.7L57.4 652.5L54.2 652.2L51 652L47.8 651.7L44.6 651.4L42.1 651.1L39.7 650.7L37.3 650.3Z"/><path class="ml" d="M37.3 650.3l162.9 26.6M41.5 698.6l.7-21.4l1.3-8.2l1.5-5.6l1.5-4.2l1.6-3.2l1.6-2.3l1.6-1.5l1.8 0l149 24.3M44.4 721.2l.5-26.9l1.2-10.6l1.4-7.4l1.4-5.7l1.5-4.6l1.6-3.8l1.6-3.1l1.6-2.5l1.6-2l1.7-1.5l1.7-.3l143.8 23.3M47.1 740.4l.4-29.7l1.1-12.1l1.3-8.7l1.4-6.9l1.5-5.6l1.5-4.8l1.5-4.1l3.2-6.5l1.7-2.6l1.6-2.2l1.7-1.8l1.7-1.4l1.7-.7l138.4 22.3M51.7 758.1l.8-18.7l1.1-13.3l1.3-9.9l1.3-8.2l1.4-6.9l3-11.4l1.5-4.7l3.2-8.1l1.6-3.5l3.2-6l3.4-4.8l3.4-3.9l3.5-2.8l1.8-.9l1.8-.3l125.6 20.1M54.3 777.6l.5-26.5l1.1-13l1.3-10.1l1.3-8.4l1.4-7.2l2.9-12l1.5-5.1l3.1-8.9l3.2-7.5l3.3-6.2l3.4-5.3l3.4-4.4l3.5-3.6l3.5-2.7l1.8-.9l1.8-.6l120.1 19.2M56.5 784.7l.7-23.6l1.1-12.4l1.3-9.8l2.7-15.7l1.4-6.6l3-11.2l1.5-4.9l3.1-8.7l3.2-7.5l3.3-6.4l3.4-5.6l3.4-4.7l1.7-2.1l3.5-3.7l3.6-3l3.6-2.1l1.9-.7l1.8 .1l112.6 17.9M58.5 789.9l.8-20.4l1.2-11.5l1.2-9.5l1.4-8.2l2.8-13.8l1.5-6l3-10.6l3.1-9l3.2-8l3.2-6.9l3.4-6.1l3.4-5.3l3.4-4.7l5.3-5.8l3.6-3.2l3.6-2.5l1.9-.9l1.8-.7l1.9-.3l106.9 17M62.4 796.8l1.1-14.2l1.2-9.5l2.7-15.7l2.8-13.1l3-11.3l3-10l3.2-8.9l3.2-7.9l3.2-7.2l3.4-6.4l5.1-8.5l3.4-5l5.3-6.6l5.5-5.5l3.6-3.1l3.8-2.6l3.7-2l3.8-1.3l2 0l93.3 14.7M64.3 798.9l1.2-11.6l1.3-8.4l1.3-7.5l2.8-13.4l2.9-11.7l3-10.4l3.1-9.4l3.2-8.4l3.2-7.7l3.3-7l3.3-6.4l5.2-8.5l3.4-5.1l5.4-6.7l5.4-5.8l5.5-4.9l3.8-2.7l3.8-2.3l3.8-1.7l1.9-.6l2-.2l87.4 13.7M66.2 800.6l1.3-9.3l1.3-7.3l2.8-13.2l2.9-11.7l2.9-10.7l3.1-9.6l3.1-8.8l4.8-11.9l3.3-7.1l5-9.6l3.4-5.7l5.3-7.8l3.5-4.7l5.4-6.3l3.7-3.8l5.6-4.9l5.7-4l3.8-2.2l3.9-1.8l1.9-.6l2-.4l81.4 12.6M68 801.8l1.3-7.4l2.8-12.3l2.9-11.4l2.9-10.6l3.1-9.7l3.1-9l3.1-8.3l4.9-11.3l3.3-6.9l5-9.4l3.5-5.7l5.2-7.8l3.6-4.7l5.4-6.4l3.7-3.9l5.6-5.1l5.7-4.5l5.7-3.6l5.9-2.8l4-1.1l2 .1l73.4 11.3M71.7 803.6l8.8-27.7l6.1-17.5l6.3-15.8l3.3-7.2l4.9-10.1l3.4-6.2l5.2-8.6l3.5-5.3l5.3-7.4l3.6-4.6l5.5-6.3l5.6-5.7l5.7-5.1l7.7-5.8l3.9-2.6l4-2.2l6-2.7l4.1-1.2l2.1-.4l61 9.3M73.4 804.3l3-7.2l9-25.1l6.2-15.9l6.4-14.5l3.3-6.7l5.1-9.3l3.4-5.9l5.2-8.1l3.5-5.1l5.4-7.1l3.7-4.4l5.5-6.1l3.8-3.8l5.7-5.2l5.8-4.7l3.9-2.8l4-2.6l4-2.3l4-2l4.1-1.8l4.1-1.2l2.1-.5l2.1 .1l52.7 8M75.2 804.9l1.5-2.6l3-6.6l10.7-26.7l6.4-14.6l6.5-13.4l6.7-12.2l3.5-5.7l5.2-7.9l3.6-5l5.4-7l3.7-4.4l5.5-6.1l3.8-3.8l5.7-5.3l5.8-4.8l4-2.9l5.9-4l4.1-2.4l4-2.1l4.2-1.9l4.1-1.5l4.2-1.1l2.1-.2l46.3 7.1M77 805.4l1.5-1.9l3.1-5.6l13.9-31.4l6.5-13.5l4.9-9.4l6.8-11.7l3.5-5.5l5.2-7.8l3.6-4.9l5.4-6.8l3.7-4.4l5.6-6l3.8-3.8l5.7-5.4l5.9-4.9l5.9-4.4l6-4l4.1-2.4l6.2-3.3l4.1-1.8l4.2-1.6l4.3-1.1l2.1-.4l2.1 .2l37.8 5.8M80.5 806.2l1.6-1.1l1.5-1.7l3.1-4.5l3.1-5.5l12.7-24.5l6.5-12l8.5-14.1l6.9-10.4l7.2-9.7l9.1-11l7.5-8l9.6-9.1l9.8-8l6-4.4l6.2-4l6.2-3.6l6.3-3.3l6.4-2.8l4.3-1.6l4.3-1.3l4.4-.7l24.7 3.7M82.2 806.5l1.6-.8l1.5-1.3l1.6-1.8l3.1-4.4l4.7-8l11.2-20.2l6.6-11.4l8.5-13.4l7-10.1l7.2-9.3l7.3-8.7l7.5-8.1l9.5-9.1l5.9-5.1l6-4.7l6-4.4l6.1-4.1l6.3-3.7l6.3-3.4l6.4-3.1l4.3-1.9l6.6-2.3l4.4-1.2l2.2-.4l2.2 .2l15.9 2.3M84 806.8l1.6-.6l1.6-1.1l1.5-1.4l1.6-1.8l3.1-4.3l4.8-7.5l12.9-21.7l6.7-10.7l8.6-12.7l7.1-9.5l7.2-8.9l7.4-8.4l7.5-7.7l7.7-7.2l9.9-8.1l6-4.5l6.2-4.2l10.4-6.4l6.3-3.4l6.5-3.1l6.5-2.9l4.5-1.7l4.4-1.4l4.5-1.1l2.3-.1l9 1.4M85.7 807l1.6-.4l1.6-.9l1.5-1.2l1.6-1.5l3.2-3.8l6.3-9.1l13.1-20.5l6.7-10.2l8.7-12.2l7.1-9.1l7.2-8.7l5.6-6.1l7.5-7.7l7.7-7.2l7.9-6.7l10-7.5l10.3-6.9l10.5-6.1l6.5-3.3l6.5-3.1l11.1-4.6l4.5-1.6l4.6-1.2l2.2-.4l2.3 .3M89.1 807.5l1.6-.2l1.6-.5l1.6-.9l3.1-2.4l3.2-3.2l3.2-3.8l4.9-6.3l20-27.5l7-8.9l5.3-6.5l7.3-8.3l7.4-7.9l7.5-7.4l7.7-7l7.9-6.5l8-6.1l8.2-5.6l8.4-5.2l8.5-4.8l10.8-5.5l11.1-5.1l11.4-4.8M90.8 807.6l1.6-.1l1.6-.4l3.2-1.7l3.2-2.4l3.2-3.2l3.2-3.6l4.8-5.9l22-28.3l10.6-12.6l7.3-8l7.4-7.7l7.6-7.2l7.7-6.8l7.9-6.3l8.1-6l8.2-5.5l8.4-5.1l8.5-4.7l8.7-4.3l8.8-4.1l13.6-5.9M92.5 807.8l3.2-.4l3.2-1.3l3.2-2.2l4.8-4.3l3.2-3.5l4.9-5.6l22.1-26.9l12.5-14.1l7.3-7.6l7.5-7.3l7.7-6.9l7.8-6.5l7.9-6.1l6.1-4.3l8.2-5.3l8.4-5l8.6-4.5l8.7-4.3l8.9-3.9l11.3-4.7M94.1 807.3l6.4-.8l3.2-1.8l4.8-3.9l3.3-3.1l4.9-5.2l22.1-25.5l7-7.8l7.3-7.6l7.4-7.4l7.5-7l7.7-6.7l7.8-6.3l8-5.9l8.1-5.5l6.2-3.8l8.4-4.8l8.6-4.4l8.7-4l8.9-3.7l9.1-3.6M97.4 806.1l11.3-1.2l4.9-3.4l4.9-4.2l4.9-4.7l25.9-26.6l14.6-14.1l7.5-6.6l7.6-6.4l7.8-6l8-5.7l8.1-5.3l6.2-3.7l8.4-4.6l6.4-3.1l8.6-3.8l6.6-2.5l6.7-2.3l6.8-2.1M99.1 805.5l12.9-1.4l1.7-.6l3.2-2.3l5-4l4.9-4.5l27.8-27.1l14.7-13.3l7.6-6.4l7.7-6l7.9-5.8l8-5.3l8.2-5l6.2-3.4l6.4-3.2l6.4-3l6.5-2.6l6.5-2.4l6.7-2l6.7-1.7M100.8 808.2l1.5-3.4l14.6-1.5l3.3-2.3l5-3.8l5-4.3l26.1-24.2l14.7-12.9l7.6-6.1l7.7-5.9l7.8-5.6l8-5.2l8.2-4.8l6.2-3.4l6.3-3l6.4-2.8l6.5-2.5l6.5-2.2l6.7-1.7l6.7-1.4M102.5 808.2l4.8-.1l1.5-4.4l11.5-1.2l1.6-.6l6.6-4.8l5.1-4.1l28-24.6l14.9-12.3l7.6-5.8l7.8-5.6l7.9-5.2l6-3.7l8.2-4.6l6.3-3.1l6.3-2.9l6.4-2.5l6.5-2.2l6.5-1.8l6.7-1.4l4.5-.6M105.7 808.1l3.2 .1l3.2-.3l4.9-1.1l4.9-1.9l1.5-3.6l5-.6l1.7-.4l5-3.4l6.8-5.1l26.6-21l15-11.2l7.7-5.3l7.8-5.1l8-4.7l6-3.3l6.2-3.1l6.2-2.8l6.4-2.4l6.4-2.1l6.4-1.7l4.4-.9l6.6-.8l4.4-.1M107.3 808.1l3.2 .1l3.2-.2l3.3-.6l3.2-.9l3.3-1.2l4.9-2.3l1.6-2.8l3.4-.4l1.7-.7l10.2-7l26.7-20.1l15-10.6l7.7-5.1l7.8-4.8l8-4.5l6.1-3.1l6.2-2.8l6.3-2.6l6.3-2.2l6.4-1.8l6.5-1.3l4.4-.6l4.4-.3l4.4 .1M109 808l3.2 .1l3.2-.2l3.3-.4l3.2-.8l3.3-1.1l3.3-1.3l6.6-3.4l5.1-3l6.8-4.5l30.4-21.6l13.2-8.8l13.6-8.3l8-4.3l6.1-3l6.1-2.7l6.3-2.4l6.3-2.1l6.4-1.6l6.5-1.1l4.3-.4l4.4-.1l4.4 .2M110.6 808l3.2 .1l3.2-.1l3.3-.4l3.2-.7l6.6-2.2l6.6-3.1l6.8-3.7l6.8-4.3l30.5-20.5l13.3-8.5l13.7-7.8l8-4l6.1-2.8l6.1-2.5l6.3-2.1l6.3-1.8l4.3-.9l6.5-1l4.3-.2l4.4 0l4.4 .5M113.8 807.8l6.4 .1l6.5-.8l6.6-1.8l8.3-3.3l6.8-3.4l6.9-3.8l32.5-19.5l13.3-7.6l13.8-7l6-2.6l6.1-2.4l6.2-2.2l6.2-1.7l6.4-1.3l4.2-.6l4.3-.3l4.3-0l4.4 .4l4.3 .8M115.3 807.6l3.2 .2l4.8-.2l6.5-.9l6.6-1.8l8.4-3.2l6.8-3.2l6.9-3.7l30.7-17.5l13.4-7.3l13.7-6.6l6-2.5l6.1-2.3l6.2-2l6.2-1.6l6.4-1.2l4.2-.4l4.3-.2l4.3 .1l4.3 .5l4.4 1M116.9 807.5l3.2 .2l4.8-.1l6.5-.8l6.6-1.6l8.4-3l6.8-3l8.7-4.2l30.8-16.7l13.4-6.9l7.8-3.6l6-2.5l6-2.4l6.1-2l6.2-1.8l4.1-.9l6.4-1l4.2-.4l4.3-.1l4.3 .2l4.3 .7l4.3 1.1M118.5 807.3l3.2 .2l4.8-.1l6.5-.7l6.6-1.4l8.4-2.7l6.8-2.8l8.7-4l32.7-16.6l13.4-6.5l11.8-5l6-2.2l6.1-1.9l6.2-1.6l4.2-.9l6.2-.9l4.3-.3l4.2 .1l4.3 .3l4.3 .8l4.4 1.2M121.6 807l6.4 .3l8.1-.6l8.3-1.6l8.4-2.4l8.5-3.1l8.8-3.7l31-14.1l11.5-4.9l11.8-4.5l6-2l6.1-1.7l6.1-1.3l4.2-.7l6.2-.7l4.3-.1l4.2 .2l4.3 .6l4.2 .9l4.4 1.5M123.2 806.8l6.4 .3l8.1-.5l8.3-1.4l8.4-2.2l8.5-2.9l8.8-3.4l31-13.3l13.4-5.4l11.8-4.2l10.1-2.7l6.1-1.3l4.2-.6l6.2-.5l4.2-0l4.3 .2l4.2 .6l4.3 1.1l4.3 1.5M124.7 806.6l3.2 .2l4.8 .1l8.2-.6l8.2-1.4l8.5-2.2l8.6-2.8l8.7-3.2l31.1-12.6l11.6-4.4l11.8-3.8l10-2.6l6.2-1.2l4.1-.5l6.2-.4l4.2 0l4.2 .4l4.3 .7l4.3 1.1l4.2 1.6M126.3 806.4l8 .3l8.2-.5l8.2-1.3l8.5-2l8.6-2.6l8.7-3l31.1-11.8l13.5-4.7l11.8-3.6l10.1-2.2l6.1-.9l4.2-.4l4.1-.1l4.2 .1l4.2 .4l4.3 .8l4.2 1.1l4.3 1.7M129.3 805.9l8 .4l8.2-.4l8.2-1.1l8.5-1.7l8.5-2.1l8.8-2.6l31-10.4l11.5-3.6l9.8-2.7l10-2.2l6.1-1l6.1-.5l8.3-.1l8.4 .9l10.7-1.3M130.9 805.7l6.4 .4l8.1-.2l6.6-.6l8.4-1.3l8.5-1.9l10.4-2.8l40.4-12.5l17.6-4.6l12.1-1.8l10.2-.7l23.4-2.7M132.4 805.4l6.4 .4l8.1-.1l8.3-.8l10-1.6l8.6-1.9l10.5-2.7l40.7-11.8l9.8-2.3l9.9-1.9l2.1-2l2 1.5l2-2l2 1.6l2.1-2.1l2 1.9l2.1-2.3l25.4-2.9M133.9 805.2l8 .5l8.1-.2l8.3-.8l10.1-1.7l8.6-1.8l8.8-2.1l31.1-8.5l11.5-2.9l11.8-2.5l10-1.4l2.1-4.1l1.9 3.7l2.1-4.2l2 4.1l2.2-4.6l1.9 4.6l2.2-5l2 5.2l2.2-5.7l17-2M136.9 804.6l6.4 .5l6.5 0l8.2-.4l8.3-1l8.5-1.3l10.4-2l38.4-9l15.5-3.2l7.9-1.1l8-.8l8.2-.1l6.1 .4l2.4-10l1.8 10.6l2.4-11.1l1.8 12l2.4-12.5l1.8 13.7l2.5-14.2l4.3-.5M138.4 804.3l8 .6l8.1-.1l8.3-.6l10.1-1.3l17.4-3.1l40.5-8.8l9.7-1.7l7.9-1.1l8-.6l6.1-.1l6.2 .3l6.2 .8l2.4-13.1l1.7 14l2.5-14.5l1.7 15.8l2.6-16.3l1.6 17.9l2.7-18.4M139.9 804l6.4 .5l8.1 .1l8.2-.4l10.1-1.1l8.6-1.3l10.4-1.8l42.5-8.6l9.7-1.5l7.9-.8l10.1-.5l8.2 .4l4.1 .6l4.1 .7l6.3 1.8l2.6-18.2l1.6 19.8l2.7-20.3M141.3 803.7l6.4 .6l8.1 .1l8.2-.4l10.1-1l8.5-1.2l10.5-1.7l42.4-7.9l9.8-1.4l9.9-.9l10-.1l8.2 .7l4.2 .6l4.1 1l4.2 1.2l4.2 1.7l2.8-22.1M144.3 803.1l6.4 .6l8.1 .2l8.2-.3l8.4-.7l18.9-2.4l44.1-6.9l9.7-1.2l9.9-.6l10.1 0l6.1 .5l4.1 .6l4.1 .9l4.2 1.1l4.1 1.4l4.2 1.7M145.8 802.8l6.4 .6l6.4 .2l8.2-.2l10.1-.6l18.9-2.2l44.1-6.4l9.7-1.1l9.8-.5l10.1 .1l6.1 .6l4.1 .6l4.1 .8l4.1 1.1l4.2 1.4l4.2 1.8M147.2 802.5l6.4 .7l6.4 .2l8.2-.2l10.1-.6l18.9-2l44-5.9l9.7-.9l9.9-.5l10 .2l6.1 .6l4.1 .6l4.1 .9l4.1 1.1l4.2 1.4l4.2 1.7M148.7 802.1l6.4 .7l6.4 .2l8.2-.1l8.4-.4l18.8-1.8l45.8-5.6l9.6-.8l9.9-.4l10 .3l6.1 .6l4.1 .6l8.2 2l4.2 1.4l4.1 1.7M151.6 801.5l6.4 .7l6.4 .3l6.6 0l8.3-.3l18.7-1.5l45.5-4.6l11.6-.8l9.8-.2l10 .4l6.1 .7l4.1 .7l8.2 1.9l4.1 1.4l4.2 1.6M153 801.1l6.4 .7l6.4 .3l6.6 .1l8.3-.3l18.7-1.4l45.5-4.2l11.5-.6l9.8-.2l10 .5l6.1 .7l4.1 .7l8.2 1.9l8.3 2.9M154.4 800.8l6.4 .7l6.4 .4l6.6 0l8.2-.2l17.1-1.1l45.2-3.9l11.5-.6l9.8-.1l9.9 .4l10.1 1.2l6.1 1.2l4.2 1.1l8.3 2.8M155.9 800.4l4.8 .6l6.4 .5l6.5 .1l8.3-.1l16.9-1l47-3.6l11.5-.5l9.7-.1l9.9 .4l10.1 1.3l6.1 1.2l4.1 1l8.3 2.8M158.7 799.7l4.8 .6l6.4 .5l6.5 .2l8.2-.1l15.3-.7l46.7-2.9l13.3-.5l9.8 .1l9.9 .5l10 1.3l6.1 1.2l4.1 1.1l8.3 2.6M160.1 799.3l4.8 .7l6.4 .5l13.1 .1l15.1-.5l48.4-2.8l13.4-.3l9.7 .1l9.9 .6l10 1.3l6.1 1.2l4.1 1l8.3 2.6M161.5 798.9l4.8 .7l6.4 .5l13.1 .2l15.1-.5l46.5-2.4l13.3-.3l11.6 .1l9.9 .7l10 1.3l10.2 2.2l8.3 2.6M162.9 798.6l4.8 .7l6.4 .5l13.1 .3l13.4-.4l46.3-2.2l13.2-.2l11.6 .1l11.8 .7l10 1.4l10.2 2.1l8.3 2.5M165.7 797.8l4.8 .7l6.4 .6l13 .4l11.8-.3l47.9-1.8l13.2-.1l11.5 .2l11.8 .9l10 1.3l10.2 2.1l8.2 2.4M167.1 797.4l4.8 .7l6.4 .6l13 .4l11.7-.2l46.1-1.5l15-.1l11.6 .3l11.8 .8l10 1.4l10.1 2.1l8.2 2.3M168.5 797l4.8 .7l6.4 .6l13 .5l11.7-.2l46-1.3l15.1-.1l11.5 .4l11.8 .9l10 1.3l10.1 2.1l8.2 2.3M169.9 796.6l4.8 .7l6.4 .7l11.4 .4l11.6-0l47.7-1.3l15 .1l11.5 .4l11.8 .9l10 1.3l10.1 2.1l8.2 2.2M172.6 795.8l4.7 .7l6.4 .7l13.1 .6l11.7-.1l44.1-.8l14.9 .1l11.5 .4l11.7 .8l9.9 1.3l10.1 1.8l10.2 2.6M174 795.4l4.7 .8l6.4 .7l13.1 .6l11.7-.1l42.2-.7l14.8 .1l13.4 .5l11.7 .9l9.9 1.2l10 1.9l10.3 2.5M175.3 795l4.7 .8l6.4 .7l13.1 .6l11.6 0l42.2-.6l14.9 .2l13.3 .5l11.7 .9l9.9 1.3l10 1.8l10.3 2.4M39 650.6l3.1 26.6l5.4 33.5l5 28.6l2.3 11.8l2.3 10l2.2 8.5l2.1 7.1l2.1 5.8l2 4.9l1.9 3.9l1.9 3.2l1.9 2.6l1.9 2.1l1.8 1.7l3.6 2.5l3.5 1.7l5.2 1.6l6.9 1l8.2-2.9l1.7 3.4l6.5-.1l6.4-.4l7.8-.7l7.7-1.1l7.5-1.4l8.9-1.8l8.6-2l19.5-5.4M40.7 650.9l2.8 18.1l7.6 43.9l4.8 25.2l4.6 19.9l2.1 8.1l2.1 7l2.1 5.9l2 5l1.9 4.3l1.9 3.5l1.9 2.9l1.9 2.5l1.8 2l1.8 1.7l3.6 2.5l3.5 1.8l3.5 1.1l5.1 1.1l8.2-2.7l1.7 3.5l6.5-0l6.4-.4l7.8-.7l7.7-1.1l7.5-1.3l8.9-1.8l8.6-2l19.5-5.3M42.4 651.1l5 25.2l5 27l4.8 24.6l4.5 20.6l2.2 8.6l4.2 14.3l4 10.7l2 4.3l1.9 3.6l1.9 3.1l3.6 4.8l1.8 1.8l3.6 2.8l3.5 2l3.4 1.4l3.4 .9l1.7-.1l6.6-2.3l1.7 3.6l6.5 0l6.4-.2l7.8-.8l7.7-1l7.5-1.3l8.9-1.7l8.6-2l19.4-5.3M44.1 651.4l2.3 7.8l2.4 11.4l7.3 37.3l4.7 22.5l2.3 9.9l4.3 17l4.1 13.5l2 5.5l3.9 9l3.8 6.7l1.8 2.6l3.7 4.2l1.7 1.7l3.6 2.5l3.4 1.8l3.4 1.2l1.7 .5l8.2-2.8l1.8 4.1l8 .1l6.4-.4l6.2-.6l7.6-1.1l7.5-1.2l8.8-1.8l8.6-2l18-4.8M47.6 652l2 1.7l2.4 8.5l13.9 64.3l4.4 17.8l4.2 14.7l4 12l2 5l3.8 8.4l3.7 6.4l1.8 2.6l3.6 4.2l1.8 1.7l3.5 2.7l3.4 1.9l3.4 1.4l1.6-.2l4.9-1.7l1.7 3.7l4.9 .4l4.8 .1l6.3-.3l6.2-.6l7.6-1l7.5-1.3l15.9-3.3l18-4.7M49.3 652.3l2-0l2.2 6.8l2.3 9.5l9.3 42.1l4.5 19.1l4.2 16.6l4.2 13.8l3.9 11.3l2 4.7l3.8 8l3.6 6.3l1.9 2.5l3.5 4.2l1.8 1.6l3.4 2.7l3.5 2l3.3 1.4l4.9-1.7l1.7 3.4l4.9 .6l6.4 .1l6.3-.3l6.1-.5l13.6-2l15.9-3.3l17.9-4.7M51.1 652.6l2-.3l2.1 4.3l2.3 8.5l2.3 9.7l9.1 40.3l4.4 17.9l4.2 15.4l4 13l4 10.7l1.9 4.5l3.7 7.7l3.7 6l1.8 2.5l3.5 4l1.8 1.7l3.4 2.7l1.7 1l3.4 1.7l1.7 .3l4.8-1.7l1.8 3.8l4.8 .6l4.8 .2l6.3-.2l6.1-.5l13.5-1.9l15.9-3.2l18-4.6M52.8 652.8l2-.3l2 2l2.2 7.5l2.3 9l9.1 38.9l4.3 17.8l4.2 15.7l2.1 7l4 12.2l3.9 10.1l1.9 4.3l3.7 7.3l3.6 5.8l1.8 2.4l3.5 4l1.8 1.6l3.4 2.6l5 2.8l1.7-.1l3.2-1.2l1.7 3.4l4.9 .8l6.4 .3l6.2-.2l6.1-.5l13.5-1.9l15.8-3.2l16.6-4.2M56.3 653.4l3.9-.7l2.1 4.5l2.2 7.5l2.3 8.7l8.9 36.4l4.2 16.7l6.2 21.6l4 11.9l3.8 9.9l1.9 4.3l3.7 7.4l3.6 6l1.8 2.5l3.5 4.3l1.7 1.7l3.4 2.9l1.7 1.2l3.4 1.9l1.6 .4l3.2-1.2l1.7 3.3l4.9 1l6.3 .5l4.7 0l6.1-.3l6.1-.7l7.4-1l15.8-3.1l16.5-4.1M58.1 653.7l3.9-.7l2 2.4l2.2 6.8l2.3 8l10.9 43.9l4.2 15.8l6.1 20.4l3.9 11.2l3.8 9.4l1.9 4.1l3.6 7.1l3.6 5.7l1.8 2.4l3.5 4.1l1.7 1.7l3.4 2.8l5 3.1l1.6-.2l1.6-.6l1.7 2.7l3.2 .9l3.2 .6l6.4 .5l4.6 0l6.1-.3l12-1.5l15.8-3l16.5-4M59.8 654l3.9-.7l2 .8l2.1 5.8l2.2 7.5l10.9 42.6l6.3 23.1l4 13.3l3.9 11.5l3.8 9.8l1.9 4.2l3.7 7.4l1.8 3.2l3.5 5.5l1.8 2.3l3.5 4l3.4 3.1l3.3 2.4l3.3 1.8l1.6-.6l1.7 2l3.2 1l3.2 .7l3.2 .5l4.7 .3l4.6 0l6.1-.3l11.9-1.5l14.3-2.7l16.5-3.9M61.6 654.3l5.8-1l2.2 4.6l2.1 6.9l2.2 7.9l10.8 41.5l4.1 15l4.1 13.5l3.9 11.7l3.8 10l1.9 4.5l3.6 7.7l1.8 3.4l3.6 5.8l1.8 2.4l3.4 4.3l1.7 1.8l3.4 2.9l5 3.3l1.6 .3l1.6-.6l1.7 2.5l3.2 1l3.2 .7l6.3 .7l4.6 .1l6.1-.2l11.9-1.4l14.3-2.6l16.5-3.9M65.2 654.9l5.8-1l2 1.1l2.1 5.5l2.2 6.9l12.7 47.1l4.1 14.3l4 12.9l3.9 11.3l5.6 14.1l1.8 4l3.6 7.1l1.8 3l3.5 5.3l1.8 2.3l3.4 3.8l1.7 1.7l3.3 2.8l3.3 2.2l1.6 .6l1.7 1l3.2 1.3l4.8 1.3l3.1 .6l4.6 .4l4.6 .1l4.6-.2l5.9-.5l5.9-.7l14.3-2.5l15-3.5M67 655.2l5.8-1l2-.1l2.1 4.6l4.2 13.6l14.7 53l3.9 13l3.9 11.5l5.6 14.5l1.9 4.1l3.6 7.3l1.8 3.2l3.5 5.6l1.7 2.4l3.4 4.1l1.7 1.7l3.4 3l3.3 2.4l3.2 1.9l3.3 1.4l4.7 1.5l3.2 .6l4.6 .6l4.6 .2l4.6-.1l5.9-.4l5.9-.7l14.2-2.5l15.1-3.4M68.8 655.5l7.8-1.4l2 3.1l2.1 5.8l2.1 6.9l12.6 45.1l4 13.7l3.9 12.3l3.9 10.9l5.5 13.8l5.4 10.9l1.8 3l3.5 5.3l1.7 2.3l3.4 4l5 4.5l3.3 2.3l3.2 1.8l3.2 1.4l4.8 1.4l3.1 .7l4.6 .5l4.6 .2l4.5-.1l6-.5l5.8-.7l12.8-2.1l15.1-3.4M70.6 655.8l7.8-1.4l1.9 1.5l2.1 5.2l4.3 13.6l10.4 37l5.9 20.1l3.9 11.8l3.8 10.4l5.5 13.1l5.4 10.3l1.7 2.9l3.5 5.1l5.1 6l4.9 4.3l3.3 2.2l3.2 1.8l3.2 1.3l4.7 1.4l3.1 .6l4.7 .5l4.5 .2l4.5-.1l10.3-1l12.8-2.1l15-3.3M74.2 656.3l9.7-1.7l2 3.3l2.1 5.6l2.1 6.4l16.3 55.6l5.7 17.5l3.8 10.1l5.5 12.8l5.3 10.1l5.1 8l5.1 6l4.9 4.5l3.3 2.2l3.2 1.8l3.2 1.5l4.7 1.5l3.1 .6l4.5 .6l4.6 .3l4.4-.1l10.3-.8l12.7-2.1l13.6-2.9M76.1 656.6l9.7-1.7l2 1.8l2 5l4.2 12.7l10.2 35.1l5.9 19.2l3.8 11.5l3.8 10.2l5.4 13l5.3 10.5l5.2 8.3l3.4 4.4l3.3 3.6l4.9 4.3l3.3 2.2l3.2 1.8l3.1 1.3l4.7 1.4l3.1 .7l4.5 .6l4.5 .2l4.5-.1l10.2-.9l11.2-1.7l13.7-2.9M77.9 656.9l9.7-1.7l1.9 .5l2.1 4.4l2 5.7l4.2 13.2l8.1 27.6l5.9 19.3l5.7 16.8l3.7 9.8l5.4 12.4l5.3 10l5.1 7.9l5 6l3.3 3.2l3.2 2.6l3.2 2.1l3.2 1.7l3.2 1.3l3.1 .9l3 .8l4.6 .6l7.5 .4l4.4-.2l5.8-.5l12.7-1.8l13.6-2.8M79.8 657.3l11.6-2l2 3.5l2.1 5.3l4.1 12.7l10 33.8l5.9 18.5l3.7 11l3.7 9.9l5.5 12.7l5.2 10.3l5.2 8.2l3.3 4.4l3.3 3.7l4.9 4.3l3.2 2.2l3.2 1.8l3.1 1.4l3.1 1.1l3.1 .8l4.6 .8l7.5 .5l4.4-.1l5.8-.4l12.7-1.8l13.6-2.8M83.5 657.9l11.6-2.1l1.9 .9l2 4.3l4.1 11.5l15.8 51.2l5.7 16.4l3.6 9.6l5.4 12.4l5.2 10.1l5.1 8l3.3 4.4l3.3 3.7l4.9 4.3l3.2 2.3l3.1 1.8l3.2 1.5l3 1.1l3.1 .9l4.5 .9l7.5 .5l4.4-0l5.7-.4l11.3-1.5l13.6-2.6M85.3 658.2l11.6-2.1l1.9-.1l2 3.7l2 5.1l4.1 12l9.9 32.2l5.7 17.9l3.8 10.7l3.6 9.7l5.4 12.6l5.2 10.4l5.1 8.3l3.3 4.5l3.3 3.8l4.9 4.6l3.2 2.4l3.1 2l3.1 1.6l3.1 1.2l3.1 1l4.5 .9l4.5 .6l4.4 .2l8.7-.4l11.2-1.4l13.6-2.6M87.2 658.5l13.5-2.4l1.9 2.4l2.1 4.7l4 11.5l15.6 49.7l5.6 15.8l3.6 9.3l5.3 12l5.2 9.9l5.1 8l3.3 4.3l3.2 3.7l4.9 4.4l3.1 2.3l3.2 1.8l3.1 1.5l3 1.2l3.1 .9l4.5 .9l4.4 .5l4.4 .2l8.7-.4l11.2-1.4l12.2-2.3M89.1 658.8l13.5-2.5l1.9 1.2l2 4.3l4 11l11.8 37.4l5.7 17.2l5.5 15.3l3.6 8.9l5.2 11.5l5.2 9.4l5 7.6l3.3 4.2l3.2 3.5l4.8 4.2l3.2 2.2l3.1 1.8l3.1 1.4l3 1.1l3.1 .9l4.5 .8l4.4 .5l4.4 .1l8.6-.4l9.7-1.2l12.2-2.2M92.9 659.4l15.4-2.8l1.9 2.7l2 4.6l4 11.1l11.6 36.4l5.6 16.7l5.5 14.7l3.5 8.7l5.2 11.2l5.1 9.2l5 7.5l3.3 4.1l3.2 3.5l4.8 4.2l3.1 2.2l3.1 1.8l3.1 1.5l3 1.1l3 .9l4.5 .9l7.3 .7l8.6-.2l9.7-1.1l12.2-2.1M94.8 659.7l15.4-2.8l1.9 1.5l2 4.1l3.9 10.6l11.6 36l5.6 16.7l5.5 14.8l3.5 8.8l5.2 11.4l5.1 9.5l5 7.7l3.3 4.2l3.2 3.6l4.7 4.4l3.2 2.4l3.1 1.9l3 1.5l3.1 1.3l3 .9l4.5 1l7.3 .8l8.5-.1l9.8-1l12.2-2.1M96.7 660l15.4-2.8l1.9 .4l1.9 3.7l4 10.1l17.1 52.1l5.5 15l5.3 12.9l5.1 11l5.1 9.1l4.9 7.3l3.3 4.1l3.2 3.4l4.7 4.2l3.1 2.3l3.1 1.8l3 1.5l3.1 1.1l3 .9l4.4 1l7.3 .7l8.5-.1l9.7-1.1l10.8-1.8M98.6 660.3l17.2-3.1l2 3l1.9 4.4l4 10.7l11.4 35l5.6 16.2l5.4 14.4l3.5 8.6l5.1 11.1l5.1 9.3l4.9 7.5l3.2 4.2l3.2 3.6l4.8 4.4l3.1 2.3l3.1 1.9l3 1.6l3 1.3l3 1l4.5 1l7.2 .8l8.6-0l9.7-1l10.7-1.8M102.5 661l17.2-3.2l1.9 .7l2 3.7l3.8 9.8l17 50.4l5.4 14.6l5.2 12.7l5.1 10.9l5 9.1l4.9 7.4l3.2 4.1l3.2 3.6l4.7 4.3l3.1 2.3l3 2l3.1 1.5l3 1.3l2.9 1l4.5 1.1l7.2 .9l8.5-0l8.2-.8l10.8-1.7M104.4 661.3l17.2-3.2l1.9-.1l1.9 3.1l2 4.3l3.8 10.3l11.3 33.9l5.5 15.8l5.3 14.1l3.5 8.4l5.1 11l3.3 6.4l3.3 5.6l4.9 7.1l3.2 3.9l3.2 3.4l4.6 4.2l3.1 2.2l3 1.8l3 1.5l3 1.2l5.9 1.7l2.9 .5l4.3 .5l4.3 .2l4.2-.1l8.3-.7l10.7-1.6M106.3 661.6l19.1-3.6l1.9 2.1l1.9 4l3.9 10l13.1 38.9l5.4 15.3l5.3 13.6l3.4 8.1l5.1 10.6l4.9 8.8l4.9 7.3l3.2 4.1l3.1 3.5l4.7 4.3l3.1 2.3l3 2l3 1.5l3 1.3l3 1l4.3 1.1l7.2 .9l7.1 .1l8.2-.6l10.8-1.6M108.3 661.9l19.1-3.6l1.9 1l1.9 3.7l3.8 9.5l16.7 48.8l5.3 14.3l5.2 12.6l5.1 10.7l3.3 6.3l3.3 5.5l4.8 6.9l3.2 3.9l3.1 3.4l4.6 4.1l3.1 2.2l3 1.8l3 1.6l2.9 1.2l5.9 1.7l2.9 .5l4.3 .5l7 .2l8.3-.6l10.7-1.5M112.2 662.6l20.9-4l1.9 2.4l1.9 4l3.8 9.6l13 37.8l5.3 14.9l5.2 13.4l3.4 7.9l5 10.6l3.3 6l3.3 5.4l4.7 6.9l3.2 3.8l3.1 3.3l4.6 4.1l3 2.2l3 1.8l3 1.5l3 1.2l5.8 1.8l7.1 1l7 .2l8.2-.5l9.4-1.3M114.2 662.9l20.9-4l1.9 1.3l1.9 3.6l3.8 9.3l16.5 47.5l5.2 14l5.1 12.4l5 10.6l3.3 6.2l3.3 5.5l4.7 7l3.2 4l3.1 3.4l4.6 4.2l3 2.3l3 1.9l3 1.6l2.9 1.3l5.8 1.8l2.9 .6l4.3 .6l6.9 .3l8.2-.5l9.4-1.2M116.2 663.2l20.9-4l1.9 .4l1.8 3.2l3.8 8.9l3.8 10.2l14.4 41.7l5.2 13.6l5.1 11.9l5 10.2l3.2 6l3.2 5.3l4.8 6.7l3.1 3.8l3.1 3.2l4.6 4.1l3 2.1l3 1.9l2.9 1.5l2.9 1.2l5.8 1.7l7.1 1.1l7 .2l8.1-.5l8-1.1M118.2 663.5l22.7-4.3l1.9 2.6l1.9 4l3.8 9.4l16.3 46.6l5.2 13.6l5 12.1l5 10.4l3.2 6l3.2 5.4l4.8 6.9l3.1 3.9l3.1 3.4l4.5 4.1l3 2.3l3 1.9l3 1.6l2.9 1.2l5.8 1.9l2.8 .6l4.3 .6l6.9 .3l8.2-.5l7.9-1M122.2 664.2l22.7-4.4l1.9 .6l1.8 3.3l3.8 8.7l3.7 10l14.3 40.7l5.1 13.3l5 11.8l4.9 10.1l3.2 6l3.2 5.2l4.7 6.8l3.1 3.8l3.1 3.3l4.5 4.1l3 2.2l2.9 1.9l3 1.6l2.9 1.2l5.7 1.9l5.6 1l7 .5l8.1-.3l8-1M124.2 664.5l22.7-4.5l1.8-0l1.9 2.7l3.7 8.4l3.7 9.8l14.3 40.5l5.1 13.4l5 11.9l4.9 10.3l3.2 6l3.2 5.4l4.7 6.9l3.1 3.9l3 3.4l4.6 4.2l2.9 2.3l3 2l2.9 1.6l2.9 1.3l5.8 2l5.6 1.1l6.9 .5l8.1-.2l8-.9M126.2 664.9l24.5-4.8l1.9 1.9l1.8 3.6l3.7 8.9l17.8 50l5.1 12.9l5 11.5l4.8 10l3.2 5.7l3.2 5.2l4.6 6.6l3.1 3.8l3 3.2l4.5 4.1l3 2.2l2.9 1.8l4.4 2.2l5.7 2.1l5.6 1.2l6.9 .6l8.2-.2l7.9-.8M128.3 665.2l24.5-4.9l1.9 1l1.8 3.3l3.7 8.6l3.7 9.8l14 39.8l5.1 13.1l5 11.6l4.8 10.1l3.2 5.8l3.2 5.3l4.6 6.8l3.1 3.8l3 3.3l4.5 4.2l3 2.3l2.9 1.9l4.3 2.3l5.8 2.1l5.6 1.3l6.9 .8l8.1-.1l7.9-.8M132.4 665.9l26.3-5.3l1.8 2.3l1.9 3.6l3.6 8.8l17.6 49l5 12.7l4.9 11.4l4.8 9.8l3.2 5.8l3.1 5.1l4.6 6.7l3.1 3.7l3 3.3l4.4 4.1l3 2.2l2.9 1.9l4.3 2.3l5.7 2.1l5.5 1.3l6.9 .7l6.7-.1l7.9-.7M134.4 666.2l26.3-5.3l1.8 1.3l1.9 3.3l3.6 8.5l3.6 9.6l10.5 29.8l5.1 13.8l5 12.4l4.8 10.9l4.8 9.5l3.1 5.6l3.1 4.9l4.6 6.4l3 3.6l3 3.1l4.5 3.9l2.9 2.1l2.9 1.8l4.3 2.2l5.6 1.9l5.6 1.2l5.4 .6l6.8-0l7.9-.7M136.5 666.5l26.3-5.3l1.8 .4l1.8 2.9l1.9 3.9l3.6 8.9l15.6 43.9l5 13l3.3 7.8l4.8 10.6l4.8 9.2l4.6 7.7l4.6 6.5l4.5 5.4l3 3l2.9 2.5l2.9 2.2l2.9 1.9l5.7 2.8l2.8 1.1l4.2 1.1l6.9 1.1l4.1 .2l4-.1l7.9-.6M138.5 666.9l28.1-5.6l1.8 2.5l1.8 3.6l3.6 8.7l17.3 48.2l5 12.6l3.2 7.6l3.2 7l4.8 9.3l4.6 7.9l4.6 6.6l4.5 5.5l2.9 3.1l3 2.6l2.9 2.3l2.9 1.9l5.7 2.9l2.8 1.1l4.2 1.2l6.8 1.1l4.1 .3l4-0l7.9-.6M142.7 667.5l28-5.7l1.9 .6l1.8 3l1.8 3.9l3.5 8.8l15.5 43.3l4.9 12.8l3.3 7.8l3.1 7.1l4.8 9.6l4.6 8.2l4.5 6.8l4.5 5.8l3 3.2l2.9 2.8l2.9 2.4l2.9 2l2.8 1.7l2.9 1.4l2.8 1.2l4.1 1.4l2.8 .6l4.1 .6l4 .4l4 0l7.9-.5M144.8 667.9l28-5.8l1.8-0l1.8 2.6l1.8 3.6l3.6 8.6l17.1 47.6l4.9 12.5l3.2 7.6l3.1 6.9l4.7 9.2l4.6 7.9l4.5 6.6l4.5 5.4l2.9 3.1l2.9 2.6l2.9 2.3l2.9 1.9l5.6 3l5.6 2l2.7 .7l4.1 .7l4 .3l4 .1l7.9-.4M146.9 668.2l29.8-6.2l1.8 1.9l1.8 3.4l3.6 8.4l3.5 9.4l13.5 38.1l4.9 12.5l3.2 7.7l3.1 7l4.7 9.3l4.6 8l4.5 6.7l4.4 5.6l3 3.2l2.9 2.7l2.8 2.3l2.9 2l5.6 3.1l5.6 2l2.7 .7l4.1 .8l4 .4l4 .1l7.9-.4M149 668.6l29.8-6.2l1.8 1l1.8 3.1l1.8 3.8l3.5 8.8l15.2 42.8l4.9 12.7l3.2 7.7l3.1 7.1l4.7 9.5l4.6 8.1l4.5 6.9l4.4 5.7l2.9 3.2l2.9 2.8l2.9 2.4l2.8 2l2.9 1.7l2.8 1.5l5.5 2.1l2.8 .7l4 .8l4.1 .4l3.9 .2l7.9-.4M153.3 669.3l31.5-6.6l1.8 2.2l1.8 3.4l3.5 8.4l16.8 47.2l4.8 12.4l3.2 7.6l3.1 7l4.6 9.2l4.5 8l4.5 6.7l4.4 5.5l2.9 3.1l2.9 2.8l2.8 2.3l2.8 2l5.6 3l5.5 2.1l2.8 .7l4 .7l6.6 .5l7.8-.3M155.4 669.6l31.5-6.6l1.8 1.2l1.8 3.2l1.7 3.9l3.5 8.8l15 42.5l4.8 12.6l3.2 7.7l3.1 7l4.6 9.4l4.5 8.1l4.5 6.8l4.4 5.7l2.8 3.1l2.9 2.8l2.9 2.4l2.8 2l5.6 3.2l5.5 2.1l2.7 .7l4 .8l6.6 .6l7.8-.3M157.6 670l31.5-6.7l1.8 .5l1.7 2.8l1.8 3.7l3.5 8.7l15 42.5l4.7 12.7l3.2 7.8l3.1 7.1l4.6 9.6l4.5 8.1l4.4 7l4.4 5.7l2.9 3.3l2.9 2.8l2.8 2.4l2.8 2.1l2.8 1.8l2.8 1.5l5.5 2.1l2.7 .8l4 .8l6.6 .6l7.8-.2M159.7 670.3l31.5-6.7l1.7-.2l1.8 2.4l1.8 3.5l3.4 8.5l16.6 47l4.7 12.4l3.1 7.5l3.1 6.9l4.6 9.2l3 5.4l4.4 7.1l2.9 4l2.9 3.5l1.5-.1l1.4 3.2l4.2 3.9l2.9 2.1l2.8 1.9l2.7 1.5l5.5 2.2l2.7 .8l4 .8l6.6 .7l7.8-.2M164.1 671l33.2-7.1l1.8 .7l1.7 3l1.7 3.7l3.5 8.8l14.7 42.6l4.8 12.6l3.1 7.7l3 7.1l4.5 9.5l4.5 8.1l4.4 6.9l4.3 5.7l1.5-.1l1.5-.6l1.3 5.4l1.4 1.3l4.2 3.5l2.8 1.9l2.8 1.5l5.4 2.4l2.7 .8l4 .9l6.6 .7l7.8-.1M166.3 671.4l33.2-7.1l1.7-.1l1.8 2.6l1.7 3.6l3.4 8.6l14.8 42.7l4.7 12.8l3.1 7.8l3 7.2l4.5 9.6l4.5 8.3l4.4 6.9l4.3 5.8l2.8 3.3l2.9 2.8l4.2 3.6l2.7 1.9l2.8 1.6l5.4 2.4l2.7 .9l4 .9l6.6 .7l7.7-.1M168.5 671.8l34.9-7.6l1.8 2l1.7 3.4l3.4 8.4l16.3 47.3l4.6 12.5l3.1 7.6l3 6.9l4.5 9.3l2.9 5.4l4.4 7.1l4.3 5.9l1.5-.2l1.5-.6l1.3 5.6l1.4 1.4l4.2 3.6l2.8 2l2.7 1.6l5.4 2.5l2.7 .9l4 .9l6.6 .8l7.7-.1M170.7 672.1l34.9-7.6l1.7 1l1.7 3.2l3.5 8.1l3.3 9.4l12.9 38.1l4.6 12.7l3.1 7.7l3 7l4.5 9.4l2.9 5.6l4.4 7.1l4.3 6l2.8 3.4l2.8 3l4.2 3.6l2.8 2l2.7 1.7l5.4 2.5l2.7 .9l4 .9l6.6 .8l7.7-0M175.1 672.8l36.6-8l1.7 2.3l1.7 3.5l3.4 8.7l16 47.8l4.6 12.5l3 7.6l3 7l4.4 9.2l2.9 5.4l4.3 6.9l2.9 3.9l1.4-.6l1.4 4.2l4.2 4.4l4.1 3.5l2.8 1.9l2.7 1.5l5.4 2.4l2.6 .8l4 .8l6.5 .7l6.4-.2M177.3 673.2l36.5-8.1l1.8 1.4l1.7 3.3l3.3 8.5l3.3 9.5l11.1 34.1l4.7 13.1l3 8l3 7.4l4.4 9.9l4.4 8.4l4.3 7.1l1.4 2.1l1.4 1.5l4.4-1.7l1.2 8.7l2.8 2.7l2.8 2.2l2.7 1.9l2.7 1.6l5.4 2.4l2.6 .8l4 .9l6.5 .6l6.4-.1M179.6 673.6l36.5-8.1l1.7 .5l1.7 3l3.4 8.3l3.3 9.5l12.6 39l4.6 12.9l3 7.8l2.9 7.1l4.4 9.5l2.9 5.6l4.3 7.2l1.4 2.1l1.5 1.2l1.4-.6l1.4 4.9l4.1 4.5l4.2 3.6l2.7 2l2.7 1.6l5.4 2.3l2.6 .9l4 .8l6.5 .7l6.3-.2M181.8 673.9l36.5-8.1l1.7-.2l1.7 2.6l1.7 3.7l3.3 8.9l14.2 44.3l4.6 13.1l3 7.9l2.9 7.2l4.4 9.7l2.9 5.6l4.3 7.3l1.4 2.1l1.4 .9l5.8-2.3l1.1 11.7l4.2 3.6l2.7 1.9l2.7 1.6l5.4 2.4l2.6 .9l3.9 .8l6.5 .6l6.4-.1M186.4 674.7l38.1-8.6l1.8 .8l1.6 3.3l3.3 8.7l3.3 9.9l10.9 35.2l4.5 13.5l2.9 8.2l3 7.5l4.3 9.9l2.9 5.8l4.2 7.5l1.4 2.2l1.5-.1l7.2-2.9l1 14.8l4.1 3.4l4.1 2.6l5.3 2.4l2.7 .8l3.9 .8l6.4 .6l6.4-.2M188.6 675.1l38.1-8.6l1.7 0l1.7 2.9l3.3 8.5l3.2 9.9l10.9 35.8l4.5 13.7l2.9 8.3l2.9 7.6l4.4 10.2l2.8 5.8l4.3 7.6l1.4 2l5.8-2.3l1.1 11.7l2.8 2.7l2.7 2.4l2.7 2l2.7 1.6l2.6 1.3l2.7 1.1l2.6 .8l3.9 .8l6.5 .6l6.3-.3M190.9 675.4l39.8-9.1l1.7 2.3l1.6 3.8l1.7 4.5l3.2 9.9l12.3 41.1l5.9 17.6l2.9 7.8l4.3 10.2l2.9 6l4.2 7.7l1.4 1.3l8.7-3.5l.9 16.4l4.1 3.4l4.1 2.6l2.6 1.3l2.7 1.1l5.2 1.4l6.5 .7l3.8-.1l3.8-.2M193.2 675.8l39.7-9.1l1.7 1.3l1.7 3.5l3.2 9.2l13.9 46.9l5.9 18l2.9 7.9l4.3 10.4l2.8 6.1l4.2 7.8l1.5 .5l5.8-2.4l1 13.4l2.7 2.8l2.8 2.4l2.7 2l2.6 1.6l2.7 1.3l2.6 1l5.3 1.4l6.4 .6l3.8-0l3.8-.3M197.9 676.6l41.4-9.5l1.6 2.8l3.2 8.9l3.2 10.6l10.6 38l5.8 18.7l2.9 8.2l2.8 7.4l2.9 6.6l4.2 8.5l1.4 1.6l8.7-3.5l.9 17.6l4 3.7l4 2.7l2.7 1.4l2.6 1.1l2.7 .9l3.9 .8l6.4 .5l7.6-.5M200.2 676.9l41.3-9.6l1.7 1.8l1.6 3.9l1.6 4.8l3.1 10.7l10.6 38.8l4.3 14.6l2.9 8.8l2.9 7.9l2.8 7.2l2.8 6.3l2.8 5.5l1.4 .5l12.9-5.2l.7 24.1l2.7 1.9l4 2.2l2.6 1.1l3.9 1.1l3.9 .6l3.9 .3l3.8-.1l5-.5"/><path class="md" d="M49.7 756l.4-30.1l1.1-13l1.2-9.5l1.4-7.7l1.4-6.4l3-10.3l1.6-4.2l3.1-7.1l1.7-2.9l3.3-4.9l3.4-3.6l1.7-1.3l1.8-.9l1.8 0l131.1 21.1M60.5 793.8l.9-17.2l1.2-10.5l2.7-16.8l1.4-7.1l2.9-12.5l3-10.6l3.1-9.3l3.1-8.3l3.3-7.2l3.3-6.5l3.4-5.8l3.4-5.2l5.3-6.7l5.3-5.4l3.7-3l3.7-2.4l1.8-1l1.9-.7l1.9-.5l101.1 15.9M69.9 802.8l2.8-11.1l4.4-15.7l6-19.2l3.1-8.7l3.1-8.2l3.2-7.5l3.3-7.1l3.3-6.7l5.1-9.1l3.5-5.6l5.3-7.7l3.5-4.8l5.5-6.4l5.5-5.8l5.7-5.2l3.8-3l3.8-2.8l5.9-3.6l6-2.7l4-1.2l2-.2l67.2 10.4M78.7 805.8l1.6-1.5l1.5-2l1.5-2.5l3.1-5.9l10.9-23l6.5-12.8l8.3-15l6.9-11.1l7.1-10.1l9-11.5l9.3-10.3l3.8-3.8l5.8-5.3l3.8-3.4l6-4.6l6-4.3l6.1-3.9l6.2-3.4l4.1-2.1l6.4-2.7l4.3-1.4l4.3-1l2.1 0l31.3 4.8M87.4 807.3l1.6-.3l1.6-.7l1.6-1l1.5-1.3l3.2-3.3l3.2-3.9l3.2-4.3l21.5-31.4l7-9.3l5.3-6.8l7.2-8.6l7.3-8.1l7.6-7.7l7.7-7.1l7.8-6.7l8-6.2l8.2-5.7l10.4-6.5l10.7-5.8l10.9-5.3l11.2-4.8l9.1-3.4M95.8 806.7l8-.8l1.7-.6l3.2-2.2l3.2-2.6l3.3-3l4.9-5l24-26.1l7.1-7.4l7.3-7.3l7.5-7l7.5-6.7l7.8-6.3l7.9-6l8-5.6l6.2-4l6.2-3.7l8.4-4.6l6.5-3.1l8.7-3.9l8.8-3.5l9.1-3.1M104.1 808.2l3.2 0l3.2-.3l4.9-1.3l1.5-4.1l8.3-.9l1.6-1l5-3.6l5.1-3.9l28.2-23.4l14.9-11.7l7.6-5.6l7.8-5.3l8-5l6-3.5l6.2-3.3l6.2-3l6.3-2.7l6.4-2.4l6.5-2l6.5-1.6l6.6-1.1l4.5-.4M112.2 807.9l6.4 0l3.3-.3l3.2-.6l6.6-2l3.3-1.3l5-2.3l6.8-3.6l6.9-4.1l30.6-19.5l13.3-8l13.7-7.4l6-2.9l6.1-2.6l6.2-2.4l6.2-2l6.3-1.6l4.3-.8l6.4-.8l4.4-.1l4.3 .2l4.4 .7M120.1 807.2l6.4 .2l4.9-.2l3.2-.4l8.3-1.8l8.4-2.6l6.8-2.7l8.7-3.8l30.9-14.9l13.4-6.1l11.9-4.7l6-2.1l6.1-1.8l6.1-1.5l4.2-.8l6.2-.7l4.3-.2l4.2 .1l4.3 .4l4.3 .9l4.3 1.3M127.8 806.2l8 .4l8.2-.5l8.2-1.2l8.5-1.8l8.5-2.4l8.8-2.8l31.1-11l11.5-3.9l11.7-3.4l10.1-2.2l8.1-1.2l8.3-.4l4.2 .2l4.2 .5l4.2 .8l4.3 1.2l4.3-.3M135.4 804.9l6.4 .5l8.1-.1l8.2-.6l8.4-1.1l8.6-1.5l10.4-2.3l34.8-8.8l13.4-3.1l7.9-1.5l6-.8l6-.6l6.1-.2l2.2-6.7l1.9 6.7l2.2-7.1l2 7.4l2.2-7.9l1.9 8.5l2.3-9l12.9-1.5M142.8 803.4l6.4 .6l8.1 .1l8.2-.3l10.1-.9l19-2.7l42.4-7.3l9.7-1.2l9.9-.8l10.1-.1l6.1 .5l4.1 .6l4.1 .8l4.2 1.1l4.2 1.4l4.2 1.8M150.1 801.8l6.4 .7l6.4 .3l8.2-.1l8.3-.4l18.9-1.7l43.8-4.9l11.6-.9l9.8-.3l10 .4l6.1 .6l4.1 .7l8.2 1.9l4.1 1.4l4.2 1.7M157.3 800l4.8 .6l6.4 .5l6.5 .2l8.3-.2l16.9-.8l45-3.2l13.4-.5l9.7-0l10 .5l10 1.2l6.1 1.2l4.1 1.1l8.3 2.7M164.3 798.2l4.8 .7l6.4 .6l13 .3l13.5-.4l46.2-1.9l13.2-.2l11.6 .2l11.8 .8l10 1.3l10.2 2.2l8.2 2.4M171.2 796.2l4.7 .7l6.4 .7l13.1 .5l11.7-.1l44.1-1l15 .1l11.4 .3l11.7 .9l10 1.2l10.1 1.9l10.2 2.6M37.3 650.3l4.1 48.3l2.9 22.6l2.8 19.2l2.6 15.6l1.9 2l2.7 19.6l2.1 7l2.1 5.3l2 3.9l1.9 2.9l1.9 2.2l1.9 1.7l3.6 2.2l5.4 2.1l5.3 1.3l5.2 .8l6.8 .8l6.6-2.3l1.7 2.7l6.5-.1l6.4-.4l7.9-.7l7.7-1.1l9-1.6l8.9-1.8l8.6-2.1l19.5-5.4M45.9 651.7l2.2 4.3l2.3 10l11.9 57.1l4.4 19.1l4.3 15.9l4.1 12.6l1.9 5.3l3.9 8.7l3.7 6.6l1.9 2.6l3.6 4.2l1.8 1.7l3.5 2.6l3.4 1.9l3.4 1.4l1.7 .2l6.5-2.4l1.8 4l8 .3l6.4-.3l6.2-.6l7.6-1l7.5-1.3l8.8-1.7l8.6-2l18-4.7M54.6 653.1l2-.3l1.9 .3l2.2 6.3l4.5 17.4l9 37.5l4.2 16.8l4.2 14.7l2 6.6l4 11.5l3.8 9.5l3.7 7.8l3.7 6.3l1.8 2.6l3.5 4.4l1.7 1.8l3.5 2.9l3.3 2.3l3.4 1.7l3.2-1.1l1.7 2.8l4.9 1l6.3 .5l4.7 0l6.2-.3l6.1-.7l7.4-1.1l15.9-3l17.9-4.5M63.4 654.6l5.8-1l2.1 2.7l2.1 6.2l2.2 7.4l14.9 55.6l4 13.5l3.9 11.9l5.7 14.9l1.8 4.2l3.7 7.4l1.8 3.2l3.5 5.5l1.8 2.4l3.4 4l3.4 3.3l3.3 2.5l3.3 2l1.6-.2l1.7 1.8l3.2 1.1l3.2 .8l3.1 .6l4.7 .4l4.6 .1l4.6-.1l6-.5l5.9-.8l14.3-2.5l16.5-3.8M72.4 656l7.8-1.4l1.9 .3l2.1 4.5l4.2 12.7l10.3 36.4l6 20.1l3.9 11.9l3.8 10.5l5.5 13.4l5.3 10.7l5.3 8.3l5 6.3l5 4.7l3.3 2.4l3.2 1.9l3.2 1.4l4.7 1.6l3.1 .7l4.6 .6l4.6 .3l4.5-.1l10.2-.8l12.8-2l15.1-3.3M81.6 657.6l11.6-2.1l2 2.1l2 4.9l4.1 12.1l10 33.3l5.9 18.5l5.6 16.2l3.7 9.5l5.3 12.1l5.2 9.9l5.1 7.7l5 6.1l3.3 3.2l3.2 2.6l3.2 2.2l3.2 1.7l3.1 1.3l3.1 1.1l3 .7l4.6 .8l7.4 .4l4.4-.1l5.8-.4l11.2-1.6l13.6-2.7M91 659.1l13.5-2.5l1.9 .2l2 3.7l4 10.4l17.4 54.1l5.5 15.4l3.6 9l5.2 11.7l5.2 9.7l5 7.8l3.3 4.3l3.2 3.7l4.8 4.4l3.2 2.3l3.1 1.9l3.1 1.5l3 1.2l3 .9l4.5 1l4.5 .6l4.3 .2l8.6-.3l9.8-1.2l12.2-2.2M100.5 660.6l17.2-3.2l1.9 1.8l2 4.1l3.9 10.2l17 50.9l5.4 14.5l3.5 8.6l5.1 11.3l3.4 6.5l3.3 5.8l4.9 7.2l3.2 4l3.2 3.4l4.7 4.2l3.1 2.2l3.1 1.9l3 1.5l3 1.2l3 .9l4.4 1l7.2 .7l8.5-.1l8.3-.8l10.8-1.7M110.3 662.2l19.1-3.6l1.8 .1l1.9 3.2l3.9 9.1l3.8 10.5l9.2 27.5l5.4 15.3l5.3 13.9l5.1 12l5 10.4l5 8.7l4.8 7.1l3.1 4.1l3.2 3.4l4.6 4.3l3 2.3l3.1 1.9l3 1.6l2.9 1.3l5.9 1.8l2.9 .6l4.2 .5l7.1 .3l8.2-.5l10.7-1.5M120.2 663.9l22.7-4.4l1.9 1.6l1.9 3.6l3.7 9.1l18 51.1l5.2 13.2l5 11.6l4.9 10l3.2 5.8l3.2 5.2l4.7 6.6l3.1 3.7l3.1 3.2l4.5 4l3 2.2l3 1.8l2.9 1.4l2.9 1.3l5.8 1.7l5.6 .9l6.9 .4l8.2-.4l8-.9M130.3 665.5l24.5-4.9l1.8 .2l1.9 2.8l3.7 8.3l3.6 9.6l10.6 30.2l5.2 14l5 12.7l4.9 11.2l4.8 9.7l3.2 5.7l3.1 5.1l4.6 6.4l3.1 3.7l3 3.2l4.4 4l3 2.2l2.9 1.8l4.3 2.2l5.7 2l5.6 1.2l6.9 .6l6.7-.1l7.9-.8M140.6 667.2l28.1-5.7l1.8 1.5l1.8 3.4l3.6 8.4l3.6 9.5l13.7 38.5l4.9 12.7l3.2 7.7l3.2 7.1l4.8 9.4l4.6 8.1l4.6 6.7l4.4 5.6l3 3.2l2.9 2.7l2.9 2.3l2.9 2l5.7 3l2.8 1.2l4.2 1.2l6.9 1.2l4 .3l4 .1l7.9-.6M151.2 668.9l29.8-6.2l1.8 .2l1.7 2.7l1.8 3.6l3.5 8.7l16.9 47.1l4.8 12.4l3.2 7.5l3.1 6.8l4.6 9.2l4.5 7.8l4.5 6.6l4.4 5.4l2.9 3.1l2.9 2.6l2.9 2.3l2.8 1.9l5.6 3l5.5 2l2.7 .7l4.1 .6l6.6 .5l7.9-.3M161.9 670.7l33.2-7.1l1.8 1.6l1.7 3.3l3.5 8.2l3.4 9.3l13.1 37.8l4.7 12.5l3.2 7.6l3 7l4.6 9.3l4.4 8l4.4 6.8l4.4 5.6l2.8 3.2l2.9 2.7l4.2 3.4l2.8 1.8l2.7 1.6l5.5 2.3l2.7 .8l4 .9l6.6 .6l7.8-.1M172.9 672.5l34.9-7.6l1.7 .2l1.7 2.8l1.7 3.7l3.4 8.8l14.5 43.1l4.6 12.8l3.1 7.8l3 7.2l4.4 9.5l4.4 8.2l4.4 6.9l2.8 3.9l4.4-1.6l1.3 8l2.8 2.6l2.7 2.2l2.8 1.9l2.7 1.5l5.4 2.3l2.7 .8l3.9 .8l6.5 .7l6.4-.2M184.1 674.3l38.2-8.6l1.7 1.8l1.7 3.5l3.3 8.8l14.1 44.7l4.6 13.3l2.9 8.1l3 7.3l4.3 9.8l2.9 5.7l4.3 7.4l1.4 2.2l1.4 .4l3-1.2l1.2 8.2l2.8 2.9l2.7 2.6l2.7 2.1l4.1 2.6l5.3 2.4l2.7 .8l3.9 .9l6.5 .6l6.3-.2M195.5 676.2l39.7-9.1l1.7 .3l1.7 3.3l3.2 9.1l13.8 47.7l5.8 18.3l2.9 8l4.3 10.7l2.8 6.1l4.2 7.9l1.5-.4l10.1-4.1l.8 20.2l2.7 2.1l4 2.5l2.7 1.3l3.9 1.4l3.9 .9l3.9 .5l5.1 .1l5-.4"/><path class="axis" d="M35.7 650.2L44.7 847.7L198.1 904.8L322 839.3M44.7 847.7L41.5 849M43.6 822.8L40.3 823.9M42.4 797.4L39.1 798.5M41.2 771.7L37.9 772.6M40.1 745.5L36.7 746.4M38.8 718.9L35.5 719.7M37.6 691.9L34.2 692.7M36.4 664.5L32.9 665.1M44.1 835.3L42.3 835.9M43 810.1L41.2 810.7M41.8 784.6L40 785.1M40.6 758.6L38.8 759.1M39.5 732.3L37.6 732.7M38.2 705.5L36.4 705.9M37 678.3L35.1 678.6M69.4 856.9L67.2 857.8M98.6 867.8L96.5 868.7M129.7 879.4L127.6 880.3M162.8 891.7L160.7 892.7M198.1 904.8L196 905.9M55.4 851.7L54.2 852.2M83.8 862.3L82.6 862.8M113.9 873.5L112.8 874M146 885.4L144.8 886M180.1 898.1L179 898.7M225.5 890.3L228 891.2M252.2 876.1L254.7 877M277.1 863L279.6 863.8M300.3 850.7L302.7 851.4M322 839.3L324.4 839.9M211.4 897.8L212.8 898.3M239.1 883.1L240.5 883.5M264.9 869.4L266.3 869.9M288.9 856.8L290.2 857.2M311.3 844.9L312.6 845.3"/><text class="tl" text-anchor="end" transform="matrix(0.899 -0.340 0.048 1.031 41.61 848.90)" y="2.6">0.000</text><text class="tl" text-anchor="end" transform="matrix(0.907 -0.318 0.049 1.047 40.45 823.86)" y="2.6">0.002</text><text class="tl" text-anchor="end" transform="matrix(0.915 -0.296 0.049 1.064 39.27 798.42)" y="2.6">0.004</text><text class="tl" text-anchor="end" transform="matrix(0.923 -0.272 0.050 1.080 38.07 772.59)" y="2.6">0.006</text><text class="tl" text-anchor="end" transform="matrix(0.932 -0.248 0.051 1.097 36.85 746.35)" y="2.6">0.008</text><text class="tl" text-anchor="end" transform="matrix(0.941 -0.223 0.052 1.115 35.61 719.70)" y="2.6">0.010</text><text class="tl" text-anchor="end" transform="matrix(0.949 -0.197 0.053 1.133 34.36 692.62)" y="2.6">0.012</text><text class="tl" text-anchor="end" transform="matrix(0.958 -0.170 0.053 1.151 33.08 665.10)" y="2.6">0.014</text><text class="tl" text-anchor="end" transform="matrix(1.026 -0.410 0.710 0.267 64.46 858.90)" y="3.5">10</text><text class="tl" text-anchor="end" transform="matrix(1.023 -0.435 0.754 0.283 93.72 869.90)" y="3.5">20</text><text class="tl" text-anchor="end" transform="matrix(1.017 -0.463 0.802 0.302 124.81 881.60)" y="3.5">30</text><text class="tl" text-anchor="end" transform="matrix(1.009 -0.494 0.855 0.321 157.93 894.05)" y="3.5">40</text><text class="tl" text-anchor="end" transform="matrix(0.997 -0.527 0.913 0.343 193.26 907.34)" y="3.5">50</text><text class="tl" text-anchor="start" transform="matrix(1.092 0.382 -0.968 0.519 231.31 892.31)" y="3.5">10</text><text class="tl" text-anchor="start" transform="matrix(1.077 0.355 -0.899 0.482 257.96 878.03)" y="3.5">20</text><text class="tl" text-anchor="start" transform="matrix(1.062 0.331 -0.837 0.449 282.74 864.75)" y="3.5">30</text><text class="tl" text-anchor="start" transform="matrix(1.046 0.309 -0.781 0.419 305.84 852.37)" y="3.5">40</text><text class="tl" text-anchor="start" transform="matrix(1.030 0.289 -0.731 0.392 327.43 840.80)" y="3.5">50</text><path class="grid" d="M383.2 825.5L517.4 778.7M517.4 778.7L669.2 817.7M382.1 799.5L517.4 756M517.4 756L670.4 792.2M381 773L517.4 733.1M517.4 733.1L671.6 766.4M379.8 746.1L517.4 709.8M517.4 709.8L672.8 740.1M378.7 718.8L517.3 686.1M517.3 686.1L674 713.4M377.5 691L517.3 662.2M517.3 662.2L675.3 686.3M376.3 662.7L517.3 637.9M517.3 637.9L676.5 658.7M414.3 839.8L407.9 643.1M414.3 839.8L571.1 893.6M442.5 829.2L437.9 638.3M442.5 829.2L597.9 879.5M468.9 819.3L466.1 633.7M468.9 819.3L622.9 866.4M493.9 809.9L492.5 629.5M493.9 809.9L646.2 854.2M542.3 807.9L543.5 628.6M409.8 860.5L542.3 807.9M571.3 815.9L574.2 632.3M439.9 871.5L571.3 815.9M601.9 824.4L606.7 636.2M471.9 883.1L601.9 824.4M634.1 833.3L640.9 640.3M505.9 895.6L634.1 833.3"/><path class="edge" d="M375.7 648.3L517.3 625.5L677.2 644.6M517.4 801L517.3 625.5M668.1 842.7L677.2 644.6M384.2 851.1L517.4 801L668.1 842.7"/><path class="pf" d="M379 647.9L381.5 648.3L383.9 648.7L386.4 649L388.8 649.4L391.3 649.8L393.8 650.2L396.3 650.6L398.9 651L401.4 651.4L404 651.9L406.5 652.3L409.1 652.7L411.7 653.1L414.3 653.5L416.9 653.9L419.5 654.3L422.2 654.8L424.8 655.2L427.5 655.6L430.2 656L432.9 656.5L435.6 656.9L438.3 657.3L441.1 657.8L443.8 658.2L446.6 658.7L449.4 659.1L452.2 659.5L455 660L457.8 660.4L460.7 660.9L463.5 661.4L466.4 661.8L469.3 662.3L472.2 662.7L475.1 663.2L478.1 663.7L481 664.1L484 664.6L487 665.1L490 665.6L493 666.1L496.1 666.5L499.1 667L502.2 667.5L505.3 668L508.4 668.5L511.5 669L514.6 669.5L517.8 670L521 670.5L524.2 671L527.4 671.5L530.6 672.1L533.9 672.6L537.1 673.1L540.4 673.6L543.7 674.2L547.1 674.7L594.8 663.7L590.8 663.4L586.7 663.1L582.7 662.9L578.7 662.6L574.7 662.3L570.7 662L566.8 661.7L562.8 661.4L558.8 661.2L554.9 660.9L551 660.6L547.1 660.3L543.2 660L539.3 659.8L535.5 659.5L531.6 659.2L527.8 659L523.9 658.7L520.1 658.4L516.3 658.1L512.5 657.9L508.7 657.6L505 657.3L501.2 657.1L497.5 656.8L493.7 656.5L490 656.3L486.3 656L482.6 655.7L478.9 655.5L475.2 655.2L471.6 655L467.9 654.7L464.3 654.4L460.6 654.2L457 653.9L453.4 653.7L449.8 653.4L446.2 653.2L442.7 652.9L439.1 652.7L435.6 652.4L432 652.1L428.5 651.9L425 651.6L421.5 651.4L418 651.1L414.5 650.9L411 650.7L407.5 650.4L404.1 650.2L400.7 649.9L397.2 649.7L393.8 649.4L390.4 649.2L387 648.9L383.9 648.7L381.5 648.3L379 647.9Z"/><path class="ml" d="M379 647.9l168 26.8M385.1 749.8l-.6-56.4l1.2-14.5l1.4-9.4l1.4-7.2l3.1-11.6l1.8-1.2l155.5 24.7M387.4 758.6l-.2-47.6l1.1-16l1.3-10.4l1.5-7.9l1.5-6.4l3.1-10.5l3.3-9.1l1.8-.6l150.1 23.8M389.4 761.1l.3-35.5l1.1-16.4l1.3-11.1l1.4-8.4l1.5-7l1.5-6l3.2-9.9l1.7-4.2l5-11.7l1.8-.3l144.5 22.8M393.1 760l1.3-11.3l1.1-15.8l1.3-11.4l1.4-9l1.4-7.5l1.5-6.5l3.2-11l1.6-4.7l3.3-8.4l5.1-10.6l7-12.4l135.1 21.1M395.7 780l.9-22l1.1-15.1l1.3-11.2l1.4-9l1.5-7.6l1.5-6.6l1.5-5.9l3.2-10.3l1.6-4.5l3.4-8.2l3.3-7.1l3.5-6.4l8.9-14.2l129.5 20.2M397.7 784.1l1-18.2l1.2-14.1l1.3-10.8l1.4-8.9l1.5-7.6l1.5-6.7l3.1-11.5l1.6-5l3.3-8.9l3.3-7.9l3.4-7.1l3.5-6.3l3.5-5.8l9.1-12.8l123.7 19.2M399.7 787.9l1.1-15l1.2-13.1l1.4-10.4l1.4-8.7l3-14.1l1.5-6l3.2-10.6l3.2-9.1l3.4-8.1l3.4-7.3l3.4-6.5l3.6-6l3.5-5.5l5.5-7.5l5.6-6.9l117.9 18.2M403.6 794.4l2.6-21.2l1.4-9.4l2.9-15.2l1.5-6.4l3.1-11.3l3.2-9.7l3.3-8.7l3.4-7.9l5.1-10.6l3.5-6.4l5.4-8.6l3.6-5.3l5.5-7.2l9.5-10.7l1.9-1.7l106.1 16.3M405.5 797.3l4.1-27.2l1.4-7.7l3.1-13.1l1.5-5.8l3.2-10.3l3.2-9.1l3.3-8.2l3.4-7.6l5.2-10.3l3.5-6.2l5.4-8.6l3.6-5.3l5.6-7.2l5.7-6.5l7.7-8l1.9-1.5l100.1 15.3M407.4 799.9l1.4-7l2.8-17.2l1.5-7.3l3-12.6l3.1-10.8l3.2-9.5l3.3-8.6l5.1-11.6l3.4-7l5.2-9.6l5.4-8.8l5.5-8l3.7-4.9l5.6-6.7l5.8-6.1l7.8-7.6l2-1.3l94 14.3M409.3 802.2l1.5-5.8l2.8-15.6l3-13.3l3.1-11.2l3.1-9.8l3.3-8.9l3.3-8.1l5.1-11l5.2-10l5.3-9.2l5.4-8.4l5.6-7.6l5.6-7l5.7-6.4l5.9-5.7l7.9-7.3l2-1.1l87.9 13.3M413 806.3l1.5-3.9l3-12.9l3-11.8l4.7-15.1l3.2-8.8l5-11.9l3.3-7.3l5.2-10.2l5.3-9.3l5.3-8.8l5.5-8.1l5.6-7.6l5.7-6.9l5.7-6.4l5.9-5.8l6-5.3l10.1-8.4l2.1-.8l75.5 11.3M414.8 808.1l1.6-3.2l6-22.8l3.1-9.8l3.2-9l3.3-8.2l3.3-7.6l3.4-7.1l5.1-10l5.3-9.3l5.3-8.7l5.5-8.2l5.6-7.6l5.6-7.1l5.8-6.6l5.9-6l5.9-5.5l6.1-5l10.3-8.1l2.1-.7l69.1 10.4M416.6 809.7l1.6-2.7l6.1-20.8l3.1-9.4l3.2-8.6l3.3-7.9l5-11l3.4-6.7l5.2-9.6l5.3-9l5.4-8.5l5.4-8l5.6-7.5l5.7-7.1l5.8-6.5l5.9-6.1l6-5.5l8.1-6.7l12.5-9.4l2.1-.5l62.8 9.4M418.4 811.1l1.6-2.2l7.7-23.7l3.2-8.5l3.2-7.9l3.3-7.4l5.1-10.3l3.4-6.5l5.2-9.2l5.3-8.7l5.5-8.3l5.5-7.8l5.6-7.5l5.7-6.9l5.8-6.5l5.9-6.1l6-5.5l8.2-6.7l14.6-10.5l2.1-1.7l2.2-.4l56.3 8.4M422 813.5l1.6-1.4l1.6-3.5l7.8-20.5l6.5-14.5l3.4-6.7l5.1-9.5l8.7-14.7l5.3-8.3l5.5-8l5.5-7.6l5.6-7.3l5.8-6.9l5.8-6.6l5.9-6.1l6-5.6l6.1-5.3l6.2-4.8l6.3-4.4l12.8-8.4l4.4-3.3l2.2-.2l43.2 6.4M423.8 814.5l1.6-1.2l1.6-3l7.9-19l3.2-7.1l5-10.1l8.5-15.3l8.7-14.1l5.4-8l5.5-7.8l5.5-7.4l5.7-7.2l5.7-6.8l5.9-6.5l5.9-6l4-3.8l6.1-5.4l8.3-6.4l8.4-5.8l15.2-9.6l2.2-1.6l2.2-1.8l2.2-.1l36.6 5.4M425.5 815.4l1.6-.9l1.6-2.7l9.6-21l3.2-6.6l5-9.4l6.9-11.8l8.7-13.7l10.8-15.5l11.3-14.5l5.7-6.8l5.8-6.5l10-10l8.1-7.1l8.3-6.5l8.4-5.7l19.7-12l2.2-1.7l2.3-2l2.2 .1l29.9 4.4M427.2 816.2l1.6-.7l1.6-2.3l9.6-19.6l6.6-12.3l8.5-14.3l10.6-16l10.9-15l11.2-14.1l9.7-11l9.9-10.1l8.1-7.3l4.1-3.3l6.3-4.7l10.6-7l19.8-11.6l4.5-3.2l2.3-2.2l25.3 3.6M430.6 815.1l3.3-.1l1.6-2l11.4-20l8.4-13.6l10.4-15.3l10.8-14.5l9.2-11.7l9.5-11.2l9.7-10.6l8-7.9l10.2-8.9l4.1-3.3l6.3-4.5l6.4-4.2l6.5-3.8l20-10.2l4.5-2.6l4.6-3.2l2.4-2.1l2.3-2.7l11.7 1.7M432.3 814.5l3.3-.1l1.7-.3l11.4-18.7l6.7-10.4l8.6-12.4l8.8-12l11-13.9l11.3-13.4l9.6-10.7l10-9.9l8.1-7.3l6.2-5l6.3-4.6l6.3-4.1l6.5-3.8l6.5-3.4l18-8.2l6.9-3.6l2.3-1.5l2.3-1.9l2.4-2.5l2.4-3.5l4.7 .7M434 813.9l5-.2l1.6-.9l11.5-17.7l6.8-9.8l8.6-11.9l10.7-13.8l11.1-13.4l11.3-13l9.8-10.3l10-9.6l6.2-5.2l6.2-4.9l6.3-4.5l6.4-4.1l6.4-3.6l8.8-4.2l9-3.6l13.7-5l4.6-2.1l2.4-1.4l2.3-2l2.5-3.2M435.6 813.3l6.6-.3l1.7-1.3l11.5-16.8l10.3-13.9l10.6-13.4l12.8-15.4l11.3-12.8l11.7-12.3l10-9.5l8.1-7l8.4-6.3l8.5-5.4l8.6-4.7l8.8-3.9l8.9-3.1l9.1-2.2l4.6-.8l4.7-.3l2.3 0l2.3 .4M439 812.1l10-.4l15-19.1l10.5-12.6l14.4-16.6l15-16.4l11.6-11.9l10-9.4l10.2-8.5l8.4-6.1l6.3-4l4.3-2.4l4.3-2.2l4.4-1.9l4.4-1.7l4.4-1.3l4.5-1l4.5-.6l4.5-0l2.3 .3l2.3 .5l2.2 1l2.3 1.5l2.2 2.4l2.3 4M440.6 811.5l10-.4l1.7-.3l15.1-18.1l14.1-16.1l16.4-18l13.4-13.9l9.8-9.6l10-9l10.3-8.1l8.5-5.7l8.5-4.7l4.4-2l4.3-1.8l4.4-1.4l4.5-1l4.4-.6l2.3-.1l4.5 .4l2.3 .6l2.2 .9l2.3 1.4l2.2 2.1l2.2 3.1l2.2 5M442.5 819.6l1.4-8.7l10.1-.5l1.6-.3l15.3-17.3l14.1-15.4l16.5-17.5l13.4-13.5l9.9-9.4l10.1-8.7l8.2-6.4l8.4-5.6l8.6-4.7l4.3-2l4.4-1.7l4.4-1.3l4.4-.9l4.4-.4l2.3 .1l2.2 .2l2.3 .5l2.2 .8l2.3 1.2l2.2 1.8l2.2 2.5l2.2 3.7l2.2 5.7M444.1 819.7l1.6 .2l1.7-.4l1.6-.9l1.7-1.2l1.5-7.4l5-.2l1.7-.4l20.6-22l19.9-20.5l15.2-15.2l11.8-11l8-7l6.2-4.9l8.3-6l6.3-3.9l4.3-2.4l4.3-2l4.3-1.8l4.4-1.4l4.4-1l4.4-.5l4.5 .1l2.2 .4l2.2 .6l2.3 1l2.2 1.5l2.2 2l2.3 2.9l2.1 4.2l2.2 6.1M447.4 819.7l1.6 .2l1.7-.2l1.6-.6l1.7-.9l3.3-2.5l8.3-7.5l46.6-44.7l17.5-16l10-8.4l8.2-6.2l8.4-5.4l6.4-3.5l4.2-2l4.4-1.7l6.5-1.7l4.4-.6l2.2-0l4.4 .5l2.3 .6l2.2 .9l2.2 1.3l2.2 1.9l2.2 2.4l2.2 3.4l2.2 4.7l2.1 6.5M449 819.6l1.6 .3l1.7-.2l1.6-.5l3.3-1.8l3.3-2.5l11.8-10.4l47.2-43.5l15.7-13.7l8.1-6.5l8.3-5.9l8.4-5.1l6.3-3.3l4.3-1.8l4.4-1.4l4.3-1l2.2-.3l4.4-.1l2.2 .2l2.2 .4l2.2 .7l2.2 1.1l2.3 1.4l2.2 2l2.2 2.6l2.1 3.5l2.2 4.8l2.1 6.5M450.6 819.5l1.6 .3l1.7-.1l1.6-.4l3.3-1.6l5-3.5l13.6-11.5l45.6-40.5l13.8-11.8l8.1-6.3l8.2-5.8l8.4-5.1l6.4-3.2l4.3-1.7l4.3-1.4l4.3-.9l2.2-.3l4.4 0l2.2 .3l2.2 .5l2.2 .8l2.2 1.1l2.2 1.5l2.2 2.1l2.2 2.8l2.2 3.6l2.1 4.8l2.1 6.5M452.2 819.4l1.6 .3l1.7 0l1.6-.3l3.3-1.5l5-3.2l6.8-5.1l10.3-8.5l15.9-13.5l30.1-25.9l13.9-11.3l8.2-6l8.2-5.4l6.4-3.5l6.3-2.9l6.5-2.1l4.3-.9l2.2-.2l4.4 0l2.2 .4l2.2 .5l2.2 .9l2.2 1.2l2.2 1.6l2.2 2.2l2.1 2.8l2.2 3.7l2.1 4.9l2.1 6.3M455.4 819l3.3 .4l1.6-.1l1.7-.5l1.7-.6l3.3-1.7l5-3.1l10.2-7.3l14.1-10.7l39.3-31.6l12-9.1l8.1-5.7l6.2-3.8l6.3-3.4l6.4-2.7l6.4-2l4.3-.7l2.2-.1l4.4 .2l2.2 .4l2.1 .7l2.2 .9l2.2 1.4l2.2 1.7l2.2 2.3l2.1 2.9l2.2 3.8l2.1 4.8l2.1 5.9M457 818.8l3.3 .5l3.3-.5l1.7-.5l3.3-1.5l6.7-4l10.3-7l14.1-10.3l12.7-9.7l26.8-20.9l12-8.8l8.1-5.4l6.3-3.7l6.3-3.1l4.2-1.7l6.4-1.8l4.3-.7l2.2-.1l4.4 .3l2.1 .4l2.2 .7l2.2 1.1l2.2 1.3l2.2 1.8l2.1 2.3l2.2 3l2.1 3.7l2.1 4.7l2.1 5.7M458.6 818.5l3.3 .6l1.6-.1l3.4-.8l5-2.2l6.7-3.8l10.3-6.7l14.2-9.9l12.8-9.4l26.8-20.4l12-8.5l8.2-5.1l6.3-3.4l6.3-2.8l4.3-1.5l6.4-1.5l4.3-.3l2.2 .1l4.3 .8l2.2 .7l2.2 1.1l2.1 1.4l2.2 1.8l2.2 2.3l2.1 3l2.2 3.7l2.1 4.5l2.1 5.4M460.2 818.3l3.3 .6l1.6-0l3.4-.7l5-1.9l8.4-4.5l10.4-6.5l14.2-9.6l12.8-9.1l25-18.3l12-8.3l8.2-5l6.2-3.3l6.3-2.7l4.3-1.5l6.4-1.4l4.3-.2l2.2 .1l4.3 .8l2.2 .8l2.1 1.1l2.2 1.4l2.2 1.9l2.1 2.3l2.2 2.9l2.1 3.7l2.1 4.4l2.1 5.1M463.3 817.7l3.3 .7l1.6 0l1.7-.1l3.3-.7l3.4-1.1l3.3-1.4l6.8-3.4l12.2-6.8l14.3-8.9l12.9-8.6l23.2-15.9l12-7.7l6.2-3.6l6.2-3.1l6.3-2.6l4.2-1.4l6.4-1.2l4.3-.2l2.1 .2l4.4 .9l2.1 .8l2.2 1.2l2.1 1.4l2.2 1.9l2.1 2.3l2.2 2.9l2.1 3.5l4.2 8.6M464.9 817.3l3.3 .7l1.6 .1l1.7-.1l3.3-.5l3.4-1l3.3-1.3l8.5-4l12.2-6.6l14.4-8.6l11.1-7.1l25.1-16.6l10.1-6.3l6.1-3.4l6.2-3l6.3-2.6l4.2-1.3l6.4-1.2l4.3-.1l2.1 .2l4.3 1l2.2 .8l2.1 1.2l2.2 1.5l2.1 1.8l2.2 2.3l2.1 2.9l2.1 3.3l4.3 8.2M466.4 817l3.3 .7l3.3 .1l3.3-.4l3.4-.9l3.3-1.2l5.1-2.1l5.2-2.4l12.2-6.3l12.6-7.3l13-8l25.2-16.1l10.1-5.9l6.1-3.2l4.1-2l6.3-2.4l4.2-1.3l6.4-1.1l4.3-.1l4.3 .6l2.1 .7l2.2 .8l2.1 1.2l2.2 1.5l2.1 1.8l2.1 2.3l2.2 2.8l2.1 3.3l4.2 7.7M468 816.6l3.3 .7l1.6 .2l3.4-.1l3.3-.6l6.7-2l10.3-4.4l12.3-6.2l12.6-6.9l11.2-6.6l25.1-15.6l10.1-5.7l6.1-3.2l4.2-1.9l6.2-2.3l4.2-1.2l6.4-1.1l4.3-0l4.2 .6l2.2 .7l2.1 .8l2.2 1.2l2.1 1.5l2.2 1.8l2.1 2.3l2.1 2.7l2.1 3.1l4.3 7.3M471 815.9l4.9 1l3.4 .1l3.3-.4l6.7-1.7l5.1-1.7l5.2-2l12.3-5.5l14.4-7.3l11.2-6.1l25.2-14.5l10.1-5.3l6.2-2.8l4.1-1.7l6.3-2l4.2-.9l4.2-.5l2.1-.1l4.3 .4l4.2 1.1l2.2 .9l2.1 1.1l2.2 1.5l2.1 1.8l2.1 2.1l4.3 5.6l4.2 6.3M472.6 815.5l4.9 1.1l3.4 .1l3.3-.3l3.3-.6l5.1-1.4l10.3-3.6l12.3-5.3l12.7-6.1l13.1-6.9l23.3-12.9l10-5.1l6.2-2.8l4.1-1.6l6.3-1.9l4.2-.9l4.2-.4l2.1-.1l4.3 .4l4.2 1.1l4.3 2.1l2.1 1.4l2.2 1.8l2.1 2.1l2.1 2.5l6.3 8.7M474.1 815.1l3.3 .8l3.3 .4l5-.1l3.3-.6l5.1-1.2l10.3-3.3l12.3-5l12.7-5.8l13.1-6.6l25.2-13.4l10.1-4.9l6.2-2.5l4.1-1.4l4.2-1.2l4.2-.8l4.2-.4l2.1-.1l4.2 .4l4.3 1.2l4.3 2l2.1 1.4l2.1 1.8l2.1 2l2.2 2.4l6.3 8.3M475.6 814.7l3.3 .8l3.3 .5l3.3 0l3.4-.3l3.3-.5l5.1-1.2l10.4-3.3l12.3-4.8l12.7-5.6l11.2-5.4l25.3-12.9l10-4.7l6.2-2.5l4.1-1.3l4.2-1.2l4.2-.7l4.2-.4l2.1-0l4.2 .4l4.3 1.1l4.2 2.1l2.2 1.4l2.1 1.7l2.1 2l8.5 10M478.6 813.8l3.3 .8l3.3 .6l3.3 .2l3.4-.2l3.3-.4l5.1-.9l5.1-1.3l7-2.1l12.4-4.3l12.7-5.2l11.3-5l23.2-11l10.1-4.3l8.2-3l4.1-1.1l4.2-.9l4.2-.5l4.2-.1l4.2 .5l4.2 1.1l4.3 2l4.2 3l4.2 4.1l4.3 4.7l2.2-1.1M480.1 813.4l3.3 .9l3.3 .5l3.3 .3l3.4-.1l3.3-.4l5.1-.8l5.1-1.1l7-1.9l12.4-4.1l12.7-4.9l13.1-5.6l21.4-9.7l10-4.2l6.1-2.2l4.2-1.2l4.1-1l4.2-.6l4.2-.3l4.2 .2l4.2 .8l4.2 1.5l4.3 2.5l2.1 1.6l4.2 3.9l4.2 4.4l2.2 1.8M481.6 812.9l3.3 .9l3.3 .6l3.3 .3l3.3-.1l3.4-.2l5.1-.8l5.1-1l7-1.7l12.4-3.8l12.7-4.7l13.1-5.3l23.3-10.2l8.1-3.2l6.1-2l4.1-1.2l4.1-.9l4.2-.7l4.2-.2l4.2 .2l4.2 .8l4.2 1.6l4.2 2.4l2.1 1.5l2.1 1.8l6.4 6.2l2.1 1.6M483.1 812.5l6.6 1.5l3.3 .3l5-0l8.5-1l5.1-1l7-1.7l12.4-3.7l12.8-4.5l11.2-4.4l23.4-9.7l10-3.8l8.2-2.4l4.1-.8l4.2-.6l4.1-.2l4.2 .2l4.3 .8l4.2 1.6l4.2 2.3l2.1 1.5l8.4 7.5l2.2 1.5M486.1 811.6l4.9 1.3l3.3 .5l3.4 .3l3.3 0l8.5-.7l5.1-.8l7-1.4l12.4-3.2l12.8-4l11.2-4l23.2-8.8l10.1-3.5l8.1-2.2l4.1-.8l4.2-.5l4.1-.1l4.2 .3l4.2 .8l4.2 1.5l4.2 2.2l2.1 1.5l8.5 6.7l2.1 1.2M487.5 811.1l4.9 1.3l3.3 .6l6.7 .3l5.1-.2l5.1-.5l5.1-.8l7-1.4l12.5-3.1l12.8-3.8l11.2-3.9l21.4-7.8l10-3.2l8.1-2.1l4.1-.8l4.2-.5l4.1-.1l4.2 .3l4.2 .9l4.2 1.5l4.2 2.2l4.2 2.9l6.3 4.8l2.2 1M489 810.6l4.9 1.3l3.3 .6l3.4 .3l5 .2l5.1-.3l5.1-.6l10.4-1.7l12.5-2.9l12.7-3.6l11.3-3.6l23.3-8.1l8-2.5l8.1-2l4.1-.7l4.2-.4l4.1-.1l4.2 .4l4.2 .8l2.1 .7l4.2 1.7l2.1 1.2l10.5 7.3l2.2 .9M490.5 810.1l4.9 1.3l3.3 .6l3.4 .4l5 .2l5.1-.2l5.1-.4l10.4-1.6l12.4-2.7l12.8-3.4l11.2-3.4l23.3-7.7l8-2.3l8.1-1.9l4.1-.7l4.2-.4l4.1-0l4.2 .3l4.2 .9l2 .6l4.2 1.8l2.1 1.1l8.4 5.7l2.2 1.2l2.1 .8M493.4 809.2l8.2 2l3.3 .4l5.1 .4l5-.1l5.2-.3l10.4-1.2l12.4-2.3l12.8-2.9l11.2-3.1l23.2-6.9l8-2.2l8.1-1.6l4-.6l4.2-.3l4.1-0l4.1 .3l4.2 .9l4.2 1.4l4.2 2l8.4 5.1l2.1 1.1l2.2 .5M494.8 808.7l8.2 2l3.3 .5l5.1 .4l5 0l5.1-.2l12.2-1.4l12.5-2.1l12.8-2.9l11.2-2.9l21.3-6.1l8-2l8.1-1.6l4.1-.5l4.1-.3l4.1 0l4.1 .4l4.2 .9l4.2 1.3l4.1 2l8.4 4.9l2.2 .9l2.1 .4M496.3 808.2l8.2 2l3.3 .5l5.1 .5l5 .1l5.1-.2l12.2-1.1l12.4-2l12.8-2.7l11.3-2.8l21.2-5.7l10-2.3l8.1-1.4l6.2-.4l4.1 0l4.1 .4l6.3 1.5l2 .7l4.2 1.9l8.4 4.7l2.1 .8l2.2 .3M497.7 807.7l8.2 2l3.3 .6l5 .5l5.1 .1l5.1-.1l12.2-1l12.4-1.8l12.8-2.4l11.2-2.6l23.3-5.9l7.9-1.7l8.1-1.3l6.2-.4l4.1 .1l4.1 .4l6.2 1.4l6.3 2.6l8.4 4.4l2.1 .8l2.2 .2M500.6 806.7l8.2 2.1l3.3 .6l5 .5l5.1 .3l5.1 .1l12.1-.7l12.5-1.5l12.7-2.1l11.2-2.3l23.2-5.2l8-1.5l8-1.1l6.2-.3l6.1 .3l6.2 1.1l6.2 2.1l10.5 4.8l2.1 .6l2.2 .1M502 806.2l4.9 1.3l5 1.1l8.3 1.1l10.2 .2l10.4-.5l12.4-1.3l12.8-2l11.2-2.1l23.1-4.8l8-1.5l8-1l6.1-.2l6.2 .3l6.2 1.1l6.2 2.1l10.5 4.6l2.1 .5l2.2 0M503.4 805.7l9.9 2.4l8.3 1.2l10.2 .3l10.4-.4l12.4-1.1l12.8-1.8l11.1-2l23.2-4.5l7.9-1.4l8-.9l6.1-.2l6.2 .4l6.2 1.1l6.2 2l8.3 3.6l2.2 .7l2.1 .5l2.1-0M504.8 805.2l9.8 2.5l8.4 1.1l10.2 .5l12.1-.4l10.7-.9l12.7-1.6l11.2-1.8l23.1-4.3l7.9-1.2l8.1-.8l6-.2l6.2 .4l6.2 1.1l6.2 1.9l8.3 3.5l2.1 .7l2.2 .4l2.1-.1M507.6 804.2l9.8 2.5l8.4 1.3l10.2 .6l12.1-.1l10.6-.7l12.7-1.3l42.2-6.2l8-.7l6-.1l6.2 .4l4.1 .7l6.2 1.6l10.4 3.9l2.1 .5l2.1 .3l2.2-.2M509 803.7l9.8 2.5l8.4 1.3l10.1 .8l12.2-0l12.4-.7l12.7-1.3l40.3-5.5l8-.6l6-0l6.2 .4l4.1 .7l6.1 1.6l10.4 3.6l2.1 .6l2.2 .2l2.1-.2M510.4 803.3l9.8 2.5l8.4 1.4l10.1 .8l12.2 .2l12.4-.6l12.7-1.1l40.2-5.1l8-.5l6-0l6.1 .5l6.2 1.1l4.1 1.1l10.4 3.5l2.1 .5l2.1 .1l2.2-.2M511.8 802.8l9.8 2.5l8.4 1.5l10.1 .9l12.1 .2l12.4-.4l12.8-1l40.1-4.6l8-.5l6 0l6.1 .6l6.2 1.1l4.1 1.1l8.3 2.7l4.2 1l2.1 .1l2.2-.2M514.6 801.8l9.8 2.5l8.3 1.6l10.2 1l12.1 .5l12.4-.3l12.7-.7l40-3.7l8-.3l6 .1l6.1 .5l6.1 1.1l14.5 4.1l2.1 .4l2.2 0l2.1-.3M515.9 801.3l9.8 2.5l8.3 1.6l10.2 1.1l12.1 .6l8.8-.1l10.8-.3l12.8-.9l30.7-2.7l7.9-.3l8 .1l6.1 .6l6.1 1.1l14.5 4l2.1 .2l2.1 0l2.2-.3M517.3 800.8l9.8 2.5l6.6 1.4l8.5 1.1l8.5 .7l12.2 .3l14.3-.3l14.8-.8l26.7-2.1l7.9-.4l6-0l8.1 .5l6.1 .9l4.1 .9l12.4 3.3l2.1 .3l2.1-0l2.1-.4M380.8 648.2l3.8 45.3l2.6 17.5l2.5 14.6l2.4 12.5l2.3 10.7l2.2 9.2l2.2 8l2.1 6.9l4 11.4l2 4.6l3.9 7.6l3.8 6l3.6 4.6l1.9 1.9l3.5 3.1l1.8 1.3l3.5 2.1l1.7 .2l13.3-4.8l1.9 9l6.5-.1l4.8-.4l6.3-1l6.2-1.3l7.7-1.9l8.9-2.7l8.8-2.8l24-8.4M382.5 648.4l3.2 30.4l2.6 16.2l4.8 26.7l2.3 11.2l4.5 18.9l4.2 15l2.1 6.4l4 10.7l1.9 4.4l3.9 7.6l3.7 6l3.6 4.7l1.8 2l3.6 3.2l3.5 2.5l1.7 .6l11.6-4.1l1.9 8.6l3.2 .3l4.9-.1l4.8-.3l6.3-1l6.2-1.3l7.6-1.9l16.2-5.1l23.9-8.4M384.3 648.7l2.8 20.8l2.5 15.1l4.9 25.8l4.5 21.3l2.2 9.2l4.3 16.1l4.1 13.1l2 5.6l4 9.7l1.9 4.1l3.7 7l3.7 5.6l3.6 4.5l3.6 3.6l1.7 1.4l3.5 2.5l1.6-.4l8.3-3l1.8 7.9l4.9 .6l6.5 0l4.7-.4l6.3-.9l6.1-1.4l6-1.5l16.2-5l22.5-7.9M386.1 649l7.4 40.6l4.7 23l4.5 19.5l2.1 8.6l4.3 15.1l4 12.6l2 5.5l3.9 9.5l1.9 4.1l3.7 7.1l3.7 5.7l3.6 4.7l3.5 3.7l1.8 1.5l3.4 2.6l1.7 .2l6.6-2.3l1.8 6.7l3.3 .8l3.2 .4l6.4 .2l4.8-.3l6.2-.9l6.1-1.3l6-1.5l16.1-4.9l21.1-7.4M389.6 649.6l2 1.1l2.5 14l2.4 12.1l6.9 31.7l6.5 26.2l2.1 7.6l4.1 13.5l2 6l3.9 10.6l1.9 4.7l3.8 8.2l1.9 3.6l3.6 6.2l3.6 5.2l3.5 4.2l1.8 1.8l3.4 3.1l3.4 2.3l4.9-1.7l1.8 5.2l3.2 1l4.9 1l3.2 .4l4.7 .1l4.7-.3l4.6-.5l6.1-1.2l6-1.4l14.5-4.2l19.6-6.8M391.4 649.9l2-.3l2.3 10.2l7 33l4.4 19l6.4 24.6l6.1 20l2 5.7l3.9 10.2l1.9 4.5l3.8 7.9l1.8 3.5l3.6 6.1l3.6 5.1l3.5 4.2l3.5 3.4l5 3.9l3.3-1l1.7 3.8l3.3 1.3l4.9 1.3l4.7 .6l4.8 .2l4.6-.2l4.6-.5l6.1-1l5.9-1.3l7.3-2l7.2-2.2l18.1-6.2M393.2 650.1l2-.3l2.1 5.4l2.4 11.6l4.6 20.7l6.6 27.5l6.3 23.1l6 19l5.8 15.2l1.9 4.3l3.7 7.7l1.8 3.4l3.7 5.9l3.5 5l3.5 4.1l3.4 3.4l5.1 3.9l1.6-.3l1.6-.5l1.7 3.6l3.3 1.3l4.8 1.4l4.8 .7l4.7 .3l4.6-.2l4.6-.4l6-1l6-1.3l13-3.6l18.1-6M395 650.4l2-.3l2 .6l4.6 22.2l4.5 19.4l4.4 17.6l6.3 23.3l4 13.3l4 11.6l5.7 14.5l5.6 11.6l5.4 9l5.2 7l3.5 3.6l3.4 3.1l3.3 2.4l1.6-.2l1.7 2.2l3.3 1.5l4.8 1.7l4.8 .9l4.7 .5l4.6 0l4.6-.3l6-.8l5.9-1.2l7.3-1.8l7.2-2l16.7-5.5M398.7 651l3.9-.7l2.1 4.5l6.8 28.8l4.3 17.2l4.2 15.9l6.1 20.9l4 12.1l3.9 10.5l5.6 13.4l5.5 10.7l5.3 8.4l5.2 6.6l3.4 3.5l3.3 3l3.3 2.3l3.3 2l3.2 1.5l4.8 1.7l4.8 1l4.6 .5l4.6 .1l4.6-.2l5.9-.7l5.9-1.1l5.8-1.3l7.1-1.9l15.3-4.8M400.5 651.3l3.9-.7l2 .3l2.3 10.5l6.6 26.9l4.3 16.4l4.1 15.2l6.1 19.9l3.9 11.5l3.8 10.1l5.6 12.8l5.4 10.3l5.3 8.1l5.1 6.4l3.4 3.5l3.3 2.8l3.3 2.3l3.3 1.9l3.2 1.6l4.8 1.6l4.7 1.1l4.6 .5l4.6 .1l4.5-.2l4.5-.4l5.9-1l5.8-1.2l7.1-1.8l15.2-4.7M402.3 651.6l5.9-1l2.2 7.4l6.5 26.5l6.4 24l6.1 21.1l5.9 17.9l5.7 15l3.7 8.5l3.7 7.4l5.3 9.1l3.5 5.1l3.4 4.3l3.4 3.6l3.3 3.1l3.3 2.5l3.3 2.1l3.2 1.7l4.8 1.8l4.7 1.3l4.6 .7l4.6 .3l4.5-.1l4.5-.4l5.9-.8l5.7-1.1l7.2-1.7l15.2-4.5M404.1 651.9l5.9-1l2 3.8l6.6 26.2l8.4 31.1l6 20.1l5.9 17.2l5.6 14.4l3.7 8.1l3.6 7.1l5.3 8.8l3.4 4.9l3.5 4.2l3.3 3.5l3.3 3l3.3 2.4l4.9 2.9l3.2 1.5l4.7 1.6l3.1 .8l4.6 .7l4.6 .3l4.5-0l4.4-.4l5.9-.8l5.7-1l7.1-1.7l13.8-4M407.8 652.5l7.8-1.3l2.1 6.5l8.6 32.2l6.2 21.9l5.9 19.4l5.8 16.6l5.6 14l3.6 8l3.6 7l5.3 8.8l3.4 5l3.4 4.2l3.3 3.6l3.3 3l3.3 2.6l4.8 3l3.2 1.6l4.7 1.8l3.1 .9l4.6 .8l4.5 .5l4.5 .1l4.4-.2l5.9-.7l5.7-.9l5.6-1.2l13.8-3.7M409.7 652.8l7.8-1.3l2 3.2l8.6 31.9l8.1 28.5l5.9 18.6l5.7 15.9l5.6 13.5l3.6 7.7l3.5 6.7l5.2 8.5l3.5 4.7l3.3 4.1l3.3 3.5l3.3 3l3.3 2.5l4.8 2.9l3.1 1.6l4.7 1.7l3.1 .9l4.6 .8l4.5 .5l4.4 .1l4.5-.2l5.8-.6l5.7-1l5.6-1.1l12.4-3.3M411.6 653.1l9.7-1.7l4.3 16.8l10.4 36.8l7.9 25.4l5.7 16.2l5.5 13.7l3.6 7.8l3.6 6.9l3.5 6.1l3.4 5.3l3.4 4.5l3.4 4l3.3 3.3l3.2 2.9l3.2 2.4l3.2 2.1l3.2 1.6l4.7 2l3.1 .9l4.5 1l4.6 .6l4.4 .2l4.4-.1l5.8-.5l5.7-.8l5.7-1.1l12.3-3.1M413.4 653.4l9.7-1.7l2.1 5.9l10.4 37.3l6.1 20.2l5.8 17.9l5.6 15.5l5.5 13.1l3.6 7.6l3.5 6.6l5.2 8.5l3.4 4.7l3.3 4.1l3.3 3.5l3.3 3.1l3.2 2.5l3.2 2.2l3.2 1.8l4.7 2.1l3 1l4.6 1.2l4.5 .6l4.5 .4l4.4-0l5.8-.4l5.7-.7l5.6-1l12.4-3M417.2 654l11.6-2l2.2 8.1l4.1 14.6l10.1 34.2l5.8 18l5.7 15.8l5.5 13.6l3.5 7.9l3.6 6.9l3.4 6.2l3.4 5.4l3.4 4.7l3.3 4.2l3.3 3.5l3.3 3.1l3.2 2.6l3.1 2.2l3.2 1.9l4.6 2.2l3.1 1.1l4.6 1.3l4.4 .8l4.5 .4l4.4 .1l4.3-.2l5.7-.5l5.6-.8l5.5-1.1l6.9-1.6M419.1 654.3l11.6-2l2.1 5.3l10.2 35.2l6 19.3l5.7 17.4l5.6 15.3l5.4 13l3.6 7.6l3.5 6.7l3.4 5.9l3.4 5.2l3.4 4.6l3.3 4l3.2 3.4l3.2 3l3.2 2.5l3.2 2.2l3.1 1.8l4.6 2.1l3.1 1.1l4.5 1.2l4.5 .8l4.4 .4l4.4 .2l4.3-.2l4.3-.4l5.6-.7l5.5-1l6.8-1.6M421 654.6l11.6-2l2 2.4l10.2 34.9l6 19.3l7.6 22.9l5.5 14.6l5.4 12.5l3.5 7.3l3.5 6.5l3.4 5.7l3.4 5l3.3 4.4l3.3 3.9l3.2 3.3l3.2 2.9l3.2 2.4l3.1 2.1l3.1 1.8l4.6 2.1l3.1 1l4.5 1.2l4.4 .8l4.4 .4l4.4 .1l4.3-.1l9.8-1.1l10.9-2.2M422.9 654.9l13.5-2.4l10.3 34.7l7.8 25.2l5.7 16.9l5.5 14.8l5.4 12.7l3.5 7.4l3.5 6.6l3.4 5.9l3.3 5.2l3.4 4.5l3.2 4l3.3 3.5l3.2 3l3.2 2.5l3.1 2.2l3.1 1.9l4.6 2.2l3.1 1.2l4.5 1.3l4.4 .9l4.4 .5l4.3 .2l4.3-.1l4.3-.2l5.5-.7l11-2.1M426.7 655.5l13.5-2.4l2 2.2l10.1 33.1l7.7 24.4l5.6 16.3l5.5 14.4l5.3 12.4l3.5 7.3l3.4 6.5l3.4 5.8l3.4 5.1l3.3 4.5l3.2 4l3.3 3.5l3.1 3l3.2 2.6l3.1 2.3l3.1 1.9l4.6 2.3l3 1.2l4.5 1.4l2.9 .7l4.4 .7l4.3 .4l4.3 .1l4.3-.1l5.5-.5l10.9-1.8M428.6 655.8l15.4-2.8l10.1 32.8l7.7 24.3l7.5 21.4l5.4 13.9l5.3 12l3.4 7l3.4 6.3l3.4 5.5l3.3 5l3.3 4.4l3.2 3.8l3.2 3.4l3.2 2.9l3.1 2.6l3.1 2.1l6.1 3.5l3.1 1.3l4.4 1.5l3 .8l4.4 .8l4.3 .4l4.3 .2l4.2-0l5.6-.5l5.5-.7l5.4-.9M430.6 656.1l15.4-2.8l2 4.5l11.9 37.8l5.7 17.5l5.6 15.9l5.4 14l5.3 12.1l3.4 7.1l3.4 6.4l3.4 5.8l3.3 5.1l3.3 4.5l3.2 3.9l3.2 3.5l3.2 3.1l3.1 2.6l3.1 2.3l6.1 3.6l3 1.4l4.5 1.6l3 .9l4.3 .9l4.4 .5l4.2 .3l4.3 0l5.5-.3l5.5-.6l5.4-.9M432.5 656.4l15.4-2.8l2 1.9l11.8 37.6l5.7 17.4l7.4 20.8l5.3 13.5l5.3 11.8l3.4 6.9l3.4 6.1l3.3 5.6l3.3 4.9l3.3 4.3l3.2 3.9l3.2 3.3l3.1 3l3.1 2.6l3.1 2.2l6.1 3.5l3 1.3l4.4 1.6l3 .8l4.3 .9l4.3 .6l4.3 .2l4.2 0l5.5-.3l9.5-1.2M436.4 657l17.3-3.1l2 4.1l11.7 36.1l7.4 22.2l5.5 14.9l5.3 13.2l5.2 11.4l3.4 6.8l3.3 6.1l3.4 5.4l3.2 4.9l3.3 4.3l3.1 3.9l3.2 3.4l3.1 2.9l3.1 2.6l3.1 2.3l6 3.5l3 1.4l4.4 1.7l3 .9l4.3 .9l4.3 .7l4.2 .3l8.3-.1l9.5-1M438.4 657.3l17.3-3.2l1.9 1.7l17.3 52.8l7.3 20.2l5.3 13.3l3.5 7.9l3.4 7.2l3.4 6.6l3.3 5.8l3.3 5.3l3.2 4.7l3.2 4.2l3.2 3.7l3.1 3.3l3.2 2.9l3 2.5l3.1 2.2l6 3.5l3 1.3l4.4 1.6l2.9 .9l4.3 .9l7 .9l8.4 0l9.4-.9M440.4 657.7l19.2-3.5l19.1 57.4l7.2 19.6l5.2 12.8l5.2 11.3l3.4 6.6l3.3 6l3.3 5.4l3.2 4.8l3.2 4.3l3.2 3.8l3.1 3.4l3.1 3l3.1 2.6l3.1 2.3l6 3.6l2.9 1.5l4.4 1.7l2.9 .9l4.3 1.1l7.1 .9l8.3 .2l9.5-.7M442.3 658l19.2-3.5l1.9 3.8l13.4 40.2l7.3 20.9l5.4 14l5.2 12.4l5.1 10.8l3.3 6.5l3.3 5.8l3.3 5.2l3.2 4.6l3.2 4.2l3.1 3.7l4.7 4.8l3.1 2.7l3 2.4l6 3.8l3 1.5l4.4 1.9l2.9 .9l4.3 1.2l7 1.1l8.3 .3l9.5-.6M446.3 658.6l21-3.9l18.9 55l7.1 19.2l5.2 12.6l6.8 14.5l3.3 6.3l3.2 5.7l3.3 5.2l3.2 4.6l3.1 4.1l3.2 3.7l4.6 4.8l6.1 5.1l5.9 3.9l3 1.6l4.3 1.9l2.9 1l4.3 1.2l7 1.2l8.3 .5l8-.4M448.3 658.9l21-3.9l1.9 3.5l13.2 38.6l7.3 20.3l5.2 13.6l5.2 12.3l6.7 14l3.3 6.1l3.3 5.5l3.2 5l3.2 4.5l3.1 4l3.1 3.6l3.1 3.2l3 2.8l6 4.7l5.9 3.5l5.8 2.6l2.9 1l4.3 1.2l6.9 1.1l6.9 .5l8.1-.3M450.3 659.3l21-3.9l1.9 1.2l18.6 53.8l7.1 18.6l5.1 12.3l6.7 14.2l6.6 11.8l3.2 5.1l3.1 4.6l3.2 4.1l3.1 3.7l6.1 6.2l6 4.8l5.9 3.7l5.8 2.8l2.9 1l4.2 1.3l7 1.3l6.8 .5l8.1-.1M452.4 659.6l22.9-4.3l20.3 57.8l7 18l5.1 11.9l6.7 13.8l6.5 11.5l3.1 4.9l3.2 4.5l3.1 4l3.1 3.5l6.1 6l6 4.7l5.8 3.6l5.8 2.7l5.7 1.9l6.9 1.4l6.9 .7l8-0M456.4 660.2l22.8-4.3l1.9 1.1l13 36.9l7.1 19.6l7 17.6l5 11.6l6.6 13.5l6.4 11.3l6.3 9.3l6.2 7.6l4.5 4.6l6 5.1l5.8 3.9l5.8 2.9l5.6 2.1l7 1.8l6.8 .9l8 .2M458.5 660.5l24.7-4.7l20.1 55.6l6.9 17.6l5 11.8l6.6 13.6l6.4 11.5l6.3 9.5l3.1 4l4.6 5.4l4.5 4.5l5.9 4.9l5.8 3.8l5.8 2.9l5.6 2.1l6.9 1.7l6.8 .8l6.6 .2M460.5 660.9l24.7-4.7l1.8 3l18.2 50.3l5.2 13.4l5.1 12.2l5 11l4.8 9.7l4.8 8.6l6.3 9.6l6.2 7.9l6 6.4l5.9 5.1l2.9 2.1l4.3 2.7l2.9 1.5l4.2 1.8l7 2.3l4.1 .8l4.1 .6l8 .5M462.6 661.2l24.6-4.7l1.9 .9l18.1 50.1l5.2 13.4l5.1 12.3l5 11l4.8 9.9l4.8 8.6l6.3 9.9l6.1 8.1l6 6.5l5.9 5.2l3 2.2l4.3 2.8l2.8 1.6l4.3 2l6.9 2.3l4.1 1l4.1 .6l8 .6M466.7 661.9l26.5-5.1l1.8 2.8l17.9 48.6l5.2 13.1l5 12l4.9 10.8l4.9 9.7l4.7 8.5l6.2 9.7l6.1 8l6 6.6l5.8 5.2l2.9 2.2l4.3 2.9l2.9 1.6l4.2 2l6.9 2.4l6.7 1.5l8 .9M468.8 662.2l26.4-5.1l1.9 .7l17.9 48.5l5.1 13.1l5 12.1l4.9 10.9l4.9 9.7l4.7 8.6l6.2 9.9l6.1 8.2l5.9 6.7l5.9 5.4l2.9 2.3l4.3 2.9l2.8 1.7l4.2 2.1l6.9 2.6l6.8 1.6l7.9 1M470.9 662.5l28.3-5.5l19.5 51.9l5.1 12.8l5 11.7l4.9 10.6l4.8 9.5l4.7 8.3l6.1 9.6l6.1 8l5.9 6.5l5.8 5.3l5.7 4.2l2.8 1.7l4.2 2.2l6.9 2.7l6.8 1.8l4 .7l3.9 .4M473 662.9l28.2-5.5l1.9 2.6l17.7 47.2l5 12.8l5 11.7l4.9 10.7l4.8 9.5l4.7 8.5l6.1 9.8l6 8.1l6 6.7l5.8 5.4l5.7 4.3l2.8 1.8l4.2 2.3l6.9 2.9l6.7 1.9l4 .7l3.9 .5M477.2 663.5l30-5.9l1.8 4.4l17.6 46l5 12.5l4.9 11.4l4.8 10.5l4.8 9.4l4.6 8.3l6.1 9.6l6 8.1l5.9 6.6l5.7 5.5l5.7 4.3l5.6 3.4l6.8 3.2l6.7 2.1l4 .9l3.9 .6M479.3 663.9l30-6l1.8 2.6l17.5 45.9l6.7 16.4l4.8 11.2l4.8 10.1l4.7 9.2l4.6 8.1l4.6 7.1l6 8.3l5.8 6.8l5.8 5.5l5.6 4.5l5.6 3.5l6.8 3.3l6.7 2.3l4 .9l3.9 .7M481.4 664.2l30-6l1.8 .5l3.6 9.9l13.8 36.1l5 12.5l4.9 11.5l4.8 10.6l4.8 9.5l4.6 8.6l6.1 9.9l5.9 8.3l5.9 7l5.7 5.7l5.7 4.6l5.5 3.6l6.9 3.5l6.7 2.4l3.9 1l3.9 .7M483.6 664.6l31.8-6.4l1.8 4.3l17.3 44.9l4.9 12.2l4.9 11.3l4.7 10.3l4.7 9.3l4.6 8.3l6.1 9.6l5.9 8.1l5.8 6.8l5.7 5.5l5.6 4.5l5.5 3.6l6.8 3.3l6.7 2.3l6.5 1.5M487.9 665.2l31.7-6.4l1.8 .3l3.6 9.9l12 31.1l6.6 16.4l4.8 11.3l4.8 10.4l4.6 9.5l4.6 8.5l6 9.9l5.9 8.3l5.8 7.1l5.7 5.8l5.6 4.7l5.5 3.8l6.8 3.6l6.6 2.6l6.5 1.6M490 665.6l33.5-6.8l1.8 4.1l17 44.2l4.9 11.9l4.8 11.1l4.7 10.1l4.7 9.2l4.5 8.3l6 9.6l4.4 6.2l5.8 7.2l5.7 5.9l5.5 4.9l5.5 3.9l6.8 3.7l6.6 2.7l6.5 1.7M492.2 665.9l33.5-6.8l1.8 2.3l5.2 13.9l11.8 30.3l6.5 15.8l4.7 10.8l4.7 9.9l4.6 8.9l4.5 8.1l4.5 7.1l4.4 6.4l5.7 7.2l5.7 6.1l5.6 5l5.5 4l6.7 3.8l6.6 2.8l6.5 1.9M494.4 666.3l33.5-6.9l1.7 .3l3.5 9.8l11.9 30.7l6.5 16.1l4.8 11.2l4.7 10.2l4.6 9.4l4.5 8.4l6 9.8l4.4 6.5l5.7 7.3l5.7 6.2l5.5 5.1l5.5 4.1l6.7 4l6.6 2.9l6.5 1.9M498.8 667l35.2-7.3l1.7 2.2l5.2 14.1l10 25.8l6.5 15.9l4.7 10.9l4.6 10.1l4.6 9.2l4.5 8.2l5.9 9.7l4.3 6.4l5.7 7.3l5.6 6.1l5.6 5l5.4 4.1l6.7 4l5.2 2.3l6.5 2.2M501 667.3l35.2-7.3l1.7 .1l3.5 10l8.4 22l6.5 16.6l6.4 15.2l6.1 13.7l4.6 9.3l4.5 8.3l5.9 9.8l4.3 6.4l5.7 7.4l5.6 6.2l5.5 5.2l5.4 4.1l6.7 4.1l5.2 2.5l6.4 2.2M503.2 667.7l36.9-7.7l1.7 4l5.1 13.9l9.9 25.7l9.5 22.9l4.7 10.2l4.5 9.3l4.5 8.5l5.8 9.9l4.4 6.5l5.6 7.5l5.6 6.3l5.5 5.2l5.4 4.2l6.7 4.2l5.2 2.5l6.4 2.3M505.4 668l36.9-7.7l1.7 2.1l3.4 9.7l10 26.2l6.4 16.1l6.2 14.7l4.6 9.9l4.5 9.1l4.4 8.2l4.4 7.4l4.3 6.6l5.7 7.6l5.6 6.3l5.4 5.3l5.4 4.4l6.7 4.2l5.2 2.6l6.4 2.4M509.9 668.8l38.6-8.2l1.7 4.1l5 14.3l8.2 21.6l9.4 23.4l4.6 10.4l4.5 9.6l4.4 8.6l5.9 10.2l4.2 6.7l5.7 7.8l5.5 6.5l5.5 5.5l5.4 4.5l6.6 4.4l5.2 2.7l6.3 2.5M512.2 669.1l38.5-8.2l1.8 2.2l3.3 10l8.2 22.4l6.3 16.4l6.2 15l4.6 10.2l4.5 9.3l4.4 8.5l5.8 9.9l4.2 6.5l5.6 7.5l5.5 6.3l5.4 5.3l5.4 4.3l5.2 3.5l5.2 2.7l6.4 2.6M514.4 669.5l38.5-8.2l1.8-.2l1.6 5.9l6.6 18.9l8 21.4l6.2 15.5l4.6 10.6l4.5 9.7l4.4 8.8l5.8 10.4l4.3 6.8l5.6 7.9l5.5 6.6l5.4 5.6l5.4 4.6l6.5 4.5l5.2 2.8l6.4 2.6M516.7 669.8l40.2-8.7l1.7 4.3l4.9 14.9l6.5 17.9l6.3 16.4l4.6 11.4l4.5 10.4l4.4 9.4l4.4 8.6l5.8 10.1l4.2 6.6l5.6 7.6l5.5 6.5l5.4 5.3l5.3 4.4l5.2 3.6l5.2 2.8l6.3 2.6M521.3 670.6l41.9-9.1l1.6 6.5l4.9 15.2l6.3 18.3l6.2 16.5l6.1 14.9l4.4 10l4.4 9l5.7 10.6l4.3 7l5.5 8l5.5 6.8l5.4 5.6l5.3 4.7l6.6 4.6l5.1 2.8l6.3 2.6M523.6 670.9l41.8-9.1l1.7 4.5l3.2 11l6.4 19.2l4.7 13.2l4.5 12.2l4.6 11.1l4.4 10.1l4.4 9.1l5.7 10.7l4.2 7l5.6 8l5.4 6.8l5.4 5.7l5.3 4.6l6.5 4.6l5.2 2.8l6.3 2.6M525.9 671.3l41.8-9.2l1.7 2.4l3.2 11.8l4.8 15.2l6.2 18.2l6.1 16.3l4.4 10.9l4.4 9.9l4.3 8.8l5.7 10.4l4.2 6.7l5.5 7.7l5.5 6.5l5.3 5.4l5.3 4.4l5.2 3.5l5.1 2.7l6.3 2.6M528.2 671.7l43.5-9.6l1.6 7.2l4.7 16.7l4.7 14.8l6.1 17.7l4.5 11.8l5.9 14.1l4.3 9.2l5.7 10.8l4.2 7.1l5.6 8l5.4 6.8l5.4 5.5l5.2 4.6l5.2 3.7l6.4 3.5l6.3 2.5M532.8 672.4l43.4-9.7l1.7 2.7l3.1 13.6l3.1 11.6l4.6 15.5l6 18.2l4.4 11.9l4.4 10.6l4.3 9.4l5.7 10.8l4.1 7l5.5 7.9l5.4 6.6l5.4 5.3l5.2 4.4l5.2 3.4l6.4 3.3l6.3 2.3M535.2 672.8l45.1-10.1l1.5 8.5l1.5 7l3.1 12.4l4.6 16.3l4.5 14.4l4.4 12.7l4.4 11.2l4.3 9.9l5.6 11.3l4.2 7.2l5.5 8.1l5.5 6.7l5.3 5.5l5.3 4.4l2.6 1.9l3.9 2.4l6.3 3.1l6.3 2.1M537.5 673.2l45-10.1l1.6 6.2l3 15l3.1 12.6l3 11.3l4.4 14.9l4.4 13.1l4.4 11.4l4.3 9.9l5.6 11.1l4.2 7.1l5.5 8l5.4 6.4l5.3 5.3l5.3 4.2l2.6 1.7l3.9 2.3l6.4 2.8l6.2 2M539.9 673.5l45-10.2l1.6 3.4l1.5 9.3l1.5 7.9l3 13.9l3 12l4.4 15.7l4.4 13.5l4.3 11.4l4.3 9.9l4.2 8.4l4.2 7.3l5.5 8l5.4 6.5l5.4 5.2l5.2 4.1l2.7 1.7l3.8 2.2l6.4 2.9l3.8 1.2l3.8 1M544.7 674.3l46.6-10.6l1.4 9l1.5 11.2l2.8 17.8l2.9 14.4l2.9 12.1l2.9 10.4l4.3 13l4.3 10.6l4.2 8.7l4.2 7.2l2.8 4.1l2.8 3.6l5.5 6.1l5.4 4.8l2.6 2l4 2.5l6.5 3.4l3.9 1.5l3.8 1.2l7.5 1.7M547.1 674.7l46.5-10.7l1.6 5.5l1.3 14.8l1.4 11.6l1.4 9.8l1.4 8.6l2.8 14.3l2.9 11.5l2.9 9.6l4.2 11.6l4.3 9.1l4.3 7.3l2.8 4.1l2.7 3.5l4.2 4.6l1.4 .1l1.4-.6l1.3 4.3l4.1 3.2l6.6 4.2l6.6 3.1l7.7 2.6l3.8 .9l5 1"/><path class="md" d="M391.3 760.6l.8-22.5l1.1-16.4l1.3-11.3l1.4-8.8l1.5-7.3l3.1-11.8l3.2-9.5l3.3-8l6.8-13.9l1.9 .1l138.9 21.8M401.7 791.3l2.5-24.4l1.3-9.9l1.5-8.4l1.4-7.4l3.1-12.5l1.5-5.5l3.3-9.8l3.3-8.6l3.3-7.8l3.4-7.1l5.3-9.5l3.5-5.7l5.5-7.8l5.5-6.9l3.8-4.4l1.9-2l112 17.3M411.2 804.4l1.5-4.8l2.9-14.2l3-12.5l4.7-15.7l3.2-9.1l4.9-12.2l3.4-7.4l5.2-10.2l5.3-9.5l5.3-8.7l5.5-8l5.6-7.4l5.7-6.8l5.8-6.2l5.9-5.6l10-8.7l2-1l81.8 12.4M420.2 812.4l1.6-1.8l9.4-25.9l3.2-7.9l3.3-7.3l6.7-13.6l8.6-15.3l5.3-8.6l5.5-8.1l5.5-7.8l5.6-7.5l5.7-7l5.8-6.6l5.9-6.2l6-5.7l6-5.2l6.2-4.8l14.8-10.2l4.3-3.2l2.2-.3l49.8 7.4M428.9 815.7l1.6-.1l1.7-1.2l1.6-2.7l9.7-18.4l6.6-11.7l5.1-8.2l5.2-7.9l10.7-15.2l11-14.5l9.4-11.5l9.7-10.8l10-9.9l6.1-5.4l8.2-6.6l6.3-4.5l10.7-6.7l17.7-9.7l4.5-2.7l4.6-3.5l2.3-2.4l18.6 2.7M437.3 812.7l8.3-.4l1.6-1.7l13.4-18l10.4-13.2l14.3-17.2l13-14.8l11.6-12.3l9.8-9.7l10.2-9l8.3-6.4l6.3-4.4l4.2-2.6l8.7-4.6l8.7-3.8l4.5-1.4l4.5-1.3l6.7-1.1l4.6-.2l2.3 .1l2.3 .4l2.3 .8l2.3 1.5l2.2 2.5M445.7 819.7l1.6 .2l1.7-.3l1.6-.7l1.7-1.1l4.9-4.2l1.6-4.4l1.7-.1l1.7-.4l22.5-22.7l22-21.8l13.4-12.9l9.9-8.9l8-6.8l6.2-4.7l8.3-5.8l6.4-3.7l4.3-2.2l4.3-1.8l4.3-1.6l4.4-1.1l4.4-.7l2.2-.1l4.5 .3l2.2 .5l2.2 .8l2.2 1.2l2.3 1.7l2.2 2.2l2.2 3.2l2.2 4.5l2.1 6.3M453.8 819.2l1.6 .3l1.7 .1l1.6-.3l1.7-.5l3.3-1.6l5-3.2l8.5-6.2l12.1-9.7l14.4-11.7l28.4-23.7l13.9-10.9l8.2-5.8l6.2-3.9l6.3-3.4l6.4-2.8l6.4-2.1l4.3-.8l2.2-.1l4.4 .1l2.2 .4l2.2 .6l2.2 .9l2.1 1.3l2.2 1.7l2.2 2.2l2.2 2.9l2.1 3.8l2.2 4.8l2.1 6.1M461.7 818l3.3 .6l1.6 .1l1.7-.2l3.3-.8l5-2l8.5-4.4l12.2-7.3l12.5-8.2l12.9-8.8l25-17.8l12.1-7.9l6.1-3.6l6.3-3.3l6.3-2.6l4.2-1.4l6.4-1.4l4.3-.2l2.2 .2l4.3 .9l2.1 .8l2.2 1.1l2.2 1.4l2.1 1.9l2.2 2.3l2.1 3l2.2 3.5l2.1 4.3l2.1 4.8M469.5 816.3l4.9 1l3.4-0l3.3-.5l6.7-1.9l10.3-4l12.3-5.8l12.6-6.7l13-7.4l23.3-13.9l10-5.6l6.2-3l4.1-1.8l6.2-2.3l4.2-1.2l6.4-.9l4.3-.1l4.2 .7l2.2 .7l2.1 .8l2.2 1.2l2.1 1.5l2.1 1.8l2.2 2.2l2.1 2.6l2.1 3.1l4.2 6.8M477.1 814.3l3.3 .8l3.3 .6l3.3 .1l3.4-.3l3.3-.4l5.1-1.1l10.3-3l12.4-4.5l12.7-5.4l13.1-6l23.3-11.5l10.1-4.5l6.1-2.4l4.1-1.3l4.2-1.1l4.2-.7l4.2-.4l4.2 .2l4.2 .7l4.3 1.6l4.2 2.5l2.1 1.7l4.3 4.2l4.2 5l2.2 .9M484.6 812l4.9 1.2l3.3 .6l3.4 .2l3.3-0l8.5-.9l5.1-.9l7-1.6l12.4-3.4l12.8-4.2l11.2-4.2l23.3-9.3l10-3.6l8.2-2.3l4.1-.8l4.2-.6l4.1-.2l4.2 .3l4.2 .9l4.2 1.5l4.3 2.3l2.1 1.4l8.4 7.2l2.2 1.2M491.9 809.7l4.9 1.3l3.3 .7l3.3 .4l5.1 .2l5-.1l5.2-.4l10.4-1.4l12.4-2.4l12.8-3.2l11.2-3.2l23.3-7.3l7.9-2.3l8.2-1.8l4-.6l4.2-.3l4.1-.1l4.2 .4l4.1 .9l2.1 .6l4.2 1.7l2.1 1.1l8.4 5.4l2.1 1.2l2.2 .6M499.1 807.2l8.2 2.1l3.3 .5l5 .6l5.1 .2l5.1-0l12.2-.9l12.4-1.6l12.8-2.3l11.2-2.4l23.2-5.6l7.9-1.6l8.1-1.2l6.2-.3l6.1 .2l6.2 1.1l6.3 2.2l10.4 5.1l2.2 .7l2.1 .1M506.2 804.7l9.8 2.5l8.4 1.2l10.2 .6l12.1-.3l10.7-.8l12.7-1.4l11.1-1.7l23.1-4l7.9-1.1l8.1-.8l6-.1l6.2 .4l6.1 1.1l4.2 1.2l10.4 4l2.1 .7l2.1 .3l2.2-.1M513.2 802.3l9.8 2.5l8.3 1.5l10.2 1l12.1 .3l12.4-.3l12.7-.8l40.1-4.2l8-.4l6 .1l6.1 .5l6.2 1.1l4.1 1.1l10.3 3.2l2.2 .4l2.1 0l2.1-.3M379 647.9l6.1 101.9l2.3 8.8l2 2.5l3.7-1l2.6 19.9l4 7.9l3.9 6.5l3.8 5.5l3.7 4.5l3.7 3.7l3.6 3l3.6 2.4l5.2 2.7l13.4-4.6l1.8 8l4.9 .1l6.5-.5l6.3-.9l6.3-1.3l7.7-1.9l9-2.6l8.8-2.8l25.4-8.9M387.9 649.3l2.2 7.1l4.9 26.3l6.9 32.4l4.4 18.1l2.2 8l4.1 14.3l2 6.3l4 11.1l1.9 4.8l3.9 8.5l1.8 3.6l3.7 6.4l3.6 5.2l3.5 4.2l1.8 1.8l3.5 3l1.7 1.3l1.7 .7l6.5-2.4l1.8 6.6l3.3 .8l3.2 .5l3.2 .3l4.8 0l4.7-.3l6.1-.9l6.1-1.3l6-1.5l14.6-4.4l19.5-6.9M396.8 650.7l3.9-.7l2.3 8.6l4.5 19.9l4.4 18.2l6.4 24.5l6.1 20.7l5.9 17.2l5.7 14l5.5 11.1l5.4 8.7l5.2 6.8l3.4 3.6l3.4 3l3.3 2.4l3.3 1.9l3.3 1.6l4.8 1.6l4.7 1l4.7 .5l4.6 .1l4.6-.3l6-.7l5.9-1.1l5.8-1.4l7.2-1.9l16.6-5.4M406 652.2l5.9-1l1.9-.1l2.2 9.6l4.4 16.8l8.4 30.8l4 13.8l4 12.5l5.7 16.5l5.6 13.7l3.7 7.8l3.5 6.8l5.3 8.5l3.4 4.8l3.4 4l3.3 3.4l3.3 2.9l3.3 2.4l4.8 2.8l3.2 1.5l4.7 1.6l3.1 .7l4.6 .8l4.5 .3l4.5-.1l4.5-.3l5.8-.7l5.7-1.1l5.7-1.2l13.8-3.9M415.3 653.7l9.7-1.7l2 2.9l8.4 29.8l8 27.2l5.9 18l5.6 15.7l5.5 13.3l3.6 7.7l3.5 6.9l3.5 6l3.4 5.2l3.3 4.6l3.4 4l3.2 3.4l3.3 2.9l3.2 2.5l3.2 2.1l3.1 1.7l4.7 2.1l3 1l4.6 1.1l4.5 .7l4.4 .3l4.4 0l4.3-.2l5.7-.7l5.7-.9l12.3-2.8M424.8 655.2l13.5-2.4l2.1 4.8l12 39.8l5.8 18.1l5.6 16.2l5.5 14.3l5.3 12.3l3.5 7.1l3.5 6.4l3.4 5.6l3.3 5l3.3 4.4l3.3 3.9l3.2 3.3l3.2 2.9l3.1 2.5l3.1 2.2l3.1 1.8l4.6 2.1l3 1.2l4.5 1.3l7.4 1.2l4.3 .3l4.3-0l4.2-.2l5.6-.6l10.9-1.9M434.5 656.7l17.3-3.1l17.5 54.4l7.4 20.9l5.3 13.6l3.5 8.1l3.5 7.4l3.4 6.6l3.4 6l3.3 5.3l3.2 4.8l3.3 4.2l3.2 3.7l3.1 3.3l3.2 2.8l3 2.5l3.1 2.2l6.1 3.4l2.9 1.3l4.5 1.5l2.9 .8l4.3 .9l4.3 .5l4.3 .3l8.3-.2l9.5-1.2M444.3 658.3l19.2-3.5l1.9 1.4l13.3 40l5.5 15.8l7.2 19.1l5.2 12.5l6.8 14.4l3.3 6.2l3.3 5.6l3.2 5l3.2 4.5l3.2 4.1l3.1 3.6l4.6 4.6l6.1 4.9l6 3.8l2.9 1.4l4.4 1.8l2.9 1l4.2 1.1l7.1 1.1l8.2 .3l8.1-.5M454.4 659.9l22.8-4.3l1.9 3.3l13.1 37.1l7.1 19.6l5.2 13.4l5.1 12l6.7 13.9l6.5 11.7l6.3 9.6l6.2 7.7l6.1 6.2l5.9 4.9l5.9 3.8l5.7 2.8l5.7 2l7 1.6l6.8 .7l8 .1M464.6 661.5l26.5-5.1l19.8 53.7l5.1 13.1l5.1 11.9l4.9 10.7l4.9 9.6l4.7 8.4l6.2 9.5l6.1 7.9l6 6.4l5.9 5.1l5.7 4l2.9 1.6l4.2 2.1l7 2.5l4.1 1l4 .7l8 .7M475.1 663.2l28.2-5.6l1.8 .7l1.9 5.2l15.8 41.9l5.1 12.8l4.9 11.8l4.9 10.7l6.3 12.6l4.7 8.3l6.1 9.4l6 7.9l5.9 6.5l5.8 5.3l5.6 4.2l5.6 3.3l6.9 3l6.7 2.1l4 .8l3.9 .5M485.7 664.9l31.8-6.4l1.7 2.4l17.3 45l6.6 16l4.8 11l4.7 10l4.7 9.1l4.6 8l4.5 7.2l5.9 8.3l5.8 6.9l5.7 5.6l5.6 4.6l5.5 3.7l6.7 3.5l6.7 2.4l6.5 1.6M496.6 666.6l35.2-7.3l1.8 4.1l15.2 39.6l9.6 23.2l4.7 10.3l4.6 9.4l4.5 8.5l6 10l4.3 6.5l5.8 7.5l5.6 6.3l5.6 5.1l5.4 4.3l6.7 4.1l6.6 2.9l6.5 2.1M507.7 668.4l36.8-7.8l1.8 0l3.4 10.3l8.3 22.2l6.4 16.5l6.3 15.1l4.6 10.4l4.5 9.4l4.5 8.6l5.8 10.1l4.3 6.6l5.6 7.7l5.6 6.5l5.5 5.4l5.3 4.4l6.7 4.3l5.2 2.7l6.4 2.4M519 670.2l40.2-8.7l1.7 2.2l3.3 10.7l6.4 18.8l6.3 17.1l6.2 15.4l4.5 10.6l4.4 9.5l4.4 8.7l5.7 10.1l4.2 6.7l5.6 7.7l5.5 6.4l5.4 5.4l5.3 4.4l5.2 3.6l5.1 2.8l6.4 2.6M530.5 672l43.4-9.6l1.7 5.1l3.1 12.4l4.7 16l4.6 14.3l4.5 13l4.5 11.7l4.4 10.5l4.3 9.3l5.6 10.8l4.2 7l5.6 8.1l5.4 6.6l5.3 5.5l5.3 4.5l5.2 3.6l6.4 3.4l6.3 2.4M542.3 673.9l46.6-10.6l1.5 11.4l2.9 17.2l2.9 14.2l4.4 17.7l4.4 14.6l4.3 12.2l4.3 10.2l4.2 8.7l4.2 7.3l2.8 4.2l2.7 3.7l5.5 6.4l5.4 5.1l2.6 2.1l4 2.7l6.5 3.6l6.4 2.5l3.8 1.1l3.7 .8"/><path class="axis" d="M375.7 648.3L384.2 851.1L542.1 908.8L668.1 842.7M384.2 851.1L381 852.4M383.2 825.5L379.9 826.7M382.1 799.5L378.8 800.5M381 773L377.6 774M379.8 746.1L376.5 747M378.7 718.8L375.3 719.6M377.5 691L374.1 691.7M376.3 662.7L372.9 663.4M383.7 838.4L381.9 839M382.6 812.5L380.8 813.2M381.5 786.3L379.7 786.9M380.4 759.6L378.6 760.1M379.3 732.5L377.4 733M378.1 704.9L376.2 705.4M376.9 676.9L375 677.3M409.8 860.5L407.6 861.3M439.9 871.5L437.7 872.4M471.9 883.1L469.7 884.1M505.9 895.6L503.8 896.6M542.1 908.8L540 909.9M395.4 855.2L394.2 855.7M424.6 865.9L423.4 866.4M455.7 877.2L454.5 877.7M488.6 889.2L487.4 889.8M523.7 902.1L522.5 902.6M571.1 893.6L573.6 894.5M597.9 879.5L600.4 880.4M622.9 866.4L625.4 867.2M646.2 854.2L648.7 854.9M668.1 842.7L670.5 843.4M556.9 901L558.3 901.5M584.7 886.4L586.1 886.9M610.6 872.9L612 873.3M634.7 860.2L636.1 860.6M657.3 848.4L658.7 848.8"/><text class="tl" text-anchor="end" transform="matrix(0.904 -0.340 0.045 1.058 381.14 852.31)" y="2.6">0.000</text><text class="tl" text-anchor="end" transform="matrix(0.912 -0.318 0.046 1.075 380.03 826.61)" y="2.6">0.002</text><text class="tl" text-anchor="end" transform="matrix(0.921 -0.296 0.047 1.093 378.91 800.49)" y="2.6">0.004</text><text class="tl" text-anchor="end" transform="matrix(0.929 -0.272 0.048 1.110 377.77 773.95)" y="2.6">0.006</text><text class="tl" text-anchor="end" transform="matrix(0.938 -0.248 0.048 1.129 376.62 746.97)" y="2.6">0.008</text><text class="tl" text-anchor="end" transform="matrix(0.947 -0.223 0.049 1.147 375.44 719.55)" y="2.6">0.010</text><text class="tl" text-anchor="end" transform="matrix(0.956 -0.197 0.050 1.166 374.24 691.67)" y="2.6">0.012</text><text class="tl" text-anchor="end" transform="matrix(0.965 -0.170 0.051 1.186 373.02 663.33)" y="2.6">0.014</text><text class="tl" text-anchor="end" transform="matrix(1.031 -0.409 0.732 0.270 404.81 862.44)" y="3.5">10</text><text class="tl" text-anchor="end" transform="matrix(1.028 -0.434 0.776 0.286 434.95 873.56)" y="3.5">20</text><text class="tl" text-anchor="end" transform="matrix(1.022 -0.461 0.825 0.304 466.95 885.36)" y="3.5">30</text><text class="tl" text-anchor="end" transform="matrix(1.013 -0.491 0.878 0.324 501.00 897.92)" y="3.5">40</text><text class="tl" text-anchor="end" transform="matrix(1.000 -0.525 0.937 0.346 537.29 911.31)" y="3.5">50</text><text class="tl" text-anchor="start" transform="matrix(1.120 0.384 -0.970 0.515 577.00 895.64)" y="3.5">10</text><text class="tl" text-anchor="start" transform="matrix(1.105 0.358 -0.903 0.479 603.74 881.44)" y="3.5">20</text><text class="tl" text-anchor="start" transform="matrix(1.089 0.334 -0.842 0.447 628.65 868.21)" y="3.5">30</text><text class="tl" text-anchor="start" transform="matrix(1.073 0.312 -0.788 0.418 651.92 855.85)" y="3.5">40</text><text class="tl" text-anchor="start" transform="matrix(1.057 0.293 -0.738 0.392 673.70 844.29)" y="3.5">50</text><text class="tt" text-anchor="middle" transform="matrix(0.074 1.347 -0.981 0.267 4.70 134.60)" y="3.6">E</text><text class="tt" text-anchor="middle" transform="matrix(0.931 0.368 -1.308 0.566 87.70 260.10)" y="3.6">D</text><text class="tt" text-anchor="middle" transform="matrix(1.002 0.323 -0.919 0.495 283.40 252.70)" y="3.6">L</text><text class="tt" text-anchor="middle" transform="matrix(0.076 1.382 -1.011 0.279 343.40 138.00)" y="3.6">E</text><text class="tt" text-anchor="middle" transform="matrix(0.962 0.373 -1.342 0.585 428.30 263.40)" y="3.6">D</text><text class="tt" text-anchor="middle" transform="matrix(1.028 0.328 -0.938 0.511 627.20 255.90)" y="3.6">L</text><text class="tt" text-anchor="middle" transform="matrix(0.075 1.355 -1.023 0.280 8.10 761.30)" y="3.6">E</text><text class="tt" text-anchor="middle" transform="matrix(0.875 0.339 -1.213 0.535 96.90 882.40)" y="3.6">H</text><text class="tt" text-anchor="middle" transform="matrix(1.027 0.328 -0.930 0.518 288.10 876.20)" y="3.6">R</text><text class="tt" text-anchor="middle" transform="matrix(0.072 1.392 -1.028 0.279 347.60 761.90)" y="3.6">E</text><text class="tt" text-anchor="middle" transform="matrix(0.901 0.342 -1.216 0.533 439.10 886.00)" y="3.6">H</text><text class="tt" text-anchor="middle" transform="matrix(1.052 0.331 -0.937 0.517 633.00 880.00)" y="3.6">R</text><rect x="206.3" y="334.2" width="280.2" height="209.2" fill="none" stroke="#6e6e6e" stroke-width="1.2"/><path d="M206.3 530.3h4.7M206.3 504.1h4.7M206.3 478.0h4.7M206.3 451.8h4.7M206.3 425.6h4.7M206.3 399.4h4.7M206.3 373.3h4.7M206.3 347.1h4.7M206.3 517.2h2.6M206.3 491.0h2.6M206.3 464.9h2.6M206.3 438.7h2.6M206.3 412.5h2.6M206.3 386.4h2.6M206.3 360.2h2.6M206.3 334.0h2.6M206.3 543.4v-4.7M262.3 543.4v-4.7M318.3 543.4v-4.7M374.3 543.4v-4.7M430.3 543.4v-4.7M486.3 543.4v-4.7M234.3 543.4v-2.6M290.3 543.4v-2.6M346.3 543.4v-2.6M402.3 543.4v-2.6M458.3 543.4v-2.6" stroke="#6e6e6e" stroke-width="1.1" fill="none"/><text class="ct" x="201.2" y="534.6" text-anchor="end">0.00</text><text class="ct" x="201.2" y="508.4" text-anchor="end">0.02</text><text class="ct" x="201.2" y="482.3" text-anchor="end">0.04</text><text class="ct" x="201.2" y="456.1" text-anchor="end">0.06</text><text class="ct" x="201.2" y="429.9" text-anchor="end">0.08</text><text class="ct" x="201.2" y="403.7" text-anchor="end">0.10</text><text class="ct" x="201.2" y="377.6" text-anchor="end">0.12</text><text class="ct" x="201.2" y="351.4" text-anchor="end">0.14</text><text class="ct" x="206.3" y="557.2" text-anchor="middle">0</text><text class="ct" x="262.3" y="557.2" text-anchor="middle">20</text><text class="ct" x="318.3" y="557.2" text-anchor="middle">40</text><text class="ct" x="374.3" y="557.2" text-anchor="middle">60</text><text class="ct" x="430.3" y="557.2" text-anchor="middle">80</text><text class="ct" x="486.3" y="557.2" text-anchor="middle">100</text><text class="cb" transform="translate(160.9 446.8) rotate(-90)" text-anchor="middle">E</text><text class="cb" x="346.3" y="579.6" text-anchor="middle">L</text><path d="M208.8 522.4L210.5 525L212.3 526.8L215.8 527.7L226.3 528.2L238.5 528.2L247.3 527.5L261.3 527.5L275.3 527.1L282.3 526.3L285.8 525L291.1 522.4L298.1 522.1L301.6 521.5L305.1 519.8L312.1 518.6L319.4 516.4L323.6 515.9L326.4 513.6L333.3 511.7L337.4 509.8L343 504.8L348.5 501.4L352.7 498.7L357.4 495.9L361 485.9L365.2 484L370.7 478.4L376.3 472.9L380.4 470.1L383.2 466.5L388.8 462.6L394.3 459.8L399.9 457L404 452L406.8 449.3L408.7 443.7L413.7 439.6L419.3 436.8L424.8 433.2L427.6 427.6L430.4 425.7L433.1 421.5L435.9 416L440.1 411.8L444.2 403.5L449.8 400.7L455.3 393.2L460.9 389.6L466.4 384.1L469.8 374.4L474.8 368.8L478.9 360.5L483.1 352.2L485.8 348.9" fill="none" stroke="#000" stroke-width="1.15" stroke-linejoin="round"/><path d="M208.8 522.4L210.5 525L212.3 526.8L215.8 527.7L226.3 528.2L238.5 528.4L250 528.4L262 528.2L275.3 528.4L287.6 527.7L300 527.5L313.9 527L327.7 526.1L341.6 524.7L355.5 522L363.8 518.6L377.7 515.3L391.5 511.7L405.4 508.1L416.5 504.8L424.8 498.7L434.5 493.1L444.2 488.1L452.6 484.8L465 482.6L472 474.2L478.9 463.1L485.8 454.8" fill="none" stroke="#000" stroke-width="1.05" stroke-dasharray="5 3.2"/><rect x="320.5" y="335.8" width="155.8" height="27.6" fill="#fff" stroke="#000" stroke-width="1"/><path d="M325.2 344.5H352" stroke="#000" stroke-width="1" stroke-dasharray="5.5 3"/><path d="M325.2 354.5H352" stroke="#000" stroke-width="1"/><text class="lg" x="355.6" y="347.9">Hybrid filter</text><text class="lg" x="355.6" y="358.4">Alternating hybrid filter</text><text class="cap" x="176.5" y="309.7" text-anchor="middle">(a) Hybrid filter with straight line</text><text class="cap" x="177" y="328" text-anchor="middle">structure element</text><text class="cap" x="510.3" y="310" text-anchor="middle">(b) Alternating hybrid filter with straight line</text><text class="cap" x="511" y="328.5" text-anchor="middle">structure element</text><text class="cap" x="336.9" y="603.7" text-anchor="middle">(c) Filters with rhombic structure element</text><text class="cap" x="185.5" y="936" text-anchor="middle">(d) Hybrid filter with spherical structure</text><text class="cap" x="185" y="955.5" text-anchor="middle">element</text><text class="cap" x="521" y="936" text-anchor="middle">(e) Alternating hybrid filter with spherical</text><text class="cap" x="521" y="955.5" text-anchor="middle">structure element</text></svg></body></html>
